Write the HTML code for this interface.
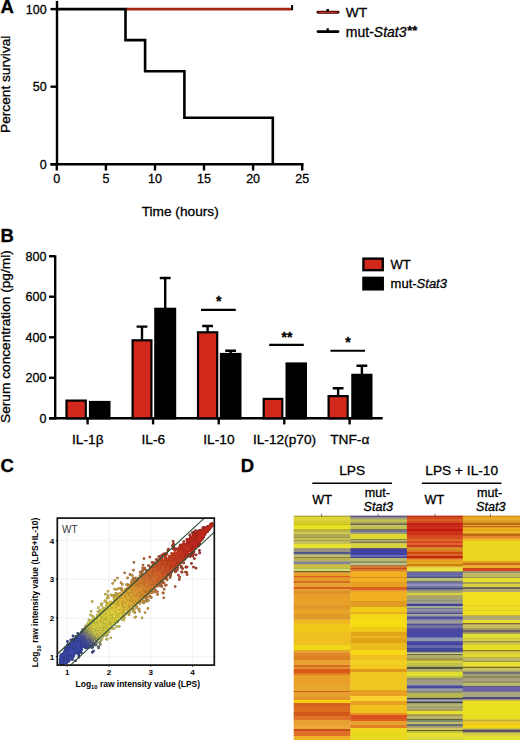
<!DOCTYPE html>
<html><head><meta charset="utf-8"><style>
html,body{margin:0;padding:0;background:#fff;width:520px;height:740px;overflow:hidden}
svg{display:block}
text{font-family:"Liberation Sans", sans-serif;fill:#000;stroke:#000;stroke-width:0.3px}
.pl{font-size:18.5px;font-weight:bold}
.t12{font-size:13.7px}
.n{font-size:12.5px}
.sh{font-size:12.6px}
.t125{font-size:13.7px}
.it{font-style:italic}
.star{font-size:14px;font-weight:bold}
.c8{font-size:8px;font-weight:bold;stroke:none}
.c10{font-size:8.8px;font-weight:bold;stroke:none}
.wt{font-size:10px;fill:#3a3a3a;stroke:none}
.ax{stroke:#000;stroke-width:2.4;fill:none}
</style></head><body>
<svg width="520" height="740" viewBox="0 0 520 740">
<text x="0.5" y="12.7" class="pl">A</text>
<path d="M57 1 V165.5" class="ax"/>
<path d="M50.5 164.3 H303.5" class="ax"/>
<path d="M50.5 164.3 H57" class="ax"/>
<text x="46.6" y="168.7" class="n" text-anchor="end">0</text>
<path d="M50.5 86.7 H57" class="ax"/>
<text x="46.6" y="91.1" class="n" text-anchor="end">50</text>
<path d="M50.5 9.1 H57" class="ax"/>
<text x="46.6" y="13.5" class="n" text-anchor="end">100</text>
<path d="M56.8 164.3 V170.5" class="ax"/>
<text x="56.8" y="183" class="n" text-anchor="middle">0</text>
<path d="M105.9 164.3 V170.5" class="ax"/>
<text x="105.9" y="183" class="n" text-anchor="middle">5</text>
<path d="M155.0 164.3 V170.5" class="ax"/>
<text x="155.0" y="183" class="n" text-anchor="middle">10</text>
<path d="M204.0 164.3 V170.5" class="ax"/>
<text x="204.0" y="183" class="n" text-anchor="middle">15</text>
<path d="M253.1 164.3 V170.5" class="ax"/>
<text x="253.1" y="183" class="n" text-anchor="middle">20</text>
<path d="M302.2 164.3 V170.5" class="ax"/>
<text x="302.2" y="183" class="n" text-anchor="middle">25</text>
<path d="M125.5 9.1 H292.4" stroke="#a82412" stroke-width="2.6" fill="none"/>
<path d="M292.1 5 V10" stroke="#000" stroke-width="2" fill="none"/>
<path d="M56.8 9.1 L125.5 9.1 L125.5 40.1 L145.1 40.1 L145.1 71.2 L184.4 71.2 L184.4 117.7 L272.8 117.7 L272.8 164.3" stroke="#000" stroke-width="2.6" fill="none" stroke-linejoin="miter"/>
<path d="M318 12.3 H338" stroke="#300" stroke-width="2.9" stroke-linecap="round"/>
<path d="M318.5 12.3 H337.5" stroke="#c02818" stroke-width="1.5"/>
<path d="M327.7 9 V12" stroke="#000" stroke-width="2.4"/>
<path d="M318 31.6 H338" stroke="#000" stroke-width="2.9" stroke-linecap="round"/>
<path d="M327.7 28.3 V31" stroke="#000" stroke-width="2.4"/>
<text x="345.8" y="17.3" class="t12">WT</text>
<text x="345.8" y="36.5" class="t12" style="font-size:14px">mut-<tspan font-style="italic">Stat3</tspan><tspan font-weight="bold" dx="0.8" dy="-1.6" style="font-size:13px">**</tspan></text>
<text transform="translate(9.9 84.3) rotate(-90)" class="t12" text-anchor="middle">Percent survival</text>
<text x="180.2" y="216.2" class="t12" text-anchor="middle">Time (hours)</text>
<text x="0.5" y="241.8" class="pl">B</text>
<path d="M55.2 255.3 V419.5" class="ax"/>
<path d="M49 418.3 H382.7" class="ax"/>
<path d="M49 418.3 H55.2" class="ax"/>
<text x="46.4" y="422.7" class="n" text-anchor="end">0</text>
<path d="M49 377.8 H55.2" class="ax"/>
<text x="46.4" y="382.2" class="n" text-anchor="end">200</text>
<path d="M49 337.3 H55.2" class="ax"/>
<text x="46.4" y="341.7" class="n" text-anchor="end">400</text>
<path d="M49 296.7 H55.2" class="ax"/>
<text x="46.4" y="301.1" class="n" text-anchor="end">600</text>
<path d="M49 256.2 H55.2" class="ax"/>
<text x="46.4" y="260.6" class="n" text-anchor="end">800</text>
<path d="M87.6 418.3 V424.4" class="ax"/>
<path d="M153.1 418.3 V424.4" class="ax"/>
<path d="M218.7 418.3 V424.4" class="ax"/>
<path d="M284.3 418.3 V424.4" class="ax"/>
<path d="M349.6 418.3 V424.4" class="ax"/>
<rect x="66.50" y="400.60" width="19.30" height="17.70" fill="#d2281c" stroke="#000" stroke-width="2.2"/>
<rect x="90.00" y="402.00" width="19.40" height="16.30" fill="#000" stroke="#000" stroke-width="2.2"/>
<rect x="132.60" y="340.30" width="18.80" height="78.00" fill="#d2281c" stroke="#000" stroke-width="2.2"/>
<path d="M142.00 340.2 V326.6 M136.60 326.6 H147.40" class="ax"/>
<rect x="155.30" y="308.80" width="19.80" height="109.50" fill="#000" stroke="#000" stroke-width="2.2"/>
<path d="M165.20 308.7 V278.0 M159.80 278.0 H170.60" class="ax"/>
<rect x="198.00" y="332.30" width="19.20" height="86.00" fill="#d2281c" stroke="#000" stroke-width="2.2"/>
<path d="M207.60 332.2 V326.0 M202.20 326.0 H213.00" class="ax"/>
<rect x="220.90" y="354.00" width="19.50" height="64.30" fill="#000" stroke="#000" stroke-width="2.2"/>
<path d="M230.65 353.9 V350.8 M225.25 350.8 H236.05" class="ax"/>
<rect x="263.70" y="398.90" width="18.60" height="19.40" fill="#d2281c" stroke="#000" stroke-width="2.2"/>
<rect x="286.60" y="363.50" width="19.30" height="54.80" fill="#000" stroke="#000" stroke-width="2.2"/>
<rect x="328.60" y="396.10" width="19.05" height="22.20" fill="#d2281c" stroke="#000" stroke-width="2.2"/>
<path d="M338.12 396.0 V388.2 M332.73 388.2 H343.52" class="ax"/>
<rect x="352.35" y="374.85" width="19.05" height="43.45" fill="#000" stroke="#000" stroke-width="2.2"/>
<path d="M361.88 374.8 V365.8 M356.48 365.8 H367.27" class="ax"/>
<path d="M201 309.8 H235.8" stroke="#000" stroke-width="2.2"/>
<text x="218.8" y="306.3" class="star" text-anchor="middle">*</text>
<path d="M269.2 344.8 H303.8" stroke="#000" stroke-width="2.2"/>
<text x="287" y="341.6" class="star" text-anchor="middle">**</text>
<path d="M330.5 350.75 H365" stroke="#000" stroke-width="2.2"/>
<text x="348" y="347.3" class="star" text-anchor="middle">*</text>
<text x="87.8" y="443.6" class="t125" text-anchor="middle">IL-1β</text>
<text x="153.29999999999998" y="443.6" class="t125" text-anchor="middle">IL-6</text>
<text x="218.89999999999998" y="443.6" class="t125" text-anchor="middle">IL-10</text>
<text x="284.5" y="443.6" class="t125" text-anchor="middle">IL-12(p70)</text>
<text x="349.8" y="443.6" class="t125" text-anchor="middle">TNF-α</text>
<rect x="363.4" y="258.6" width="19.4" height="11.6" fill="#d2281c" stroke="#000" stroke-width="2.3"/>
<rect x="363.4" y="277.8" width="19.4" height="11.6" fill="#000" stroke="#000" stroke-width="2.3"/>
<text x="390.6" y="268.9" class="t12" style="font-size:13px">WT</text>
<text x="390.6" y="288.4" class="t12" style="font-size:13px">mut-<tspan font-style="italic">Stat3</tspan></text>
<text transform="translate(10.2 336.6) rotate(-90)" class="t12" text-anchor="middle">Serum concentration (pg/ml)</text>
<text x="0.5" y="472.4" class="pl">C</text>
<path d="M67.2 518.1 V665.1" stroke="#f5f5f5" stroke-width="1.5"/>
<path d="M57.3 656.5 H214.3" stroke="#f5f5f5" stroke-width="1.5"/>
<path d="M109.0 518.1 V665.1" stroke="#f5f5f5" stroke-width="1.5"/>
<path d="M57.3 617.9 H214.3" stroke="#f5f5f5" stroke-width="1.5"/>
<path d="M150.7 518.1 V665.1" stroke="#f5f5f5" stroke-width="1.5"/>
<path d="M57.3 579.2 H214.3" stroke="#f5f5f5" stroke-width="1.5"/>
<path d="M192.5 518.1 V665.1" stroke="#f5f5f5" stroke-width="1.5"/>
<path d="M57.3 540.6 H214.3" stroke="#f5f5f5" stroke-width="1.5"/>
<defs><linearGradient id="cg" gradientUnits="userSpaceOnUse" x1="60.9" y1="662.3" x2="211.3" y2="523.2">
<stop offset="0.000" stop-color="#3947a9"/>
<stop offset="0.142" stop-color="#3a48a8"/>
<stop offset="0.167" stop-color="#545a96"/>
<stop offset="0.192" stop-color="#8c8c6c"/>
<stop offset="0.219" stop-color="#d4cc40"/>
<stop offset="0.347" stop-color="#e6d83a"/>
<stop offset="0.444" stop-color="#e6b432"/>
<stop offset="0.542" stop-color="#e2882e"/>
<stop offset="0.625" stop-color="#dc6828"/>
<stop offset="0.722" stop-color="#d2421e"/>
<stop offset="0.847" stop-color="#c82a1a"/>
<stop offset="1.000" stop-color="#c62718"/>
</linearGradient></defs>
<polygon points="61.4,656.3 62.2,655.1 63.0,653.9 63.9,652.7 64.7,651.5 65.5,650.4 66.4,649.2 67.2,648.3 68.0,647.5 68.9,646.7 69.7,646.0 70.5,645.2 71.4,644.4 72.2,643.7 73.0,642.9 73.9,642.1 74.7,641.3 75.6,640.6 76.4,639.8 77.2,639.0 78.1,638.2 78.9,637.5 79.7,636.7 80.6,635.9 81.4,635.2 82.2,634.4 83.1,633.6 83.9,632.8 84.7,632.1 85.6,631.3 86.4,630.5 87.2,629.7 88.1,626.2 88.9,625.4 89.8,624.6 90.6,623.9 91.4,623.1 92.3,622.3 93.1,621.5 93.9,620.8 94.8,620.0 95.6,619.2 96.4,618.4 97.3,617.7 98.1,616.9 98.9,616.1 99.8,615.4 100.6,614.6 101.5,613.8 102.3,613.0 103.1,612.3 104.0,611.5 104.8,610.7 105.6,610.0 106.5,609.2 107.3,608.4 108.1,607.6 109.0,606.9 109.8,606.1 110.6,605.3 111.5,604.5 112.3,603.8 113.1,603.0 114.0,602.2 114.8,601.5 115.7,600.7 116.5,599.9 117.3,599.1 118.2,598.4 119.0,597.6 119.8,596.8 120.7,596.0 121.5,595.3 122.3,594.5 123.2,593.7 124.0,593.0 124.8,592.2 125.7,591.4 126.5,590.6 127.3,589.9 128.2,589.1 129.0,588.3 129.9,587.5 130.7,586.8 131.5,586.0 132.4,585.2 133.2,584.5 134.0,586.5 134.9,585.7 135.7,584.9 136.5,584.2 137.4,583.4 138.2,582.6 139.0,581.8 139.9,581.1 140.7,580.3 141.6,579.5 142.4,578.8 143.2,578.0 144.1,577.2 144.9,576.4 145.7,575.7 146.6,574.9 147.4,574.1 148.2,573.3 149.1,572.6 149.9,571.8 150.7,571.0 151.6,570.3 152.4,569.5 153.2,568.7 154.1,567.9 154.9,567.2 155.8,566.4 156.6,565.6 157.4,564.9 158.3,564.1 159.1,563.3 159.9,562.5 160.8,561.8 161.6,561.0 162.4,560.2 163.3,559.4 164.1,558.7 164.9,557.9 165.8,557.1 166.6,556.4 167.4,559.7 168.3,559.0 169.1,558.2 170.0,557.4 170.8,556.6 171.6,555.9 172.5,555.1 173.3,554.3 174.1,553.6 175.0,552.8 175.8,552.0 176.6,551.2 177.5,550.5 178.3,549.7 179.1,548.9 180.0,548.1 180.8,547.4 181.6,546.6 182.5,545.8 183.3,545.1 184.2,544.3 185.0,543.5 185.8,542.7 186.7,542.0 187.5,541.2 188.3,540.4 189.2,539.6 190.0,538.9 190.8,538.1 191.7,537.3 192.5,536.6 193.3,536.1 194.2,535.6 195.0,535.0 195.9,534.5 196.7,534.0 197.5,533.5 198.4,533.0 199.2,532.5 200.0,532.0 200.9,531.5 201.7,531.0 202.5,530.5 203.4,530.0 204.2,529.5 205.0,529.0 205.9,528.5 206.7,528.0 207.5,527.5 208.4,527.0 209.2,526.5 210.1,525.8 210.9,525.1 211.7,524.3 211.7,526.0 210.9,526.8 210.1,527.6 209.2,528.4 208.4,529.5 207.5,530.5 206.7,531.6 205.9,532.6 205.0,533.6 204.2,534.7 203.4,535.7 202.5,536.8 201.7,537.8 200.9,538.9 200.0,539.9 199.2,541.0 198.4,542.0 197.5,543.0 196.7,544.1 195.9,545.1 195.0,546.2 194.2,547.2 193.3,548.3 192.5,549.3 191.7,550.1 190.8,550.8 190.0,551.6 189.2,552.4 188.3,553.2 187.5,553.9 186.7,554.7 185.8,555.5 185.0,556.3 184.2,557.0 183.3,557.8 182.5,558.6 181.6,559.3 180.8,560.1 180.0,560.9 179.1,561.7 178.3,562.4 177.5,563.2 176.6,564.0 175.8,564.8 175.0,565.5 174.1,566.3 173.3,567.1 172.5,567.8 171.6,568.6 170.8,569.4 170.0,570.2 169.1,570.9 168.3,571.7 167.4,572.5 166.6,574.3 165.8,575.1 164.9,575.9 164.1,576.6 163.3,577.4 162.4,578.2 161.6,579.0 160.8,579.7 159.9,580.5 159.1,581.3 158.3,582.0 157.4,582.8 156.6,583.6 155.8,584.4 154.9,585.1 154.1,585.9 153.2,586.7 152.4,587.4 151.6,588.2 150.7,589.0 149.9,589.8 149.1,590.5 148.2,591.3 147.4,592.1 146.6,592.9 145.7,593.6 144.9,594.4 144.1,595.2 143.2,595.9 142.4,596.7 141.6,597.5 140.7,598.3 139.9,599.0 139.0,599.8 138.2,600.6 137.4,601.4 136.5,602.1 135.7,602.9 134.9,603.7 134.0,604.4 133.2,604.2 132.4,604.9 131.5,605.7 130.7,606.5 129.9,607.2 129.0,608.0 128.2,608.8 127.3,609.6 126.5,610.3 125.7,611.1 124.8,611.9 124.0,612.7 123.2,613.4 122.3,614.2 121.5,615.0 120.7,615.7 119.8,616.5 119.0,617.3 118.2,618.1 117.3,618.8 116.5,619.6 115.7,620.4 114.8,621.2 114.0,621.9 113.1,622.7 112.3,623.5 111.5,624.2 110.6,625.0 109.8,625.8 109.0,626.6 108.1,627.3 107.3,628.1 106.5,628.9 105.6,629.7 104.8,630.4 104.0,631.2 103.1,632.0 102.3,632.7 101.5,633.5 100.6,634.3 99.8,635.1 98.9,635.8 98.1,636.6 97.3,637.4 96.4,638.2 95.6,638.9 94.8,639.7 93.9,640.5 93.1,641.2 92.3,642.0 91.4,642.8 90.6,643.6 89.8,644.3 88.9,645.1 88.1,645.9 87.2,643.1 86.4,643.8 85.6,644.6 84.7,645.4 83.9,646.2 83.1,646.9 82.2,647.7 81.4,648.5 80.6,649.3 79.7,650.0 78.9,650.8 78.1,651.6 77.2,652.3 76.4,653.1 75.6,653.9 74.7,654.7 73.9,655.4 73.0,656.2 72.2,657.0 71.4,657.8 70.5,658.5 69.7,659.3 68.9,660.1 68.0,660.8 67.2,661.6 66.4,662.3 65.5,662.6 64.7,663.0 63.9,663.4 63.0,663.7 62.2,664.1 61.4,664.5" fill="url(#cg)"/>
<path d="M144.5 588.1h0M137.5 587.3h0M145.8 591.7h0M146.9 594.4h0M142.8 587.6h0M146.6 594.6h0M142.6 589.1h0M143.7 589.5h0M142.9 590.4h0M143.4 592.1h0M141.4 588.1h0M133.0 582.4h0M142.1 587.4h0M135.6 583.7h0M142.9 588.2h0M147.1 595.9h0M136.5 586.2h0M143.2 589.2h0M143.4 592.5h0M147.2 595.5h0M143.2 590.5h0M137.2 586.6h0M132.4 582.3h0M138.4 582.7h0M136.4 586.2h0M137.7 584.5h0" stroke="#b07028" stroke-width="2.8" stroke-linecap="round" fill="none"/>
<path d="M171.5 556.7h0M176.0 556.6h0M177.3 559.7h0M179.8 556.3h0M170.2 557.4h0M180.4 554.3h0M177.4 553.7h0M173.2 557.7h0M174.2 561.5h0M175.3 556.2h0M172.7 558.4h0M177.8 557.1h0M179.9 553.4h0M180.4 561.9h0M175.0 556.7h0M181.6 557.1h0M177.2 559.7h0M178.9 559.2h0M181.2 557.2h0M180.1 558.6h0M177.8 556.9h0M179.3 556.3h0M172.9 559.3h0M180.3 555.3h0M182.6 559.7h0M170.4 557.5h0M170.9 558.4h0M175.5 559.7h0M179.7 562.6h0M172.1 557.3h0M177.4 559.6h0M173.2 560.6h0M175.8 557.0h0M176.6 559.3h0M175.7 563.0h0M178.3 560.0h0M178.9 564.4h0" stroke="#a03018" stroke-width="2.8" stroke-linecap="round" fill="none"/>
<path d="M153.8 567.7h0M156.8 570.3h0M156.5 570.7h0M156.2 571.0h0M156.1 571.9h0M158.4 574.0h0M156.1 571.5h0M164.9 578.8h0" stroke="#a85020" stroke-width="2.8" stroke-linecap="round" fill="none"/>
<path d="M187.7 547.2h0M186.2 547.8h0M183.3 551.1h0M182.2 553.8h0M190.3 550.2h0M186.5 552.6h0M185.8 555.4h0M185.9 555.3h0M187.3 550.4h0M184.0 549.2h0M182.4 550.9h0M184.9 557.2h0M183.3 553.1h0M180.1 550.8h0M185.7 553.6h0M188.8 549.0h0M183.4 546.6h0M185.2 549.3h0M184.1 552.5h0M185.5 550.8h0M187.4 550.4h0M181.5 551.2h0M182.6 548.9h0M185.2 546.7h0M180.2 551.8h0M182.3 544.9h0M187.3 555.1h0M187.8 553.5h0M189.0 548.8h0M185.9 547.6h0M183.6 546.7h0M182.5 552.6h0M188.1 548.7h0M183.6 546.2h0M179.6 551.5h0M183.3 544.1h0M182.4 547.1h0M182.6 550.2h0M182.0 550.1h0M185.9 550.3h0M182.6 551.2h0" stroke="#a02818" stroke-width="2.8" stroke-linecap="round" fill="none"/>
<path d="M96.0 633.6h0M92.2 629.6h0M97.5 633.1h0M93.8 629.7h0M92.8 627.8h0M96.6 631.0h0M91.9 628.4h0M95.1 628.8h0M96.6 632.7h0M98.1 633.4h0M95.8 633.8h0M92.2 630.1h0M95.0 629.8h0M97.5 630.8h0M98.9 635.3h0" stroke="#a8a038" stroke-width="2.8" stroke-linecap="round" fill="none"/>
<path d="M99.7 642.4h0" stroke="#787850" stroke-width="2.8" stroke-linecap="round" fill="none"/>
<path d="M164.8 567.8h0M163.8 568.8h0M162.0 565.3h0M162.6 562.9h0M169.2 570.3h0M168.7 568.9h0M162.3 567.6h0M163.4 561.8h0M161.4 562.6h0M170.0 569.0h0M167.9 572.7h0M164.9 564.1h0M169.0 568.5h0M166.5 564.8h0M162.9 565.3h0M165.5 564.2h0M168.0 572.9h0M171.1 570.4h0M163.2 565.3h0" stroke="#a84020" stroke-width="2.8" stroke-linecap="round" fill="none"/>
<path d="M167.5 564.1h0M176.1 565.4h0M168.5 561.7h0M169.9 561.2h0M171.5 561.4h0M171.9 567.2h0M167.9 561.4h0M170.0 560.1h0M169.4 561.9h0M166.7 562.9h0M173.0 565.0h0M171.3 561.1h0M167.8 562.6h0M171.7 562.4h0M172.9 567.7h0M170.1 566.7h0M171.2 564.1h0M165.7 561.8h0M164.1 561.3h0M166.7 563.0h0" stroke="#a83818" stroke-width="2.8" stroke-linecap="round" fill="none"/>
<path d="M95.2 634.1h0M104.8 601.2h0M94.0 633.5h0M89.4 629.0h0M124.5 617.6h0" stroke="#a09840" stroke-width="2.8" stroke-linecap="round" fill="none"/>
<path d="M83.3 639.2h0" stroke="#384078" stroke-width="2.8" stroke-linecap="round" fill="none"/>
<path d="M208.9 526.6h0M199.1 535.2h0M208.9 527.4h0M195.4 537.0h0M211.5 525.8h0M199.6 536.9h0M197.3 538.5h0M194.3 538.4h0M200.2 536.7h0M199.1 534.6h0M198.7 535.5h0M196.9 536.7h0M195.3 539.4h0M199.5 535.2h0M207.7 528.4h0M209.2 528.0h0M201.7 534.0h0M206.0 529.8h0M202.2 531.1h0M199.2 541.7h0M197.0 536.2h0M198.2 536.7h0M200.0 535.9h0M209.9 527.8h0M210.5 526.5h0M197.7 538.7h0M198.4 539.0h0M197.0 535.1h0M206.6 531.5h0M205.7 529.5h0M200.3 536.7h0M197.4 539.7h0M200.2 535.0h0M205.7 532.0h0M208.8 529.0h0M208.4 528.6h0M211.0 526.7h0M208.8 527.6h0M205.8 529.3h0M202.0 533.8h0M206.7 530.3h0M202.3 534.5h0M202.8 534.6h0M206.0 531.6h0M207.3 529.6h0M198.2 543.2h0M205.9 529.1h0M201.9 534.8h0M199.5 531.9h0M204.8 532.4h0M199.4 535.5h0M198.0 535.0h0M205.1 530.3h0M205.8 528.8h0M199.6 536.2h0M203.8 535.5h0M204.8 532.7h0M204.9 529.6h0M203.8 533.6h0M208.3 529.8h0M204.1 531.1h0M202.3 538.2h0M208.1 528.4h0M198.1 539.0h0M209.4 527.1h0M211.3 526.2h0M196.2 538.1h0M198.8 541.2h0M208.0 527.1h0M199.0 536.2h0" stroke="#982018" stroke-width="2.8" stroke-linecap="round" fill="none"/>
<path d="M77.1 651.2h0M72.2 646.9h0M74.5 646.1h0M73.7 643.5h0M77.6 651.8h0M65.0 656.4h0M73.2 648.2h0M66.8 654.0h0M77.7 644.7h0M74.9 640.5h0M68.0 651.7h0M66.5 656.2h0M70.4 649.4h0M78.2 646.0h0M73.9 643.9h0M78.3 644.7h0M74.8 646.5h0M80.8 651.3h0M80.1 639.6h0M76.4 646.0h0M70.3 651.8h0M67.0 658.3h0M76.9 641.7h0M70.0 653.5h0M65.4 658.2h0M68.8 646.1h0M62.7 656.1h0M70.6 648.6h0M74.8 652.5h0M76.0 644.5h0M79.0 649.2h0M77.3 644.7h0M67.2 655.6h0M72.5 652.5h0M81.1 644.9h0M75.4 644.2h0M81.4 640.9h0M65.7 647.7h0M74.8 651.5h0M82.6 645.8h0M68.7 649.4h0M73.8 651.9h0M67.2 657.0h0M73.0 649.1h0M81.7 641.4h0M77.6 650.2h0M69.2 650.9h0M77.3 646.0h0M70.8 647.8h0M67.3 655.5h0M69.0 648.0h0M78.4 642.8h0M62.2 655.5h0M83.2 646.2h0M72.9 646.5h0M78.1 645.6h0M64.9 656.6h0M79.3 643.1h0M70.9 652.4h0M70.4 649.8h0M74.2 647.6h0M78.1 641.2h0M69.8 657.7h0M80.0 642.5h0M70.3 655.2h0M67.7 648.6h0M72.2 647.4h0M68.5 648.5h0M75.7 648.3h0M64.6 656.4h0M67.8 652.2h0M66.0 655.9h0M72.4 652.1h0M68.2 651.1h0M79.8 640.9h0M76.3 645.2h0M68.0 656.2h0M74.6 643.8h0M71.6 641.6h0M72.5 640.9h0M80.8 643.3h0M67.0 652.1h0M67.8 652.7h0" stroke="#303880" stroke-width="2.8" stroke-linecap="round" fill="none"/>
<path d="M99.2 628.3h0M107.5 630.2h0M94.5 621.1h0M107.1 617.7h0M98.9 623.7h0M105.7 620.2h0M96.2 620.0h0M106.3 618.7h0M107.0 619.0h0M96.9 625.9h0M99.7 613.6h0M99.4 614.8h0M102.9 615.5h0M110.0 621.4h0M103.5 624.3h0M102.5 621.4h0M103.2 617.9h0M111.9 622.0h0M101.2 621.0h0M96.3 626.1h0M106.2 622.2h0M106.5 621.8h0M101.4 627.1h0M101.2 619.5h0M105.1 620.1h0M100.5 629.6h0M99.4 615.9h0M105.0 619.2h0M104.3 627.8h0M106.9 632.0h0M105.5 618.9h0M100.1 625.7h0M102.6 618.0h0M106.6 616.4h0M100.7 613.9h0M97.1 615.2h0M96.8 619.2h0M108.3 626.2h0M109.1 622.2h0M98.6 625.0h0M101.0 619.7h0M106.7 622.9h0M98.9 623.3h0M104.5 616.4h0M106.8 618.1h0M101.4 620.8h0M106.4 632.5h0M107.4 619.1h0M102.6 627.6h0M104.1 623.1h0M104.0 617.7h0M102.1 627.3h0" stroke="#b0a838" stroke-width="2.8" stroke-linecap="round" fill="none"/>
<path d="M174.5 569.3h0M161.5 556.4h0M160.7 556.0h0M174.1 570.3h0" stroke="#883828" stroke-width="2.8" stroke-linecap="round" fill="none"/>
<path d="M195.1 543.0h0M194.5 541.6h0M191.9 546.0h0M195.9 541.3h0M195.8 541.2h0M193.4 543.4h0M192.9 540.7h0M192.6 542.4h0M192.8 544.4h0M192.2 538.4h0M187.8 541.9h0M193.9 548.4h0M195.1 543.9h0M191.7 544.1h0M192.3 549.5h0M189.9 543.5h0M196.1 544.5h0M187.5 544.7h0M191.7 545.1h0M191.8 544.9h0M192.2 539.8h0M189.4 539.2h0" stroke="#a02018" stroke-width="2.8" stroke-linecap="round" fill="none"/>
<path d="M152.6 587.2h0M148.7 580.3h0M153.2 587.4h0M153.4 583.3h0M146.9 581.1h0M147.5 576.0h0M149.3 578.3h0M151.8 584.2h0M144.7 575.0h0M155.1 584.6h0M148.4 580.9h0M151.0 581.7h0M146.0 574.9h0M150.1 580.0h0M154.4 587.7h0M146.7 577.1h0M143.6 577.9h0M153.0 583.1h0M143.4 576.3h0M150.1 584.0h0M152.6 581.1h0M147.1 579.3h0" stroke="#b06028" stroke-width="2.8" stroke-linecap="round" fill="none"/>
<path d="M122.7 599.5h0M123.0 596.6h0M124.1 596.8h0M122.8 597.0h0M132.2 603.9h0M125.1 599.4h0M132.5 603.8h0M133.4 605.7h0M124.3 599.0h0M130.4 602.9h0M120.1 593.3h0M130.4 604.6h0M129.1 601.7h0M119.7 595.7h0M128.3 601.0h0" stroke="#b89030" stroke-width="2.8" stroke-linecap="round" fill="none"/>
<path d="M154.5 581.4h0M153.1 579.6h0M149.8 576.5h0M159.2 584.7h0M153.9 579.4h0M147.2 574.8h0M152.0 579.1h0M153.1 580.1h0" stroke="#b05828" stroke-width="2.8" stroke-linecap="round" fill="none"/>
<path d="M109.2 615.4h0M109.5 609.1h0M109.1 606.2h0M110.8 608.5h0M117.0 611.4h0M121.1 616.8h0M109.1 614.0h0M107.1 614.1h0M111.5 615.6h0M117.4 610.6h0M123.5 616.8h0M113.7 616.9h0M116.7 613.6h0M109.5 607.1h0M114.1 614.3h0M113.9 610.2h0M113.3 609.8h0M114.3 612.2h0M119.0 616.2h0M115.7 610.9h0M114.5 612.9h0M110.9 614.2h0M114.3 621.3h0M108.7 614.3h0M117.0 611.0h0M115.0 612.8h0M114.8 612.8h0M121.9 615.3h0M116.2 619.6h0M111.7 618.0h0M111.0 616.1h0M111.5 608.6h0M110.3 610.0h0" stroke="#b8a830" stroke-width="2.8" stroke-linecap="round" fill="none"/>
<path d="M129.8 594.2h0M125.8 595.5h0M130.6 598.5h0M138.2 602.3h0M133.8 598.4h0M130.9 596.6h0M134.8 602.5h0M129.2 595.6h0M125.8 594.6h0M134.6 598.6h0M131.0 596.4h0M126.5 595.8h0M123.2 592.8h0" stroke="#b88828" stroke-width="2.8" stroke-linecap="round" fill="none"/>
<path d="M170.0 575.9h0M153.0 563.7h0M144.0 558.6h0M170.0 577.5h0" stroke="#904828" stroke-width="2.8" stroke-linecap="round" fill="none"/>
<path d="M82.5 639.8h0M83.1 640.1h0M84.4 641.8h0M83.3 641.2h0M80.2 638.1h0M79.9 636.8h0M83.8 642.0h0" stroke="#384080" stroke-width="2.8" stroke-linecap="round" fill="none"/>
<path d="M135.5 595.2h0M127.4 589.0h0M132.1 592.6h0M131.7 593.0h0M138.0 594.8h0M129.3 587.5h0M134.3 591.1h0M138.4 599.1h0M136.7 594.7h0M132.0 593.9h0M131.2 591.5h0M136.0 594.6h0M129.3 590.1h0M126.6 589.8h0M131.6 593.5h0M139.1 596.7h0M134.2 596.2h0M139.5 597.6h0M137.1 597.4h0M138.8 595.6h0M132.0 594.4h0M133.9 591.6h0M135.5 598.1h0" stroke="#b88028" stroke-width="2.8" stroke-linecap="round" fill="none"/>
<path d="M93.8 636.4h0M85.3 626.7h0" stroke="#888048" stroke-width="2.8" stroke-linecap="round" fill="none"/>
<path d="M152.7 573.6h0M154.6 575.9h0M152.7 577.2h0M157.8 578.7h0" stroke="#b05820" stroke-width="2.8" stroke-linecap="round" fill="none"/>
<path d="M181.4 567.4h0M162.6 555.2h0M177.9 567.7h0" stroke="#883820" stroke-width="2.8" stroke-linecap="round" fill="none"/>
<path d="M142.7 570.6h0M144.3 569.0h0M161.9 586.4h0" stroke="#905830" stroke-width="2.8" stroke-linecap="round" fill="none"/>
<path d="M97.2 629.5h0M92.4 625.2h0M95.3 625.4h0M95.8 625.8h0M96.3 629.3h0M96.2 626.5h0M99.7 630.6h0M98.6 631.3h0" stroke="#a8a838" stroke-width="2.8" stroke-linecap="round" fill="none"/>
<path d="M130.3 607.2h0M115.6 600.7h0M125.6 603.5h0M122.8 602.6h0M121.1 601.8h0M129.2 610.5h0M126.4 608.6h0M126.2 607.3h0M122.4 599.9h0M123.9 601.4h0M121.0 602.8h0M124.2 601.0h0M114.8 599.0h0M128.2 607.8h0M125.2 604.0h0M119.0 601.9h0M126.0 608.5h0M125.9 607.6h0M116.2 597.4h0M120.1 603.6h0M118.3 600.3h0" stroke="#b89830" stroke-width="2.8" stroke-linecap="round" fill="none"/>
<path d="M127.6 577.9h0M146.6 601.3h0M145.9 600.4h0" stroke="#987038" stroke-width="2.8" stroke-linecap="round" fill="none"/>
<path d="M88.9 647.5h0M79.3 638.8h0M83.4 642.6h0M83.3 642.1h0M78.3 637.3h0" stroke="#304080" stroke-width="2.8" stroke-linecap="round" fill="none"/>
<path d="M165.4 571.4h0M164.9 577.1h0M162.8 573.8h0M161.5 571.8h0M164.1 574.3h0M165.6 577.1h0M161.2 573.8h0M161.1 569.4h0M161.6 570.7h0M155.9 568.0h0M164.8 571.2h0M158.5 569.5h0M162.7 569.9h0M166.0 574.7h0" stroke="#a84820" stroke-width="2.8" stroke-linecap="round" fill="none"/>
<path d="M187.9 556.3h0M172.4 545.7h0M193.5 567.1h0" stroke="#803020" stroke-width="2.8" stroke-linecap="round" fill="none"/>
<path d="M147.4 589.0h0M144.2 587.0h0M145.3 585.6h0M149.0 589.7h0M139.2 582.6h0M144.2 585.5h0M143.3 585.6h0M145.3 581.7h0M144.7 585.8h0M138.6 581.0h0M143.7 583.3h0M148.6 585.5h0M146.5 587.8h0M151.0 587.9h0M142.9 581.8h0M144.0 585.1h0M146.0 586.2h0M146.3 583.0h0M149.9 586.2h0M149.2 585.3h0M152.2 588.2h0M144.2 585.6h0M151.4 589.8h0" stroke="#b06828" stroke-width="2.8" stroke-linecap="round" fill="none"/>
<path d="M85.2 639.1h0M79.9 634.5h0M86.2 640.5h0M85.3 638.6h0M84.6 638.1h0" stroke="#404878" stroke-width="2.8" stroke-linecap="round" fill="none"/>
<path d="M156.3 575.8h0M154.9 574.0h0M150.3 568.6h0M157.3 576.5h0M152.7 572.6h0M155.3 573.1h0" stroke="#b05020" stroke-width="2.8" stroke-linecap="round" fill="none"/>
<path d="M131.4 600.9h0M125.8 596.1h0M128.6 599.3h0M132.0 601.9h0" stroke="#b89028" stroke-width="2.8" stroke-linecap="round" fill="none"/>
<path d="M143.1 593.9h0M131.3 582.5h0M134.0 586.6h0M141.8 594.8h0M140.1 594.9h0M136.1 589.4h0M144.0 594.4h0M143.3 595.5h0M132.0 584.1h0M137.4 590.9h0M129.3 585.1h0M145.0 597.3h0M142.9 595.1h0M131.4 587.2h0M140.9 591.3h0" stroke="#b07828" stroke-width="2.8" stroke-linecap="round" fill="none"/>
<path d="M116.6 626.4h0M106.3 605.4h0M91.1 611.3h0M92.2 601.5h0M98.0 611.7h0M122.2 619.6h0M119.3 626.5h0M98.3 607.7h0" stroke="#a09848" stroke-width="2.8" stroke-linecap="round" fill="none"/>
<path d="M61.1 661.5h0M62.3 661.4h0M61.2 657.0h0M60.9 656.4h0M60.7 661.4h0M60.2 662.9h0M60.3 662.4h0M62.7 660.6h0M63.2 663.3h0M64.4 662.0h0M64.0 660.0h0M63.7 658.5h0M60.4 660.5h0M62.0 657.2h0" stroke="#303888" stroke-width="2.8" stroke-linecap="round" fill="none"/>
<path d="M90.4 637.6h0" stroke="#686860" stroke-width="2.8" stroke-linecap="round" fill="none"/>
<path d="M134.9 578.3h0M134.3 580.1h0M130.0 574.5h0M132.2 575.4h0M124.7 572.8h0" stroke="#986838" stroke-width="2.8" stroke-linecap="round" fill="none"/>
<path d="M82.6 629.7h0" stroke="#606058" stroke-width="2.8" stroke-linecap="round" fill="none"/>
<path d="M207.6 531.5h0M194.4 558.6h0M199.5 543.9h0M203.7 536.5h0M204.5 527.4h0M199.4 550.5h0M201.0 540.5h0M194.0 533.1h0" stroke="#802820" stroke-width="2.8" stroke-linecap="round" fill="none"/>
<path d="M118.4 606.5h0M116.7 602.1h0M120.9 607.2h0M117.2 605.2h0M117.2 606.8h0M117.0 606.7h0M115.1 606.7h0M123.1 609.5h0M121.6 613.2h0M121.3 609.4h0M115.5 605.1h0M119.5 606.6h0M114.4 601.9h0M122.1 607.6h0M120.0 606.0h0M112.1 603.2h0M113.5 603.4h0M111.5 603.0h0M116.9 605.3h0M118.6 606.7h0M119.5 610.2h0M123.5 610.7h0" stroke="#b8a030" stroke-width="2.8" stroke-linecap="round" fill="none"/>
<path d="M139.9 576.2h0M154.9 592.2h0" stroke="#986030" stroke-width="2.8" stroke-linecap="round" fill="none"/>
<path d="M91.9 635.1h0M88.2 632.2h0" stroke="#808050" stroke-width="2.8" stroke-linecap="round" fill="none"/>
<path d="M180.7 562.9h0" stroke="#883020" stroke-width="2.8" stroke-linecap="round" fill="none"/>
<path d="M113.7 595.5h0M133.4 609.4h0M132.8 609.6h0M116.3 589.7h0M142.0 617.8h0M117.9 594.4h0" stroke="#a08840" stroke-width="2.8" stroke-linecap="round" fill="none"/>
<path d="M89.2 634.5h0" stroke="#787058" stroke-width="2.8" stroke-linecap="round" fill="none"/>
<path d="M91.9 634.1h0M100.9 640.3h0M92.1 634.1h0" stroke="#888848" stroke-width="2.8" stroke-linecap="round" fill="none"/>
<path d="M78.5 654.3h0M87.2 647.9h0M61.0 654.7h0M76.7 636.7h0M71.4 640.9h0M78.9 655.3h0M67.5 641.5h0" stroke="#303868" stroke-width="2.8" stroke-linecap="round" fill="none"/>
<path d="M107.3 634.6h0M106.9 634.7h0M102.7 636.7h0" stroke="#989848" stroke-width="2.8" stroke-linecap="round" fill="none"/>
<path d="M87.2 636.0h0M84.2 633.3h0M86.8 635.4h0M86.9 635.6h0" stroke="#606060" stroke-width="2.8" stroke-linecap="round" fill="none"/>
<path d="M88.6 632.8h0" stroke="#807850" stroke-width="2.8" stroke-linecap="round" fill="none"/>
<path d="M106.5 609.0h0M114.1 615.8h0" stroke="#b8b030" stroke-width="2.8" stroke-linecap="round" fill="none"/>
<path d="M90.8 636.5h0" stroke="#707058" stroke-width="2.8" stroke-linecap="round" fill="none"/>
<path d="M128.9 613.5h0M114.2 597.5h0" stroke="#a09040" stroke-width="2.8" stroke-linecap="round" fill="none"/>
<path d="M93.5 640.1h0" stroke="#686858" stroke-width="2.8" stroke-linecap="round" fill="none"/>
<path d="M85.9 638.9h0" stroke="#484878" stroke-width="2.8" stroke-linecap="round" fill="none"/>
<path d="M171.4 571.7h0M158.8 556.6h0" stroke="#884028" stroke-width="2.8" stroke-linecap="round" fill="none"/>
<path d="M82.0 632.2h0" stroke="#585868" stroke-width="2.8" stroke-linecap="round" fill="none"/>
<path d="M87.1 632.5h0" stroke="#787858" stroke-width="2.8" stroke-linecap="round" fill="none"/>
<path d="M94.5 633.3h0M91.1 630.1h0" stroke="#a0a038" stroke-width="2.8" stroke-linecap="round" fill="none"/>
<path d="M87.6 638.6h0M89.0 640.0h0M87.5 638.6h0M88.7 639.6h0" stroke="#505070" stroke-width="2.8" stroke-linecap="round" fill="none"/>
<path d="M90.4 639.5h0" stroke="#586068" stroke-width="2.8" stroke-linecap="round" fill="none"/>
<path d="M112.7 583.4h0" stroke="#a08038" stroke-width="2.8" stroke-linecap="round" fill="none"/>
<path d="M138.6 609.3h0" stroke="#a08040" stroke-width="2.8" stroke-linecap="round" fill="none"/>
<path d="M93.9 634.3h0M92.0 632.4h0" stroke="#989040" stroke-width="2.8" stroke-linecap="round" fill="none"/>
<path d="M169.7 559.3h0M170.1 559.7h0M170.5 560.0h0" stroke="#a03818" stroke-width="2.8" stroke-linecap="round" fill="none"/>
<path d="M94.9 634.7h0" stroke="#989840" stroke-width="2.8" stroke-linecap="round" fill="none"/>
<path d="M109.4 618.8h0" stroke="#b0a830" stroke-width="2.8" stroke-linecap="round" fill="none"/>
<path d="M121.0 582.7h0M147.9 608.5h0" stroke="#a07838" stroke-width="2.8" stroke-linecap="round" fill="none"/>
<path d="M144.5 588.1h0M145.8 591.7h0M142.8 587.6h0M142.6 589.1h0M147.4 589.0h0M143.7 589.5h0M144.2 587.0h0M149.0 589.7h0M139.2 582.6h0M144.2 585.5h0M143.3 585.6h0M144.7 585.8h0M138.6 581.0h0M142.1 587.4h0M142.9 588.2h0M146.5 587.8h0M144.0 585.1h0M143.2 589.2h0M138.4 582.7h0M137.7 584.5h0M144.2 585.6h0" stroke="#e08830" stroke-width="1.8" stroke-linecap="round" fill="none"/>
<path d="M171.5 556.7h0M177.3 559.7h0M173.2 557.7h0M175.3 556.2h0M172.7 558.4h0M180.4 561.9h0M175.0 556.7h0M177.2 559.7h0M175.5 559.7h0M179.7 562.6h0M172.1 557.3h0M177.4 559.6h0M175.8 557.0h0M176.6 559.3h0M178.3 560.0h0M178.9 564.4h0" stroke="#c84020" stroke-width="1.8" stroke-linecap="round" fill="none"/>
<path d="M153.8 567.7h0M156.8 570.3h0M164.9 577.1h0M162.8 573.8h0M156.5 570.7h0M165.6 577.1h0M156.2 571.0h0M156.1 571.9h0M161.2 573.8h0M158.4 574.0h0M156.1 571.5h0M155.9 568.0h0M158.5 569.5h0M164.9 578.8h0" stroke="#d86028" stroke-width="1.8" stroke-linecap="round" fill="none"/>
<path d="M187.7 547.2h0M186.2 547.8h0M183.3 551.1h0M190.3 550.2h0M186.5 552.6h0M187.3 550.4h0M184.0 549.2h0M182.4 550.9h0M185.7 553.6h0M188.8 549.0h0M183.4 546.6h0M185.2 549.3h0M184.1 552.5h0M185.5 550.8h0M187.4 550.4h0M182.6 548.9h0M185.2 546.7h0M182.3 544.9h0M187.3 555.1h0M187.8 553.5h0M189.0 548.8h0M185.9 547.6h0M183.6 546.7h0M188.1 548.7h0M183.6 546.2h0M183.3 544.1h0M182.4 547.1h0M182.6 550.2h0M182.0 550.1h0M185.9 550.3h0" stroke="#c83020" stroke-width="1.8" stroke-linecap="round" fill="none"/>
<path d="M96.0 633.6h0M92.2 629.6h0M91.9 628.4h0M96.6 632.7h0M95.8 633.8h0M92.2 630.1h0M98.9 635.3h0" stroke="#d0c848" stroke-width="1.8" stroke-linecap="round" fill="none"/>
<path d="M99.7 642.4h0M89.2 634.5h0M87.1 632.5h0" stroke="#909068" stroke-width="1.8" stroke-linecap="round" fill="none"/>
<path d="M164.8 567.8h0M162.0 565.3h0M169.2 570.3h0M168.7 568.9h0M161.4 562.6h0M162.9 565.3h0M163.2 565.3h0" stroke="#d05028" stroke-width="1.8" stroke-linecap="round" fill="none"/>
<path d="M167.5 564.1h0M168.5 561.7h0M171.9 567.2h0M167.9 561.4h0M166.7 562.9h0M167.8 562.6h0M163.4 561.8h0M172.9 567.7h0M170.1 566.7h0M171.2 564.1h0M165.7 561.8h0M166.5 564.8h0M164.1 561.3h0M166.7 563.0h0" stroke="#d04820" stroke-width="1.8" stroke-linecap="round" fill="none"/>
<path d="M95.2 634.1h0M94.5 633.3h0M91.1 630.1h0" stroke="#c8c048" stroke-width="1.8" stroke-linecap="round" fill="none"/>
<path d="M176.1 565.4h0M169.9 561.2h0M171.5 561.4h0M170.2 557.4h0M174.2 561.5h0M170.0 560.1h0M169.4 561.9h0M173.0 565.0h0M171.3 561.1h0M172.9 559.3h0M170.4 557.5h0M170.9 558.4h0M171.7 562.4h0M169.7 559.3h0M173.2 560.6h0M170.1 559.7h0M170.5 560.0h0M175.7 563.0h0" stroke="#d04020" stroke-width="1.8" stroke-linecap="round" fill="none"/>
<path d="M83.3 639.2h0M79.9 636.8h0" stroke="#485098" stroke-width="1.8" stroke-linecap="round" fill="none"/>
<path d="M208.9 526.6h0M199.1 535.2h0M208.9 527.4h0M195.4 537.0h0M211.5 525.8h0M195.9 541.3h0M199.6 536.9h0M197.3 538.5h0M195.8 541.2h0M194.3 538.4h0M200.2 536.7h0M199.1 534.6h0M198.7 535.5h0M196.9 536.7h0M195.3 539.4h0M199.5 535.2h0M207.7 528.4h0M209.2 528.0h0M201.7 534.0h0M206.0 529.8h0M202.2 531.1h0M199.2 541.7h0M197.0 536.2h0M198.2 536.7h0M200.0 535.9h0M192.2 538.4h0M209.9 527.8h0M210.5 526.5h0M197.7 538.7h0M198.4 539.0h0M197.0 535.1h0M206.6 531.5h0M205.7 529.5h0M200.3 536.7h0M197.4 539.7h0M200.2 535.0h0M205.7 532.0h0M208.8 529.0h0M208.4 528.6h0M211.0 526.7h0M208.8 527.6h0M205.8 529.3h0M202.0 533.8h0M206.7 530.3h0M202.3 534.5h0M202.8 534.6h0M206.0 531.6h0M207.3 529.6h0M198.2 543.2h0M205.9 529.1h0M201.9 534.8h0M199.5 531.9h0M204.8 532.4h0M199.4 535.5h0M198.0 535.0h0M205.1 530.3h0M205.8 528.8h0M199.6 536.2h0M203.8 535.5h0M204.8 532.7h0M204.9 529.6h0M203.8 533.6h0M208.3 529.8h0M204.1 531.1h0M202.3 538.2h0M208.1 528.4h0M198.1 539.0h0M209.4 527.1h0M211.3 526.2h0M196.2 538.1h0M198.8 541.2h0M208.0 527.1h0M199.0 536.2h0" stroke="#c02818" stroke-width="1.8" stroke-linecap="round" fill="none"/>
<path d="M137.5 587.3h0M146.9 594.4h0M146.6 594.6h0M143.1 593.9h0M131.3 582.5h0M142.9 590.4h0M143.4 592.1h0M141.4 588.1h0M133.0 582.4h0M144.0 594.4h0M135.6 583.7h0M147.1 595.9h0M136.5 586.2h0M132.0 584.1h0M143.4 592.5h0M147.2 595.5h0M143.2 590.5h0M137.2 586.6h0M132.4 582.3h0M136.4 586.2h0M140.9 591.3h0" stroke="#e09030" stroke-width="1.8" stroke-linecap="round" fill="none"/>
<path d="M77.1 651.2h0M72.2 646.9h0M74.5 646.1h0M73.7 643.5h0M77.6 651.8h0M65.0 656.4h0M73.2 648.2h0M66.8 654.0h0M77.7 644.7h0M74.9 640.5h0M68.0 651.7h0M66.5 656.2h0M70.4 649.4h0M61.1 661.5h0M78.2 646.0h0M73.9 643.9h0M78.3 644.7h0M74.8 646.5h0M80.8 651.3h0M62.3 661.4h0M61.2 657.0h0M76.4 646.0h0M70.3 651.8h0M67.0 658.3h0M76.9 641.7h0M70.0 653.5h0M65.4 658.2h0M68.8 646.1h0M62.7 656.1h0M70.6 648.6h0M74.8 652.5h0M76.0 644.5h0M79.0 649.2h0M77.3 644.7h0M67.2 655.6h0M72.5 652.5h0M60.9 656.4h0M81.1 644.9h0M75.4 644.2h0M60.7 661.4h0M65.7 647.7h0M74.8 651.5h0M82.6 645.8h0M68.7 649.4h0M73.8 651.9h0M67.2 657.0h0M73.0 649.1h0M77.6 650.2h0M69.2 650.9h0M77.3 646.0h0M70.8 647.8h0M60.2 662.9h0M60.3 662.4h0M67.3 655.5h0M69.0 648.0h0M62.7 660.6h0M63.2 663.3h0M78.4 642.8h0M62.2 655.5h0M83.2 646.2h0M72.9 646.5h0M78.1 645.6h0M64.4 662.0h0M64.9 656.6h0M79.3 643.1h0M70.9 652.4h0M70.4 649.8h0M74.2 647.6h0M78.1 641.2h0M69.8 657.7h0M80.0 642.5h0M70.3 655.2h0M67.7 648.6h0M72.2 647.4h0M68.5 648.5h0M64.0 660.0h0M75.7 648.3h0M64.6 656.4h0M67.8 652.2h0M66.0 655.9h0M72.4 652.1h0M68.2 651.1h0M79.8 640.9h0M76.3 645.2h0M63.7 658.5h0M60.4 660.5h0M68.0 656.2h0M74.6 643.8h0M71.6 641.6h0M62.0 657.2h0M72.5 640.9h0M80.8 643.3h0M67.0 652.1h0M67.8 652.7h0" stroke="#3848a8" stroke-width="1.8" stroke-linecap="round" fill="none"/>
<path d="M99.2 628.3h0M107.5 630.2h0M94.5 621.1h0M98.9 623.7h0M96.2 620.0h0M96.9 625.9h0M95.3 625.4h0M103.5 624.3h0M95.8 625.8h0M101.2 621.0h0M96.3 626.1h0M101.4 627.1h0M100.5 629.6h0M104.3 627.8h0M106.9 632.0h0M100.1 625.7h0M96.8 619.2h0M98.6 625.0h0M96.2 626.5h0M98.9 623.3h0M106.4 632.5h0M102.6 627.6h0M102.1 627.3h0" stroke="#d8d040" stroke-width="1.8" stroke-linecap="round" fill="none"/>
<path d="M174.5 569.3h0M161.5 556.4h0M162.6 555.2h0M177.9 567.7h0M160.7 556.0h0M174.1 570.3h0M158.8 556.6h0" stroke="#a84830" stroke-width="1.8" stroke-linecap="round" fill="none"/>
<path d="M195.1 543.0h0M194.5 541.6h0M191.9 546.0h0M193.4 543.4h0M192.9 540.7h0M192.6 542.4h0M192.8 544.4h0M187.8 541.9h0M193.9 548.4h0M195.1 543.9h0M191.7 544.1h0M189.9 543.5h0M196.1 544.5h0M191.7 545.1h0M191.8 544.9h0M192.2 539.8h0M189.4 539.2h0" stroke="#c02820" stroke-width="1.8" stroke-linecap="round" fill="none"/>
<path d="M152.6 587.2h0M145.3 585.6h0M145.3 581.7h0M143.7 583.3h0M148.6 585.5h0M151.0 587.9h0M142.9 581.8h0M146.0 586.2h0M146.3 583.0h0M149.9 586.2h0M149.2 585.3h0M152.2 588.2h0M151.4 589.8h0" stroke="#e08030" stroke-width="1.8" stroke-linecap="round" fill="none"/>
<path d="M122.7 599.5h0M130.3 607.2h0M123.0 596.6h0M125.6 603.5h0M122.8 597.0h0M125.1 599.4h0M122.4 599.9h0M123.9 601.4h0M124.2 601.0h0M133.4 605.7h0M124.3 599.0h0M130.4 602.9h0M130.4 604.6h0M125.2 604.0h0M119.7 595.7h0M128.3 601.0h0" stroke="#e8b838" stroke-width="1.8" stroke-linecap="round" fill="none"/>
<path d="M154.5 581.4h0M153.1 579.6h0M147.5 576.0h0M149.8 576.5h0M159.2 584.7h0M153.9 579.4h0M147.2 574.8h0M146.0 574.9h0M152.0 579.1h0M152.7 577.2h0M152.6 581.1h0M153.1 580.1h0" stroke="#d87030" stroke-width="1.8" stroke-linecap="round" fill="none"/>
<path d="M109.2 615.4h0M107.1 617.7h0M109.1 614.0h0M107.1 614.1h0M111.9 622.0h0M111.5 615.6h0M113.7 616.9h0M106.6 616.4h0M110.9 614.2h0M114.3 621.3h0M108.7 614.3h0M106.8 618.1h0M116.2 619.6h0M109.4 618.8h0M111.7 618.0h0M111.0 616.1h0" stroke="#e0d840" stroke-width="1.8" stroke-linecap="round" fill="none"/>
<path d="M182.2 553.8h0M176.0 556.6h0M185.8 555.4h0M185.9 555.3h0M179.8 556.3h0M180.4 554.3h0M177.4 553.7h0M177.8 557.1h0M179.9 553.4h0M184.9 557.2h0M181.6 557.1h0M183.3 553.1h0M180.1 550.8h0M178.9 559.2h0M181.2 557.2h0M180.1 558.6h0M177.8 556.9h0M179.3 556.3h0M180.3 555.3h0M181.5 551.2h0M182.6 559.7h0M180.2 551.8h0M182.5 552.6h0M179.6 551.5h0M182.6 551.2h0" stroke="#c83820" stroke-width="1.8" stroke-linecap="round" fill="none"/>
<path d="M129.8 594.2h0M138.2 602.3h0M133.8 598.4h0M130.9 596.6h0M126.6 589.8h0M129.2 595.6h0M134.6 598.6h0M132.0 594.4h0M131.0 596.4h0M135.5 598.1h0" stroke="#e0a838" stroke-width="1.8" stroke-linecap="round" fill="none"/>
<path d="M170.0 575.9h0" stroke="#b05830" stroke-width="1.8" stroke-linecap="round" fill="none"/>
<path d="M82.5 639.8h0M83.1 640.1h0M84.4 641.8h0M80.2 638.1h0" stroke="#4850a0" stroke-width="1.8" stroke-linecap="round" fill="none"/>
<path d="M135.5 595.2h0M127.4 589.0h0M132.1 592.6h0M131.7 593.0h0M129.3 587.5h0M138.4 599.1h0M136.7 594.7h0M132.0 593.9h0M131.2 591.5h0M136.0 594.6h0M129.3 590.1h0M131.6 593.5h0M139.1 596.7h0M134.2 596.2h0M139.5 597.6h0M137.1 597.4h0M133.9 591.6h0" stroke="#e0a038" stroke-width="1.8" stroke-linecap="round" fill="none"/>
<path d="M93.8 636.4h0M85.3 626.7h0" stroke="#a8a060" stroke-width="1.8" stroke-linecap="round" fill="none"/>
<path d="M152.7 573.6h0M156.3 575.8h0M154.9 574.0h0M154.6 575.9h0M150.3 568.6h0M157.3 576.5h0M152.7 572.6h0M155.3 573.1h0M157.8 578.7h0" stroke="#d86828" stroke-width="1.8" stroke-linecap="round" fill="none"/>
<path d="M181.4 567.4h0M180.7 562.9h0" stroke="#a84028" stroke-width="1.8" stroke-linecap="round" fill="none"/>
<path d="M153.0 563.7h0M170.0 577.5h0" stroke="#b05838" stroke-width="1.8" stroke-linecap="round" fill="none"/>
<path d="M109.5 609.1h0M106.5 609.0h0M114.1 614.3h0M114.5 612.9h0M114.1 615.8h0M110.3 610.0h0" stroke="#e8d840" stroke-width="1.8" stroke-linecap="round" fill="none"/>
<path d="M142.7 570.6h0" stroke="#b87040" stroke-width="1.8" stroke-linecap="round" fill="none"/>
<path d="M97.2 629.5h0M92.4 625.2h0M97.5 633.1h0M93.8 629.7h0M92.8 627.8h0M96.6 631.0h0M95.1 628.8h0M96.3 629.3h0M98.1 633.4h0M99.7 630.6h0M95.0 629.8h0M98.6 631.3h0M97.5 630.8h0" stroke="#d8d048" stroke-width="1.8" stroke-linecap="round" fill="none"/>
<path d="M127.6 577.9h0" stroke="#c08848" stroke-width="1.8" stroke-linecap="round" fill="none"/>
<path d="M109.1 606.2h0M110.8 608.5h0M117.0 611.4h0M121.1 616.8h0M117.4 610.6h0M123.5 616.8h0M116.7 613.6h0M109.5 607.1h0M113.9 610.2h0M113.3 609.8h0M114.3 612.2h0M119.0 616.2h0M115.7 610.9h0M121.6 613.2h0M117.0 611.0h0M115.0 612.8h0M114.8 612.8h0M121.9 615.3h0M111.5 608.6h0" stroke="#e8d040" stroke-width="1.8" stroke-linecap="round" fill="none"/>
<path d="M88.9 647.5h0M80.1 639.6h0M79.3 638.8h0M83.4 642.6h0M81.4 640.9h0M81.7 641.4h0" stroke="#4048a0" stroke-width="1.8" stroke-linecap="round" fill="none"/>
<path d="M165.4 571.4h0M163.8 568.8h0M162.3 567.6h0M161.1 569.4h0M167.9 572.7h0M164.8 571.2h0M168.0 572.9h0M162.7 569.9h0" stroke="#d05828" stroke-width="1.8" stroke-linecap="round" fill="none"/>
<path d="M187.9 556.3h0M194.4 558.6h0M172.4 545.7h0M193.5 567.1h0" stroke="#a03828" stroke-width="1.8" stroke-linecap="round" fill="none"/>
<path d="M125.8 595.5h0M131.4 600.9h0M130.6 598.5h0M125.8 596.1h0M124.1 596.8h0M132.2 603.9h0M132.5 603.8h0M134.8 602.5h0M128.6 599.3h0M120.1 593.3h0M129.1 601.7h0M125.8 594.6h0M132.0 601.9h0M126.5 595.8h0M123.2 592.8h0" stroke="#e0b038" stroke-width="1.8" stroke-linecap="round" fill="none"/>
<path d="M85.2 639.1h0M79.9 634.5h0M86.2 640.5h0M85.3 638.6h0M84.6 638.1h0" stroke="#505898" stroke-width="1.8" stroke-linecap="round" fill="none"/>
<path d="M148.7 580.3h0M153.4 583.3h0M149.3 578.3h0M151.8 584.2h0M144.7 575.0h0M155.1 584.6h0M148.4 580.9h0M151.0 581.7h0M150.1 580.0h0M146.7 577.1h0M153.0 583.1h0M143.4 576.3h0M147.1 579.3h0" stroke="#d87830" stroke-width="1.8" stroke-linecap="round" fill="none"/>
<path d="M105.7 620.2h0M106.3 618.7h0M107.0 619.0h0M99.7 613.6h0M99.4 614.8h0M102.9 615.5h0M110.0 621.4h0M102.5 621.4h0M103.2 617.9h0M106.2 622.2h0M106.5 621.8h0M101.2 619.5h0M105.1 620.1h0M99.4 615.9h0M105.0 619.2h0M105.5 618.9h0M102.6 618.0h0M100.7 613.9h0M97.1 615.2h0M108.3 626.2h0M109.1 622.2h0M101.0 619.7h0M106.7 622.9h0M104.5 616.4h0M101.4 620.8h0M107.4 619.1h0M104.1 623.1h0M104.0 617.7h0" stroke="#e0d040" stroke-width="1.8" stroke-linecap="round" fill="none"/>
<path d="M116.6 626.4h0M91.1 611.3h0M92.2 601.5h0M98.0 611.7h0M119.3 626.5h0M98.3 607.7h0" stroke="#c8c058" stroke-width="1.8" stroke-linecap="round" fill="none"/>
<path d="M90.4 637.6h0" stroke="#808078" stroke-width="1.8" stroke-linecap="round" fill="none"/>
<path d="M153.2 587.4h0M146.9 581.1h0M154.4 587.7h0M143.6 577.9h0M150.1 584.0h0" stroke="#e07830" stroke-width="1.8" stroke-linecap="round" fill="none"/>
<path d="M144.0 558.6h0" stroke="#b06038" stroke-width="1.8" stroke-linecap="round" fill="none"/>
<path d="M104.8 601.2h0M106.3 605.4h0M122.2 619.6h0" stroke="#d0c058" stroke-width="1.8" stroke-linecap="round" fill="none"/>
<path d="M134.0 586.6h0M141.8 594.8h0M136.1 589.4h0M143.3 595.5h0M137.4 590.9h0M145.0 597.3h0M142.9 595.1h0" stroke="#e09830" stroke-width="1.8" stroke-linecap="round" fill="none"/>
<path d="M134.9 578.3h0M134.3 580.1h0M130.0 574.5h0M132.2 575.4h0M124.7 572.8h0" stroke="#c08040" stroke-width="1.8" stroke-linecap="round" fill="none"/>
<path d="M82.6 629.7h0" stroke="#788068" stroke-width="1.8" stroke-linecap="round" fill="none"/>
<path d="M207.6 531.5h0M199.5 543.9h0M203.7 536.5h0M204.5 527.4h0M199.4 550.5h0M201.0 540.5h0M194.0 533.1h0" stroke="#a03028" stroke-width="1.8" stroke-linecap="round" fill="none"/>
<path d="M161.5 571.8h0M164.1 574.3h0M161.6 570.7h0M166.0 574.7h0" stroke="#d85828" stroke-width="1.8" stroke-linecap="round" fill="none"/>
<path d="M118.4 606.5h0M120.9 607.2h0M117.2 605.2h0M123.1 609.5h0M121.3 609.4h0M119.5 606.6h0M114.4 601.9h0M122.1 607.6h0M120.0 606.0h0M116.9 605.3h0M118.6 606.7h0M123.5 610.7h0" stroke="#e8c838" stroke-width="1.8" stroke-linecap="round" fill="none"/>
<path d="M94.0 633.5h0" stroke="#c0c050" stroke-width="1.8" stroke-linecap="round" fill="none"/>
<path d="M146.6 601.3h0M145.9 600.4h0" stroke="#c09048" stroke-width="1.8" stroke-linecap="round" fill="none"/>
<path d="M138.0 594.8h0M134.3 591.1h0M140.1 594.9h0M129.3 585.1h0M138.8 595.6h0M131.4 587.2h0" stroke="#e09838" stroke-width="1.8" stroke-linecap="round" fill="none"/>
<path d="M139.9 576.2h0" stroke="#b87840" stroke-width="1.8" stroke-linecap="round" fill="none"/>
<path d="M91.9 635.1h0M88.2 632.2h0" stroke="#a0a060" stroke-width="1.8" stroke-linecap="round" fill="none"/>
<path d="M113.7 595.5h0M128.9 613.5h0M114.2 597.5h0" stroke="#c8b050" stroke-width="1.8" stroke-linecap="round" fill="none"/>
<path d="M133.4 609.4h0M132.8 609.6h0M142.0 617.8h0M117.9 594.4h0" stroke="#c8a850" stroke-width="1.8" stroke-linecap="round" fill="none"/>
<path d="M116.7 602.1h0M115.6 600.7h0M122.8 602.6h0M121.1 601.8h0M129.2 610.5h0M126.4 608.6h0M126.2 607.3h0M121.0 602.8h0M114.8 599.0h0M128.2 607.8h0M119.0 601.9h0M126.0 608.5h0M125.9 607.6h0M116.2 597.4h0M120.1 603.6h0M118.3 600.3h0" stroke="#e8c038" stroke-width="1.8" stroke-linecap="round" fill="none"/>
<path d="M91.9 634.1h0M92.1 634.1h0" stroke="#b0a858" stroke-width="1.8" stroke-linecap="round" fill="none"/>
<path d="M162.6 562.9h0M170.0 569.0h0M164.9 564.1h0M169.0 568.5h0M165.5 564.2h0M171.1 570.4h0" stroke="#d05020" stroke-width="1.8" stroke-linecap="round" fill="none"/>
<path d="M78.5 654.3h0M87.2 647.9h0M61.0 654.7h0M71.4 640.9h0M78.9 655.3h0M67.5 641.5h0" stroke="#384088" stroke-width="1.8" stroke-linecap="round" fill="none"/>
<path d="M100.9 640.3h0" stroke="#b0a860" stroke-width="1.8" stroke-linecap="round" fill="none"/>
<path d="M107.3 634.6h0M106.9 634.7h0M102.7 636.7h0" stroke="#c0b858" stroke-width="1.8" stroke-linecap="round" fill="none"/>
<path d="M87.2 636.0h0M84.2 633.3h0M86.9 635.6h0" stroke="#787880" stroke-width="1.8" stroke-linecap="round" fill="none"/>
<path d="M88.6 632.8h0" stroke="#a09860" stroke-width="1.8" stroke-linecap="round" fill="none"/>
<path d="M90.8 636.5h0" stroke="#909070" stroke-width="1.8" stroke-linecap="round" fill="none"/>
<path d="M89.4 629.0h0" stroke="#c8c050" stroke-width="1.8" stroke-linecap="round" fill="none"/>
<path d="M117.2 606.8h0M117.0 606.7h0M115.1 606.7h0M115.5 605.1h0M112.1 603.2h0M113.5 603.4h0M111.5 603.0h0M119.5 610.2h0" stroke="#e8c840" stroke-width="1.8" stroke-linecap="round" fill="none"/>
<path d="M93.5 640.1h0" stroke="#808870" stroke-width="1.8" stroke-linecap="round" fill="none"/>
<path d="M85.9 638.9h0" stroke="#585890" stroke-width="1.8" stroke-linecap="round" fill="none"/>
<path d="M83.3 641.2h0M83.3 642.1h0M78.3 637.3h0M83.8 642.0h0" stroke="#4050a0" stroke-width="1.8" stroke-linecap="round" fill="none"/>
<path d="M171.4 571.7h0" stroke="#b05030" stroke-width="1.8" stroke-linecap="round" fill="none"/>
<path d="M116.3 589.7h0M138.6 609.3h0" stroke="#c8a848" stroke-width="1.8" stroke-linecap="round" fill="none"/>
<path d="M124.5 617.6h0" stroke="#c8b850" stroke-width="1.8" stroke-linecap="round" fill="none"/>
<path d="M144.3 569.0h0M161.9 586.4h0" stroke="#b86838" stroke-width="1.8" stroke-linecap="round" fill="none"/>
<path d="M82.0 632.2h0" stroke="#707080" stroke-width="1.8" stroke-linecap="round" fill="none"/>
<path d="M192.3 549.5h0M187.5 544.7h0" stroke="#c03020" stroke-width="1.8" stroke-linecap="round" fill="none"/>
<path d="M76.7 636.7h0" stroke="#404888" stroke-width="1.8" stroke-linecap="round" fill="none"/>
<path d="M87.6 638.6h0M88.7 639.6h0" stroke="#686888" stroke-width="1.8" stroke-linecap="round" fill="none"/>
<path d="M90.4 639.5h0" stroke="#707880" stroke-width="1.8" stroke-linecap="round" fill="none"/>
<path d="M154.9 592.2h0" stroke="#c07840" stroke-width="1.8" stroke-linecap="round" fill="none"/>
<path d="M112.7 583.4h0" stroke="#c8a048" stroke-width="1.8" stroke-linecap="round" fill="none"/>
<path d="M93.9 634.3h0" stroke="#b8b850" stroke-width="1.8" stroke-linecap="round" fill="none"/>
<path d="M89.0 640.0h0M87.5 638.6h0" stroke="#606888" stroke-width="1.8" stroke-linecap="round" fill="none"/>
<path d="M86.8 635.4h0" stroke="#787878" stroke-width="1.8" stroke-linecap="round" fill="none"/>
<path d="M94.9 634.7h0M92.0 632.4h0" stroke="#c0b850" stroke-width="1.8" stroke-linecap="round" fill="none"/>
<path d="M121.0 582.7h0M147.9 608.5h0" stroke="#c89848" stroke-width="1.8" stroke-linecap="round" fill="none"/>
<path d="M129.1 598.2h0M134.8 598.3h0M132.2 598.2h0M128.6 592.5h0M128.6 595.5h0M133.6 600.1h0M127.9 595.2h0M136.3 603.3h0M127.4 595.2h0M131.6 597.3h0M133.7 600.2h0M123.5 591.8h0M130.4 596.4h0M136.4 602.2h0M137.3 601.2h0" stroke="#b88828" stroke-width="2.8" stroke-linecap="round" fill="none"/>
<path d="M137.0 591.1h0M137.0 590.6h0M143.7 596.2h0M137.9 592.5h0M132.2 584.4h0M139.4 589.9h0M138.6 593.2h0M133.2 586.3h0M137.3 590.5h0M137.2 591.9h0M143.4 597.7h0M136.6 588.8h0M134.4 585.0h0" stroke="#b07828" stroke-width="2.8" stroke-linecap="round" fill="none"/>
<path d="M210.3 526.6h0M202.4 534.6h0M207.7 528.6h0M203.4 535.2h0M211.2 525.3h0M203.0 535.5h0M212.1 525.4h0M209.5 528.0h0M203.4 531.3h0M205.3 533.2h0M193.7 537.8h0M199.0 539.0h0M197.4 541.4h0M198.4 533.4h0M211.9 524.8h0M212.0 525.4h0M201.5 537.3h0M199.8 532.2h0M210.8 526.0h0M201.4 536.8h0M199.3 532.6h0M203.2 534.5h0M202.7 533.6h0M207.3 530.0h0M197.8 536.6h0M199.0 542.4h0M208.7 527.9h0M193.4 537.8h0M210.8 525.2h0M203.4 535.3h0M208.5 530.0h0M207.5 529.9h0M209.4 527.3h0M196.8 541.4h0M207.6 527.8h0M194.9 537.6h0M212.0 523.6h0M199.8 534.8h0M200.7 534.7h0M199.3 537.5h0M198.0 536.8h0M211.8 526.1h0M205.4 531.3h0M197.2 540.4h0M207.3 531.1h0M204.9 534.6h0M205.5 532.4h0M210.9 527.1h0M210.7 526.0h0M204.1 534.3h0M204.5 531.4h0M202.9 537.4h0M211.1 525.8h0M202.1 537.0h0M198.5 538.4h0M195.3 533.2h0M205.3 530.9h0M201.7 537.6h0M211.8 524.1h0M200.1 538.5h0M211.2 525.6h0M210.6 526.6h0M195.5 540.2h0M204.7 532.6h0M201.0 534.3h0M207.4 530.5h0M196.6 541.3h0M208.9 527.3h0M210.0 528.1h0M198.6 534.2h0M210.8 526.6h0M200.5 536.3h0M204.3 532.4h0M198.3 538.3h0M211.4 525.9h0M196.2 539.5h0M202.1 534.0h0M198.8 536.5h0M208.0 529.1h0M195.7 539.3h0M209.8 527.4h0M211.7 524.4h0M203.4 533.3h0M207.7 529.3h0M209.8 526.6h0M210.0 526.3h0M211.0 526.7h0M198.5 536.2h0M198.5 536.5h0" stroke="#982018" stroke-width="2.8" stroke-linecap="round" fill="none"/>
<path d="M145.2 586.8h0M150.9 588.5h0M146.2 584.8h0M152.6 590.7h0M145.4 583.9h0M145.6 586.5h0M148.5 588.6h0M144.8 581.4h0M142.4 579.1h0M147.4 583.9h0M150.7 588.7h0M141.7 582.5h0M143.9 581.6h0M147.7 584.5h0M144.9 582.0h0M140.5 584.0h0M146.0 584.1h0M148.6 584.5h0M145.0 587.1h0M140.8 583.9h0M144.2 584.3h0M144.7 585.7h0M145.3 586.3h0M140.3 583.7h0" stroke="#b06828" stroke-width="2.8" stroke-linecap="round" fill="none"/>
<path d="M138.5 596.8h0M135.7 593.2h0M131.4 593.3h0M132.5 594.7h0M131.2 590.8h0M133.8 593.7h0M137.7 594.2h0M132.5 594.6h0M137.9 596.9h0M136.8 596.3h0M135.4 597.6h0M136.1 596.0h0M136.6 595.4h0M131.4 588.6h0M136.2 595.2h0M125.6 589.1h0M129.7 588.6h0M132.0 589.3h0M138.4 596.1h0M136.9 595.7h0" stroke="#b88028" stroke-width="2.8" stroke-linecap="round" fill="none"/>
<path d="M75.5 647.4h0M67.2 657.0h0M72.2 649.5h0M70.5 649.8h0M80.8 642.1h0M82.3 642.6h0M64.7 652.5h0M64.6 658.4h0M78.0 637.8h0M65.8 655.4h0M72.6 650.9h0M73.4 645.1h0M67.5 653.5h0M82.5 646.6h0M64.6 653.3h0M78.8 647.8h0M71.6 647.1h0M76.3 650.1h0M64.4 655.0h0M73.6 647.8h0M66.0 652.9h0M77.5 647.0h0M74.9 645.7h0M82.7 643.1h0M70.8 656.5h0M71.5 658.3h0M78.4 652.3h0M63.3 653.7h0M72.0 648.3h0M76.7 639.6h0M62.6 654.4h0M67.6 650.6h0M73.9 646.1h0M71.7 645.4h0M72.0 649.7h0M67.7 646.6h0M80.8 641.9h0M63.6 653.7h0M62.5 654.3h0M64.4 653.5h0M64.6 655.0h0M73.9 655.3h0M68.5 651.9h0M64.0 654.1h0M64.6 655.5h0M77.7 645.0h0M71.6 654.7h0M66.8 655.4h0M63.9 655.9h0M76.5 645.2h0M79.3 643.3h0M66.0 654.8h0M66.3 652.2h0M72.0 650.2h0M73.2 652.0h0M72.9 657.2h0M69.3 652.8h0M64.9 652.6h0M77.7 644.6h0M72.8 647.7h0M81.7 644.7h0M79.4 651.5h0M78.3 646.2h0M67.7 659.1h0M72.3 657.8h0M78.3 642.3h0M75.2 645.9h0M73.9 650.4h0M80.8 646.4h0M67.9 645.2h0M74.1 655.1h0M72.5 652.5h0M76.2 647.2h0M72.9 652.7h0M67.0 656.2h0M73.5 650.1h0M70.5 655.2h0M68.2 661.0h0M70.7 652.6h0M81.0 643.1h0M69.2 652.6h0M76.4 640.4h0M76.8 648.5h0M73.9 647.9h0M69.3 646.4h0M69.8 653.3h0M75.4 643.8h0" stroke="#303880" stroke-width="2.8" stroke-linecap="round" fill="none"/>
<path d="M165.1 559.3h0M174.0 563.3h0M170.8 561.3h0M171.7 561.7h0M164.9 562.3h0M169.1 564.8h0M170.3 560.6h0M171.0 561.6h0M170.0 565.1h0M171.7 561.6h0M167.3 563.5h0M166.6 559.2h0M169.7 566.6h0M170.5 563.6h0M172.7 563.4h0M169.5 565.3h0M171.4 567.0h0M168.8 562.8h0M168.8 564.3h0M172.7 564.7h0M171.6 565.2h0M168.2 565.3h0" stroke="#a83818" stroke-width="2.8" stroke-linecap="round" fill="none"/>
<path d="M101.5 624.8h0M105.3 618.1h0M105.0 627.9h0M98.2 620.5h0M107.1 618.1h0M103.0 626.6h0M107.4 621.4h0M103.4 625.0h0M100.2 617.4h0M103.5 623.0h0M99.8 619.3h0M99.6 624.0h0M95.4 619.6h0M101.1 621.7h0M101.4 617.2h0M91.4 620.3h0M93.3 619.7h0M99.6 619.5h0M99.9 622.9h0M107.5 627.9h0M99.6 624.7h0M95.8 619.1h0M103.8 616.6h0M98.3 616.5h0M105.5 622.0h0M110.5 621.5h0M98.3 624.1h0M106.0 619.0h0M103.8 617.4h0M92.7 621.8h0M107.0 621.0h0M109.3 622.9h0M101.7 612.6h0M110.7 626.8h0M109.7 626.0h0M107.0 629.9h0M104.3 621.4h0M102.6 620.7h0M110.2 625.2h0M105.7 623.2h0M93.7 617.4h0M91.8 621.9h0M97.3 624.8h0M99.9 627.3h0M100.1 626.1h0M104.2 616.5h0M102.8 618.0h0M107.6 625.7h0M107.2 626.1h0M104.5 618.5h0M102.2 624.9h0M94.9 618.9h0M98.6 625.1h0M99.8 626.3h0M105.7 621.1h0" stroke="#b0a838" stroke-width="2.8" stroke-linecap="round" fill="none"/>
<path d="M194.2 540.6h0M193.1 548.1h0M187.7 544.5h0M189.9 541.2h0M195.7 544.1h0M192.8 539.6h0M188.8 542.8h0M189.0 542.2h0M190.4 541.4h0M194.2 540.5h0M189.5 545.6h0M187.3 543.4h0M192.2 549.7h0M191.2 544.7h0M193.2 544.4h0M192.4 543.8h0M194.0 541.7h0M193.4 543.0h0M192.3 539.1h0M192.4 545.7h0M188.4 544.6h0M194.2 539.6h0M190.6 537.7h0M190.8 546.2h0M193.9 543.6h0M190.4 544.1h0M195.9 542.7h0M190.1 544.4h0M190.7 544.6h0" stroke="#a02018" stroke-width="2.8" stroke-linecap="round" fill="none"/>
<path d="M164.5 569.7h0M165.2 569.5h0M168.8 571.3h0M164.2 565.4h0M160.9 560.3h0M165.8 567.6h0M166.0 566.9h0M163.9 566.6h0M164.3 564.6h0M165.7 569.6h0M160.4 559.0h0M165.1 568.4h0M166.3 567.3h0M157.7 562.5h0M161.5 564.7h0" stroke="#a84020" stroke-width="2.8" stroke-linecap="round" fill="none"/>
<path d="M146.7 593.1h0M146.4 592.7h0M134.9 582.6h0M144.8 588.0h0M144.2 590.9h0M142.1 587.6h0M143.7 589.2h0M140.5 588.8h0M138.7 588.4h0M142.1 590.3h0M139.3 586.4h0M146.6 595.4h0M137.2 586.2h0M135.8 581.9h0M140.0 588.8h0M144.6 589.3h0M139.8 589.1h0M139.1 586.8h0M142.7 591.7h0M148.6 591.5h0" stroke="#b07028" stroke-width="2.8" stroke-linecap="round" fill="none"/>
<path d="M86.4 637.5h0M88.4 639.8h0M87.0 638.1h0" stroke="#505070" stroke-width="2.8" stroke-linecap="round" fill="none"/>
<path d="M158.5 564.6h0M167.4 574.5h0M163.6 571.0h0M156.6 566.3h0M155.2 566.4h0M167.2 573.7h0M158.7 564.9h0M160.6 570.8h0M160.4 568.6h0M157.3 567.1h0M158.2 568.5h0M160.1 567.0h0M165.0 575.8h0M164.5 576.8h0M161.8 568.9h0M161.4 573.1h0M166.0 576.7h0M165.9 571.9h0M161.2 570.0h0M164.7 572.7h0M158.5 569.6h0M159.8 565.8h0M165.3 570.9h0M162.7 571.2h0M157.7 567.0h0" stroke="#a84820" stroke-width="2.8" stroke-linecap="round" fill="none"/>
<path d="M88.3 633.7h0" stroke="#787058" stroke-width="2.8" stroke-linecap="round" fill="none"/>
<path d="M114.1 617.3h0M111.1 619.6h0M121.7 615.4h0M115.1 614.3h0M105.9 611.7h0M113.9 609.1h0M114.9 609.5h0M108.0 616.8h0M104.9 612.7h0M111.1 617.0h0M107.4 614.7h0M112.3 616.3h0M117.7 612.5h0M110.2 604.9h0M114.7 608.6h0M105.3 613.9h0M119.0 616.6h0M113.0 619.7h0M111.5 611.0h0M109.4 615.1h0M109.2 607.6h0M104.3 610.7h0M107.1 612.7h0M116.2 613.0h0M108.2 611.3h0M112.0 606.7h0M108.8 603.6h0M108.1 615.3h0M110.7 605.2h0M118.7 612.2h0M104.4 610.0h0M115.6 612.7h0M117.2 613.9h0M117.0 614.9h0M117.8 613.1h0M110.3 617.4h0" stroke="#b8a830" stroke-width="2.8" stroke-linecap="round" fill="none"/>
<path d="M198.5 545.9h0M196.2 554.8h0M202.9 527.7h0M194.0 532.4h0" stroke="#802820" stroke-width="2.8" stroke-linecap="round" fill="none"/>
<path d="M180.6 548.3h0M192.5 551.7h0M182.6 548.2h0M181.6 552.6h0M181.7 546.0h0M186.2 553.3h0M186.3 549.1h0M184.7 547.1h0M186.1 546.5h0M186.2 546.9h0M179.7 546.6h0M187.7 548.9h0M184.5 550.1h0M186.5 550.3h0M182.4 549.5h0M181.1 553.9h0M182.6 555.2h0M181.2 546.8h0M185.7 550.3h0M181.3 550.8h0M189.1 550.4h0M185.8 553.1h0M185.6 551.4h0M184.2 555.3h0M181.7 552.7h0M180.6 549.0h0M183.9 552.1h0M183.7 550.0h0M186.6 555.3h0M190.8 551.8h0M183.3 546.1h0" stroke="#a02818" stroke-width="2.8" stroke-linecap="round" fill="none"/>
<path d="M82.0 641.1h0M80.8 639.7h0M81.0 640.3h0" stroke="#304080" stroke-width="2.8" stroke-linecap="round" fill="none"/>
<path d="M150.7 592.7h0M132.3 581.2h0M150.1 596.2h0M151.3 597.5h0" stroke="#986838" stroke-width="2.8" stroke-linecap="round" fill="none"/>
<path d="M91.0 632.5h0M92.8 634.2h0M92.0 633.2h0" stroke="#909048" stroke-width="2.8" stroke-linecap="round" fill="none"/>
<path d="M151.2 570.4h0M159.1 579.0h0M158.0 576.6h0M156.0 576.3h0M151.9 572.4h0M159.5 577.6h0M161.0 580.4h0M154.5 572.3h0M159.3 576.2h0M153.2 573.5h0M162.2 579.7h0" stroke="#b05020" stroke-width="2.8" stroke-linecap="round" fill="none"/>
<path d="M128.8 604.2h0M122.6 595.5h0M123.9 600.0h0M122.8 597.1h0M124.0 597.1h0M128.9 602.3h0M120.0 595.4h0M130.9 603.0h0M124.8 601.5h0M124.6 601.0h0M123.0 599.1h0" stroke="#b89030" stroke-width="2.8" stroke-linecap="round" fill="none"/>
<path d="M173.0 548.7h0M173.9 547.4h0" stroke="#803020" stroke-width="2.8" stroke-linecap="round" fill="none"/>
<path d="M91.4 627.6h0M96.3 631.7h0M93.4 630.8h0M90.9 626.2h0M94.8 632.5h0M95.1 628.7h0M95.7 629.5h0M88.4 626.0h0M100.3 633.4h0M91.2 628.7h0M93.3 628.1h0M94.6 632.1h0M96.8 634.6h0M96.0 631.8h0" stroke="#a8a038" stroke-width="2.8" stroke-linecap="round" fill="none"/>
<path d="M84.5 641.9h0M81.8 639.4h0M84.8 642.4h0M88.0 644.5h0M80.7 637.6h0M88.7 645.2h0M84.4 642.3h0" stroke="#384080" stroke-width="2.8" stroke-linecap="round" fill="none"/>
<path d="M83.6 637.4h0M84.2 639.2h0M88.6 641.9h0M85.7 640.0h0M83.2 638.5h0M85.8 638.9h0M85.1 639.5h0M82.9 636.9h0M85.2 638.6h0" stroke="#404878" stroke-width="2.8" stroke-linecap="round" fill="none"/>
<path d="M128.3 609.3h0M125.0 605.0h0M128.9 611.4h0M124.8 606.2h0M115.9 599.3h0M124.6 602.9h0M120.4 603.5h0M122.9 602.5h0M118.3 596.4h0M127.8 611.4h0M122.1 606.6h0M128.3 608.3h0" stroke="#b89830" stroke-width="2.8" stroke-linecap="round" fill="none"/>
<path d="M88.8 640.4h0M91.1 642.6h0M83.4 635.5h0" stroke="#485070" stroke-width="2.8" stroke-linecap="round" fill="none"/>
<path d="M86.8 634.7h0M87.6 635.4h0M84.9 632.4h0M92.2 639.6h0" stroke="#686860" stroke-width="2.8" stroke-linecap="round" fill="none"/>
<path d="M177.1 560.2h0M172.4 560.6h0M173.4 560.3h0M180.2 553.5h0M180.7 553.9h0M179.4 552.8h0M176.5 557.7h0M180.5 558.5h0M175.3 557.7h0M175.1 556.4h0M183.0 556.7h0M172.5 554.1h0M172.1 559.5h0M176.2 559.2h0M172.8 555.3h0M172.3 555.4h0M180.9 554.9h0M176.8 554.8h0M181.2 556.1h0M177.2 561.5h0M175.0 554.7h0M179.3 555.1h0M173.5 561.2h0M172.5 557.3h0M177.6 558.5h0M180.6 554.4h0M178.7 553.8h0M174.7 557.5h0M175.3 561.9h0M177.6 555.1h0M178.2 554.1h0M176.7 555.6h0M176.0 557.6h0M178.9 559.1h0M173.3 559.7h0M178.1 562.0h0M174.8 559.1h0M177.0 557.6h0" stroke="#a03018" stroke-width="2.8" stroke-linecap="round" fill="none"/>
<path d="M106.2 607.9h0M108.9 610.1h0M112.4 612.9h0M107.5 609.2h0M107.3 608.6h0M115.3 616.3h0M115.7 617.5h0M106.3 608.4h0" stroke="#b8b030" stroke-width="2.8" stroke-linecap="round" fill="none"/>
<path d="M153.7 579.3h0M148.5 574.7h0M151.0 577.8h0M156.1 582.2h0M155.9 581.7h0M154.9 580.7h0" stroke="#b05828" stroke-width="2.8" stroke-linecap="round" fill="none"/>
<path d="M102.0 603.6h0" stroke="#a8a048" stroke-width="2.8" stroke-linecap="round" fill="none"/>
<path d="M139.8 603.5h0M117.5 578.1h0M143.3 602.3h0M114.8 580.4h0M142.8 602.3h0" stroke="#a07838" stroke-width="2.8" stroke-linecap="round" fill="none"/>
<path d="M153.9 575.4h0M156.6 581.1h0M152.9 577.9h0M158.9 581.9h0M155.0 578.7h0M156.2 577.6h0M153.6 577.5h0M157.6 578.7h0M154.6 578.0h0M150.6 572.8h0M158.8 582.3h0M151.5 572.6h0M153.8 577.7h0M153.6 575.4h0M157.1 577.8h0M153.8 578.7h0" stroke="#b05820" stroke-width="2.8" stroke-linecap="round" fill="none"/>
<path d="M61.7 661.1h0M64.3 660.4h0M61.0 662.6h0M64.7 658.8h0M63.0 657.3h0M60.3 663.3h0M63.8 661.4h0M62.7 659.3h0M64.6 663.1h0M62.8 658.1h0M64.7 659.3h0M64.9 660.4h0M63.8 660.8h0" stroke="#303888" stroke-width="2.8" stroke-linecap="round" fill="none"/>
<path d="M90.7 622.8h0M95.3 627.2h0M97.0 628.2h0M103.9 633.7h0M100.0 631.7h0M100.1 631.5h0M98.8 629.9h0" stroke="#a8a838" stroke-width="2.8" stroke-linecap="round" fill="none"/>
<path d="M179.7 577.2h0M179.2 579.5h0M170.1 573.3h0M156.2 559.6h0M175.5 571.9h0" stroke="#884028" stroke-width="2.8" stroke-linecap="round" fill="none"/>
<path d="M94.1 633.9h0M91.2 631.4h0M97.8 637.3h0" stroke="#989840" stroke-width="2.8" stroke-linecap="round" fill="none"/>
<path d="M117.8 609.6h0M124.7 613.9h0M123.1 607.9h0M117.8 607.0h0M117.3 602.5h0M122.8 610.6h0M120.1 609.9h0M114.1 601.8h0M121.4 608.9h0M116.2 608.5h0M124.4 612.9h0" stroke="#b8a030" stroke-width="2.8" stroke-linecap="round" fill="none"/>
<path d="M91.6 641.8h0" stroke="#505868" stroke-width="2.8" stroke-linecap="round" fill="none"/>
<path d="M121.8 589.9h0M145.1 612.6h0" stroke="#a08038" stroke-width="2.8" stroke-linecap="round" fill="none"/>
<path d="M95.2 637.6h0" stroke="#888848" stroke-width="2.8" stroke-linecap="round" fill="none"/>
<path d="M106.3 635.4h0M107.4 632.8h0M104.9 634.8h0" stroke="#989848" stroke-width="2.8" stroke-linecap="round" fill="none"/>
<path d="M152.4 582.7h0M144.4 574.4h0M152.1 581.8h0M153.9 586.8h0M150.3 584.4h0M148.4 578.0h0M151.8 580.2h0M153.4 584.5h0M153.7 585.0h0M150.0 582.4h0M149.2 581.3h0M157.2 586.0h0M143.2 574.5h0M149.8 580.7h0M152.6 585.4h0M144.4 578.3h0M145.5 577.3h0" stroke="#b06028" stroke-width="2.8" stroke-linecap="round" fill="none"/>
<path d="M90.2 635.8h0M94.2 639.5h0M95.7 640.6h0M89.1 635.5h0M86.9 633.4h0" stroke="#707058" stroke-width="2.8" stroke-linecap="round" fill="none"/>
<path d="M153.0 568.3h0M160.3 573.3h0M158.2 574.1h0M155.6 570.6h0M156.5 571.8h0M157.2 572.2h0" stroke="#a85020" stroke-width="2.8" stroke-linecap="round" fill="none"/>
<path d="M163.8 597.8h0M155.6 590.1h0M133.4 570.2h0" stroke="#986030" stroke-width="2.8" stroke-linecap="round" fill="none"/>
<path d="M93.9 637.7h0" stroke="#807850" stroke-width="2.8" stroke-linecap="round" fill="none"/>
<path d="M105.4 600.7h0M122.4 618.2h0" stroke="#a09840" stroke-width="2.8" stroke-linecap="round" fill="none"/>
<path d="M90.1 637.8h0" stroke="#606860" stroke-width="2.8" stroke-linecap="round" fill="none"/>
<path d="M163.3 593.1h0" stroke="#985830" stroke-width="2.8" stroke-linecap="round" fill="none"/>
<path d="M182.1 572.2h0M187.1 574.6h0" stroke="#883820" stroke-width="2.8" stroke-linecap="round" fill="none"/>
<path d="M176.3 570.8h0M177.3 570.2h0" stroke="#883828" stroke-width="2.8" stroke-linecap="round" fill="none"/>
<path d="M142.2 597.8h0" stroke="#b87828" stroke-width="2.8" stroke-linecap="round" fill="none"/>
<path d="M89.2 638.9h0" stroke="#585868" stroke-width="2.8" stroke-linecap="round" fill="none"/>
<path d="M176.6 564.7h0" stroke="#a03818" stroke-width="2.8" stroke-linecap="round" fill="none"/>
<path d="M150.4 567.3h0M161.6 582.7h0M148.4 565.6h0" stroke="#905030" stroke-width="2.8" stroke-linecap="round" fill="none"/>
<path d="M164.1 589.2h0M133.9 562.3h0" stroke="#905830" stroke-width="2.8" stroke-linecap="round" fill="none"/>
<path d="M114.5 589.1h0M117.3 593.9h0" stroke="#a08840" stroke-width="2.8" stroke-linecap="round" fill="none"/>
<path d="M83.8 629.4h0" stroke="#686850" stroke-width="2.8" stroke-linecap="round" fill="none"/>
<path d="M128.1 598.5h0M135.4 605.5h0M133.3 603.5h0M123.8 595.2h0M130.9 602.2h0" stroke="#b89028" stroke-width="2.8" stroke-linecap="round" fill="none"/>
<path d="M93.7 637.2h0M89.6 633.1h0M88.2 631.8h0" stroke="#808050" stroke-width="2.8" stroke-linecap="round" fill="none"/>
<path d="M135.0 617.4h0M107.1 598.1h0M128.9 612.9h0" stroke="#a09040" stroke-width="2.8" stroke-linecap="round" fill="none"/>
<path d="M92.3 647.4h0" stroke="#384068" stroke-width="2.8" stroke-linecap="round" fill="none"/>
<path d="M81.4 652.8h0M75.4 660.9h0" stroke="#303868" stroke-width="2.8" stroke-linecap="round" fill="none"/>
<path d="M86.9 637.7h0M85.8 636.8h0" stroke="#505870" stroke-width="2.8" stroke-linecap="round" fill="none"/>
<path d="M92.0 632.6h0" stroke="#989040" stroke-width="2.8" stroke-linecap="round" fill="none"/>
<path d="M137.0 606.7h0M139.2 609.1h0" stroke="#a08040" stroke-width="2.8" stroke-linecap="round" fill="none"/>
<path d="M89.9 638.5h0" stroke="#606060" stroke-width="2.8" stroke-linecap="round" fill="none"/>
<path d="M90.6 634.9h0" stroke="#787850" stroke-width="2.8" stroke-linecap="round" fill="none"/>
<path d="M90.6 614.9h0" stroke="#a09848" stroke-width="2.8" stroke-linecap="round" fill="none"/>
<path d="M80.9 634.0h0" stroke="#484878" stroke-width="2.8" stroke-linecap="round" fill="none"/>
<path d="M90.5 646.2h0M84.5 640.6h0" stroke="#384078" stroke-width="2.8" stroke-linecap="round" fill="none"/>
<path d="M88.5 637.9h0" stroke="#586068" stroke-width="2.8" stroke-linecap="round" fill="none"/>
<path d="M129.1 598.2h0M122.6 595.5h0M128.1 598.5h0M135.4 605.5h0M127.4 595.2h0M133.3 603.5h0M130.9 603.0h0M123.8 595.2h0M123.5 591.8h0M130.9 602.2h0" stroke="#e0b038" stroke-width="1.8" stroke-linecap="round" fill="none"/>
<path d="M137.0 591.1h0M137.0 590.6h0M143.7 596.2h0M133.2 586.3h0M137.3 590.5h0M136.6 588.8h0" stroke="#e09830" stroke-width="1.8" stroke-linecap="round" fill="none"/>
<path d="M210.3 526.6h0M202.4 534.6h0M207.7 528.6h0M203.4 535.2h0M211.2 525.3h0M203.0 535.5h0M212.1 525.4h0M209.5 528.0h0M203.4 531.3h0M205.3 533.2h0M193.7 537.8h0M199.0 539.0h0M197.4 541.4h0M198.4 533.4h0M211.9 524.8h0M212.0 525.4h0M201.5 537.3h0M199.8 532.2h0M210.8 526.0h0M201.4 536.8h0M199.3 532.6h0M203.2 534.5h0M202.7 533.6h0M207.3 530.0h0M197.8 536.6h0M199.0 542.4h0M208.7 527.9h0M193.4 537.8h0M210.8 525.2h0M203.4 535.3h0M208.5 530.0h0M207.5 529.9h0M209.4 527.3h0M196.8 541.4h0M207.6 527.8h0M194.9 537.6h0M212.0 523.6h0M199.8 534.8h0M200.7 534.7h0M199.3 537.5h0M198.0 536.8h0M211.8 526.1h0M205.4 531.3h0M197.2 540.4h0M207.3 531.1h0M204.9 534.6h0M205.5 532.4h0M210.9 527.1h0M210.7 526.0h0M204.1 534.3h0M204.5 531.4h0M202.9 537.4h0M211.1 525.8h0M202.1 537.0h0M198.5 538.4h0M195.3 533.2h0M205.3 530.9h0M201.7 537.6h0M211.8 524.1h0M200.1 538.5h0M211.2 525.6h0M210.6 526.6h0M195.5 540.2h0M204.7 532.6h0M201.0 534.3h0M207.4 530.5h0M196.6 541.3h0M208.9 527.3h0M210.0 528.1h0M198.6 534.2h0M194.2 539.6h0M210.8 526.6h0M200.5 536.3h0M204.3 532.4h0M198.3 538.3h0M211.4 525.9h0M196.2 539.5h0M202.1 534.0h0M198.8 536.5h0M208.0 529.1h0M195.7 539.3h0M209.8 527.4h0M211.7 524.4h0M203.4 533.3h0M207.7 529.3h0M209.8 526.6h0M210.0 526.3h0M211.0 526.7h0M198.5 536.2h0M198.5 536.5h0" stroke="#c02818" stroke-width="1.8" stroke-linecap="round" fill="none"/>
<path d="M145.2 586.8h0M146.4 592.7h0M144.8 588.0h0M142.1 587.6h0M143.7 589.2h0M135.8 581.9h0M144.6 589.3h0M148.6 591.5h0M140.5 584.0h0M145.0 587.1h0M140.8 583.9h0M145.3 586.3h0M140.3 583.7h0" stroke="#e08830" stroke-width="1.8" stroke-linecap="round" fill="none"/>
<path d="M138.5 596.8h0M135.7 593.2h0M131.4 593.3h0M132.5 594.7h0M131.2 590.8h0M133.8 593.7h0M132.5 594.6h0M137.9 596.9h0M136.8 596.3h0M136.1 596.0h0M136.6 595.4h0M136.2 595.2h0M129.7 588.6h0M138.4 596.1h0M136.9 595.7h0" stroke="#e0a038" stroke-width="1.8" stroke-linecap="round" fill="none"/>
<path d="M75.5 647.4h0M67.2 657.0h0M72.2 649.5h0M70.5 649.8h0M80.8 642.1h0M82.3 642.6h0M64.7 652.5h0M64.6 658.4h0M65.8 655.4h0M72.6 650.9h0M61.7 661.1h0M73.4 645.1h0M67.5 653.5h0M82.5 646.6h0M64.6 653.3h0M78.8 647.8h0M64.3 660.4h0M71.6 647.1h0M76.3 650.1h0M61.0 662.6h0M64.4 655.0h0M73.6 647.8h0M66.0 652.9h0M77.5 647.0h0M74.9 645.7h0M82.7 643.1h0M70.8 656.5h0M71.5 658.3h0M78.4 652.3h0M64.7 658.8h0M63.3 653.7h0M72.0 648.3h0M76.7 639.6h0M62.6 654.4h0M63.0 657.3h0M67.6 650.6h0M73.9 646.1h0M71.7 645.4h0M72.0 649.7h0M67.7 646.6h0M80.8 641.9h0M63.6 653.7h0M62.5 654.3h0M64.4 653.5h0M64.6 655.0h0M73.9 655.3h0M60.3 663.3h0M68.5 651.9h0M64.0 654.1h0M64.6 655.5h0M77.7 645.0h0M71.6 654.7h0M66.8 655.4h0M63.9 655.9h0M63.8 661.4h0M76.5 645.2h0M79.3 643.3h0M66.0 654.8h0M66.3 652.2h0M72.0 650.2h0M73.2 652.0h0M72.9 657.2h0M69.3 652.8h0M64.9 652.6h0M77.7 644.6h0M72.8 647.7h0M81.7 644.7h0M79.4 651.5h0M62.7 659.3h0M78.3 646.2h0M67.7 659.1h0M72.3 657.8h0M78.3 642.3h0M75.2 645.9h0M73.9 650.4h0M80.8 646.4h0M67.9 645.2h0M74.1 655.1h0M72.5 652.5h0M76.2 647.2h0M72.9 652.7h0M67.0 656.2h0M73.5 650.1h0M70.5 655.2h0M64.6 663.1h0M68.2 661.0h0M70.7 652.6h0M62.8 658.1h0M81.0 643.1h0M64.7 659.3h0M64.9 660.4h0M69.2 652.6h0M76.4 640.4h0M76.8 648.5h0M73.9 647.9h0M63.8 660.8h0M69.3 646.4h0M69.8 653.3h0M75.4 643.8h0" stroke="#3848a8" stroke-width="1.8" stroke-linecap="round" fill="none"/>
<path d="M165.1 559.3h0M164.9 562.3h0M169.1 564.8h0M170.0 565.1h0M167.3 563.5h0M160.4 559.0h0M169.7 566.6h0M170.5 563.6h0M169.5 565.3h0M171.4 567.0h0M168.8 562.8h0M168.8 564.3h0M171.6 565.2h0M168.2 565.3h0" stroke="#d04820" stroke-width="1.8" stroke-linecap="round" fill="none"/>
<path d="M101.5 624.8h0M105.0 627.9h0M98.2 620.5h0M103.0 626.6h0M103.4 625.0h0M103.5 623.0h0M99.6 624.0h0M95.4 619.6h0M101.1 621.7h0M91.4 620.3h0M93.3 619.7h0M99.6 619.5h0M99.9 622.9h0M107.5 627.9h0M99.6 624.7h0M95.8 619.1h0M103.9 633.7h0M98.3 624.1h0M92.7 621.8h0M107.0 629.9h0M93.7 617.4h0M91.8 621.9h0M97.3 624.8h0M99.9 627.3h0M100.1 626.1h0M102.2 624.9h0M94.9 618.9h0M98.6 625.1h0M99.8 626.3h0" stroke="#d8d040" stroke-width="1.8" stroke-linecap="round" fill="none"/>
<path d="M194.2 540.6h0M193.1 548.1h0M189.9 541.2h0M195.7 544.1h0M192.8 539.6h0M188.8 542.8h0M189.0 542.2h0M190.4 541.4h0M194.2 540.5h0M189.5 545.6h0M187.3 543.4h0M191.2 544.7h0M193.2 544.4h0M192.4 543.8h0M194.0 541.7h0M193.4 543.0h0M192.3 539.1h0M192.4 545.7h0M188.4 544.6h0M190.6 537.7h0M190.8 546.2h0M193.9 543.6h0M190.4 544.1h0M195.9 542.7h0M190.1 544.4h0M190.7 544.6h0" stroke="#c02820" stroke-width="1.8" stroke-linecap="round" fill="none"/>
<path d="M164.5 569.7h0M158.5 564.6h0M167.4 574.5h0M163.6 571.0h0M167.2 573.7h0M158.7 564.9h0M160.4 568.6h0M160.1 567.0h0M161.8 568.9h0M165.9 571.9h0M164.7 572.7h0M159.8 565.8h0M165.3 570.9h0M162.7 571.2h0" stroke="#d05828" stroke-width="1.8" stroke-linecap="round" fill="none"/>
<path d="M146.7 593.1h0M134.9 582.6h0M144.2 590.9h0M140.5 588.8h0M138.7 588.4h0M142.1 590.3h0M139.3 586.4h0M146.6 595.4h0M132.2 584.4h0M139.4 589.9h0M137.2 586.2h0M140.0 588.8h0M139.8 589.1h0M139.1 586.8h0M142.7 591.7h0M134.4 585.0h0" stroke="#e09030" stroke-width="1.8" stroke-linecap="round" fill="none"/>
<path d="M86.4 637.5h0M91.6 641.8h0M86.9 637.7h0M85.8 636.8h0M87.0 638.1h0" stroke="#686888" stroke-width="1.8" stroke-linecap="round" fill="none"/>
<path d="M105.3 618.1h0M107.4 621.4h0M100.2 617.4h0M99.8 619.3h0M101.4 617.2h0M103.8 616.6h0M98.3 616.5h0M105.5 622.0h0M106.0 619.0h0M103.8 617.4h0M107.0 621.0h0M109.3 622.9h0M110.7 626.8h0M109.7 626.0h0M104.3 621.4h0M102.6 620.7h0M110.2 625.2h0M105.7 623.2h0M104.2 616.5h0M102.8 618.0h0M107.6 625.7h0M107.2 626.1h0M104.5 618.5h0M105.7 621.1h0" stroke="#e0d040" stroke-width="1.8" stroke-linecap="round" fill="none"/>
<path d="M88.3 633.7h0M90.2 635.8h0M95.7 640.6h0" stroke="#909068" stroke-width="1.8" stroke-linecap="round" fill="none"/>
<path d="M134.8 598.3h0M132.2 598.2h0M128.6 592.5h0M128.6 595.5h0M133.6 600.1h0M127.9 595.2h0M136.3 603.3h0M131.6 597.3h0M135.4 597.6h0M133.7 600.2h0M125.6 589.1h0M130.4 596.4h0M136.4 602.2h0M137.3 601.2h0" stroke="#e0a838" stroke-width="1.8" stroke-linecap="round" fill="none"/>
<path d="M114.1 617.3h0M107.1 618.1h0M111.1 619.6h0M105.9 611.7h0M108.0 616.8h0M104.9 612.7h0M111.1 617.0h0M107.4 614.7h0M112.3 616.3h0M110.5 621.5h0M105.3 613.9h0M113.0 619.7h0M109.4 615.1h0M101.7 612.6h0M104.3 610.7h0M107.1 612.7h0M108.2 611.3h0M108.1 615.3h0M104.4 610.0h0M110.3 617.4h0" stroke="#e0d840" stroke-width="1.8" stroke-linecap="round" fill="none"/>
<path d="M198.5 545.9h0M196.2 554.8h0M202.9 527.7h0M194.0 532.4h0" stroke="#a03028" stroke-width="1.8" stroke-linecap="round" fill="none"/>
<path d="M180.6 548.3h0M192.5 551.7h0M182.6 548.2h0M181.7 546.0h0M186.2 553.3h0M186.3 549.1h0M184.7 547.1h0M186.1 546.5h0M186.2 546.9h0M179.7 546.6h0M187.7 548.9h0M184.5 550.1h0M186.5 550.3h0M182.4 549.5h0M181.2 546.8h0M185.7 550.3h0M189.1 550.4h0M185.8 553.1h0M185.6 551.4h0M180.6 549.0h0M183.9 552.1h0M183.7 550.0h0M190.8 551.8h0M183.3 546.1h0" stroke="#c83020" stroke-width="1.8" stroke-linecap="round" fill="none"/>
<path d="M165.2 569.5h0M168.8 571.3h0M164.2 565.4h0M165.8 567.6h0M166.0 566.9h0M163.9 566.6h0M165.7 569.6h0M165.1 568.4h0M166.3 567.3h0M157.7 562.5h0M161.5 564.7h0" stroke="#d05028" stroke-width="1.8" stroke-linecap="round" fill="none"/>
<path d="M82.0 641.1h0M78.0 637.8h0M81.0 640.3h0" stroke="#4048a0" stroke-width="1.8" stroke-linecap="round" fill="none"/>
<path d="M150.7 592.7h0M150.1 596.2h0" stroke="#c08040" stroke-width="1.8" stroke-linecap="round" fill="none"/>
<path d="M91.0 632.5h0M92.8 634.2h0" stroke="#b0b058" stroke-width="1.8" stroke-linecap="round" fill="none"/>
<path d="M151.2 570.4h0M159.1 579.0h0M153.9 575.4h0M158.0 576.6h0M156.0 576.3h0M151.9 572.4h0M159.5 577.6h0M161.0 580.4h0M156.2 577.6h0M157.6 578.7h0M154.5 572.3h0M159.3 576.2h0M151.5 572.6h0M153.2 573.5h0M162.2 579.7h0M153.6 575.4h0M157.1 577.8h0" stroke="#d86828" stroke-width="1.8" stroke-linecap="round" fill="none"/>
<path d="M128.8 604.2h0M123.9 600.0h0M122.8 597.1h0M124.0 597.1h0M124.6 602.9h0M128.9 602.3h0M118.3 596.4h0M120.0 595.4h0M124.8 601.5h0M124.6 601.0h0M123.0 599.1h0" stroke="#e8b838" stroke-width="1.8" stroke-linecap="round" fill="none"/>
<path d="M150.9 588.5h0M146.2 584.8h0M152.6 590.7h0M145.4 583.9h0M145.6 586.5h0M148.5 588.6h0M144.8 581.4h0M142.4 579.1h0M147.4 583.9h0M150.7 588.7h0M141.7 582.5h0M143.9 581.6h0M147.7 584.5h0M144.9 582.0h0M146.0 584.1h0M148.6 584.5h0M144.2 584.3h0M144.7 585.7h0" stroke="#e08030" stroke-width="1.8" stroke-linecap="round" fill="none"/>
<path d="M173.0 548.7h0M173.9 547.4h0" stroke="#a03828" stroke-width="1.8" stroke-linecap="round" fill="none"/>
<path d="M91.4 627.6h0M90.7 622.8h0M96.3 631.7h0M95.3 627.2h0M90.9 626.2h0M97.0 628.2h0M95.1 628.7h0M95.7 629.5h0M100.3 633.4h0M100.0 631.7h0M100.1 631.5h0M93.3 628.1h0M98.8 629.9h0M96.0 631.8h0" stroke="#d8d048" stroke-width="1.8" stroke-linecap="round" fill="none"/>
<path d="M121.7 615.4h0M113.9 609.1h0M114.9 609.5h0M117.7 612.5h0M110.2 604.9h0M114.7 608.6h0M119.0 616.6h0M109.2 607.6h0M116.2 613.0h0M112.0 606.7h0M108.8 603.6h0M110.7 605.2h0M118.7 612.2h0M115.6 612.7h0M117.2 613.9h0M117.0 614.9h0M117.8 613.1h0M116.2 608.5h0" stroke="#e8d040" stroke-width="1.8" stroke-linecap="round" fill="none"/>
<path d="M84.5 641.9h0M81.8 639.4h0M84.8 642.4h0M88.0 644.5h0M88.7 645.2h0" stroke="#4850a0" stroke-width="1.8" stroke-linecap="round" fill="none"/>
<path d="M83.6 637.4h0M84.2 639.2h0M88.6 641.9h0M85.7 640.0h0M83.2 638.5h0M85.1 639.5h0M82.9 636.9h0M85.2 638.6h0" stroke="#505898" stroke-width="1.8" stroke-linecap="round" fill="none"/>
<path d="M128.3 609.3h0M125.0 605.0h0M128.9 611.4h0M124.8 606.2h0M123.1 607.9h0M115.9 599.3h0M117.3 602.5h0M120.4 603.5h0M122.9 602.5h0M127.8 611.4h0M122.1 606.6h0M128.3 608.3h0" stroke="#e8c038" stroke-width="1.8" stroke-linecap="round" fill="none"/>
<path d="M88.8 640.4h0M91.1 642.6h0M83.4 635.5h0" stroke="#606090" stroke-width="1.8" stroke-linecap="round" fill="none"/>
<path d="M86.8 634.7h0M90.1 637.8h0M87.6 635.4h0M84.9 632.4h0M92.2 639.6h0" stroke="#808078" stroke-width="1.8" stroke-linecap="round" fill="none"/>
<path d="M177.1 560.2h0M176.5 557.7h0M175.3 557.7h0M175.1 556.4h0M172.5 554.1h0M176.2 559.2h0M172.8 555.3h0M172.3 555.4h0M177.2 561.5h0M172.5 557.3h0M177.6 558.5h0M174.7 557.5h0M176.0 557.6h0M178.1 562.0h0M174.8 559.1h0" stroke="#c84020" stroke-width="1.8" stroke-linecap="round" fill="none"/>
<path d="M181.6 552.6h0M180.2 553.5h0M180.7 553.9h0M179.4 552.8h0M180.5 558.5h0M183.0 556.7h0M181.1 553.9h0M182.6 555.2h0M181.3 550.8h0M180.9 554.9h0M176.8 554.8h0M181.2 556.1h0M175.0 554.7h0M179.3 555.1h0M184.2 555.3h0M181.7 552.7h0M180.6 554.4h0M178.7 553.8h0M177.6 555.1h0M178.2 554.1h0M176.7 555.6h0M186.6 555.3h0M178.9 559.1h0M177.0 557.6h0" stroke="#c83820" stroke-width="1.8" stroke-linecap="round" fill="none"/>
<path d="M106.2 607.9h0M115.1 614.3h0M108.9 610.1h0M112.4 612.9h0M107.5 609.2h0M107.3 608.6h0M115.3 616.3h0M115.7 617.5h0M111.5 611.0h0M106.3 608.4h0" stroke="#e8d840" stroke-width="1.8" stroke-linecap="round" fill="none"/>
<path d="M153.7 579.3h0M156.6 581.1h0M152.9 577.9h0M148.5 574.7h0M158.9 581.9h0M155.0 578.7h0M151.8 580.2h0M151.0 577.8h0M153.6 577.5h0M156.1 582.2h0M154.6 578.0h0M158.8 582.3h0M155.9 581.7h0M153.8 577.7h0M154.9 580.7h0M153.8 578.7h0" stroke="#d87030" stroke-width="1.8" stroke-linecap="round" fill="none"/>
<path d="M172.4 560.6h0M173.4 560.3h0M174.0 563.3h0M170.8 561.3h0M171.7 561.7h0M170.3 560.6h0M176.6 564.7h0M171.0 561.6h0M172.1 559.5h0M171.7 561.6h0M166.6 559.2h0M173.5 561.2h0M172.7 563.4h0M175.3 561.9h0M173.3 559.7h0M172.7 564.7h0" stroke="#d04020" stroke-width="1.8" stroke-linecap="round" fill="none"/>
<path d="M102.0 603.6h0M105.4 600.7h0M122.4 618.2h0" stroke="#d0c058" stroke-width="1.8" stroke-linecap="round" fill="none"/>
<path d="M139.8 603.5h0M114.8 580.4h0M142.8 602.3h0" stroke="#c89848" stroke-width="1.8" stroke-linecap="round" fill="none"/>
<path d="M156.6 566.3h0M160.6 570.8h0M157.3 567.1h0M158.2 568.5h0M161.2 570.0h0M157.7 567.0h0" stroke="#d85828" stroke-width="1.8" stroke-linecap="round" fill="none"/>
<path d="M179.7 577.2h0" stroke="#a85030" stroke-width="1.8" stroke-linecap="round" fill="none"/>
<path d="M94.1 633.9h0M91.2 631.4h0M97.8 637.3h0" stroke="#c0b850" stroke-width="1.8" stroke-linecap="round" fill="none"/>
<path d="M117.8 609.6h0M124.7 613.9h0M117.8 607.0h0M120.1 609.9h0M124.4 612.9h0" stroke="#e8c840" stroke-width="1.8" stroke-linecap="round" fill="none"/>
<path d="M155.2 566.4h0M153.0 568.3h0M160.3 573.3h0M165.0 575.8h0M164.5 576.8h0M161.4 573.1h0M166.0 576.7h0M158.2 574.1h0M158.5 569.6h0M155.6 570.6h0M156.5 571.8h0M157.2 572.2h0" stroke="#d86028" stroke-width="1.8" stroke-linecap="round" fill="none"/>
<path d="M187.7 544.5h0M192.2 549.7h0" stroke="#c03020" stroke-width="1.8" stroke-linecap="round" fill="none"/>
<path d="M121.8 589.9h0M145.1 612.6h0M137.0 606.7h0M139.2 609.1h0" stroke="#c8a048" stroke-width="1.8" stroke-linecap="round" fill="none"/>
<path d="M95.2 637.6h0" stroke="#a8a860" stroke-width="1.8" stroke-linecap="round" fill="none"/>
<path d="M106.3 635.4h0M104.9 634.8h0" stroke="#c0b858" stroke-width="1.8" stroke-linecap="round" fill="none"/>
<path d="M93.4 630.8h0M94.8 632.5h0M88.4 626.0h0M91.2 628.7h0M94.6 632.1h0M96.8 634.6h0" stroke="#d0c848" stroke-width="1.8" stroke-linecap="round" fill="none"/>
<path d="M152.4 582.7h0M144.4 574.4h0M152.1 581.8h0M153.9 586.8h0M148.4 578.0h0M153.4 584.5h0M153.7 585.0h0M150.0 582.4h0M149.2 581.3h0M157.2 586.0h0M143.2 574.5h0M149.8 580.7h0M152.6 585.4h0M145.5 577.3h0" stroke="#d87830" stroke-width="1.8" stroke-linecap="round" fill="none"/>
<path d="M117.5 578.1h0M143.3 602.3h0" stroke="#c09848" stroke-width="1.8" stroke-linecap="round" fill="none"/>
<path d="M163.8 597.8h0M155.6 590.1h0M133.4 570.2h0" stroke="#b87840" stroke-width="1.8" stroke-linecap="round" fill="none"/>
<path d="M160.9 560.3h0M164.3 564.6h0" stroke="#d05020" stroke-width="1.8" stroke-linecap="round" fill="none"/>
<path d="M93.9 637.7h0" stroke="#a09868" stroke-width="1.8" stroke-linecap="round" fill="none"/>
<path d="M163.3 593.1h0M133.9 562.3h0" stroke="#b87040" stroke-width="1.8" stroke-linecap="round" fill="none"/>
<path d="M179.2 579.5h0M170.1 573.3h0M156.2 559.6h0" stroke="#b05030" stroke-width="1.8" stroke-linecap="round" fill="none"/>
<path d="M137.7 594.2h0M142.2 597.8h0M137.9 592.5h0M138.6 593.2h0M131.4 588.6h0M137.2 591.9h0M132.0 589.3h0M143.4 597.7h0" stroke="#e09838" stroke-width="1.8" stroke-linecap="round" fill="none"/>
<path d="M182.1 572.2h0M176.3 570.8h0M177.3 570.2h0M175.5 571.9h0" stroke="#a84830" stroke-width="1.8" stroke-linecap="round" fill="none"/>
<path d="M92.0 633.2h0" stroke="#b8b058" stroke-width="1.8" stroke-linecap="round" fill="none"/>
<path d="M94.2 639.5h0" stroke="#909070" stroke-width="1.8" stroke-linecap="round" fill="none"/>
<path d="M107.4 632.8h0M90.6 614.9h0" stroke="#c0c058" stroke-width="1.8" stroke-linecap="round" fill="none"/>
<path d="M150.3 584.4h0M144.4 578.3h0" stroke="#e07830" stroke-width="1.8" stroke-linecap="round" fill="none"/>
<path d="M89.2 638.9h0M88.5 637.9h0" stroke="#707080" stroke-width="1.8" stroke-linecap="round" fill="none"/>
<path d="M80.7 637.6h0M90.5 646.2h0M84.5 640.6h0" stroke="#485098" stroke-width="1.8" stroke-linecap="round" fill="none"/>
<path d="M150.4 567.3h0M148.4 565.6h0" stroke="#b86038" stroke-width="1.8" stroke-linecap="round" fill="none"/>
<path d="M164.1 589.2h0" stroke="#b87038" stroke-width="1.8" stroke-linecap="round" fill="none"/>
<path d="M114.5 589.1h0M117.3 593.9h0" stroke="#c8a850" stroke-width="1.8" stroke-linecap="round" fill="none"/>
<path d="M85.8 638.9h0" stroke="#585890" stroke-width="1.8" stroke-linecap="round" fill="none"/>
<path d="M83.8 629.4h0" stroke="#888868" stroke-width="1.8" stroke-linecap="round" fill="none"/>
<path d="M93.7 637.2h0M89.6 633.1h0M88.2 631.8h0" stroke="#a0a060" stroke-width="1.8" stroke-linecap="round" fill="none"/>
<path d="M135.0 617.4h0M128.9 612.9h0" stroke="#c8b050" stroke-width="1.8" stroke-linecap="round" fill="none"/>
<path d="M150.6 572.8h0" stroke="#d86830" stroke-width="1.8" stroke-linecap="round" fill="none"/>
<path d="M92.3 647.4h0" stroke="#485080" stroke-width="1.8" stroke-linecap="round" fill="none"/>
<path d="M107.1 598.1h0" stroke="#c8b850" stroke-width="1.8" stroke-linecap="round" fill="none"/>
<path d="M81.4 652.8h0M75.4 660.9h0" stroke="#384088" stroke-width="1.8" stroke-linecap="round" fill="none"/>
<path d="M80.8 639.7h0M84.4 642.3h0" stroke="#4050a0" stroke-width="1.8" stroke-linecap="round" fill="none"/>
<path d="M122.8 610.6h0M114.1 601.8h0M121.4 608.9h0" stroke="#e8c838" stroke-width="1.8" stroke-linecap="round" fill="none"/>
<path d="M132.3 581.2h0" stroke="#c08848" stroke-width="1.8" stroke-linecap="round" fill="none"/>
<path d="M92.0 632.6h0" stroke="#b8b850" stroke-width="1.8" stroke-linecap="round" fill="none"/>
<path d="M89.1 635.5h0M86.9 633.4h0" stroke="#888870" stroke-width="1.8" stroke-linecap="round" fill="none"/>
<path d="M88.4 639.8h0" stroke="#606888" stroke-width="1.8" stroke-linecap="round" fill="none"/>
<path d="M187.1 574.6h0" stroke="#a84030" stroke-width="1.8" stroke-linecap="round" fill="none"/>
<path d="M89.9 638.5h0" stroke="#787880" stroke-width="1.8" stroke-linecap="round" fill="none"/>
<path d="M151.3 597.5h0" stroke="#c08840" stroke-width="1.8" stroke-linecap="round" fill="none"/>
<path d="M161.6 582.7h0" stroke="#b86838" stroke-width="1.8" stroke-linecap="round" fill="none"/>
<path d="M90.6 634.9h0" stroke="#989868" stroke-width="1.8" stroke-linecap="round" fill="none"/>
<path d="M80.9 634.0h0" stroke="#586090" stroke-width="1.8" stroke-linecap="round" fill="none"/>
<path d="M117.2 613.4h0M108.7 615.6h0M111.1 613.6h0M108.1 611.6h0M104.8 608.3h0M113.2 615.5h0M111.5 617.9h0M107.8 614.5h0M105.2 609.2h0M107.0 612.0h0M109.3 607.5h0M109.5 612.6h0M114.9 621.8h0M108.8 616.6h0M111.1 615.4h0M114.8 608.6h0M113.7 612.1h0M120.9 615.1h0M119.2 614.2h0M111.1 619.1h0M110.6 617.1h0M117.0 609.6h0M113.7 612.2h0M101.6 610.7h0M117.9 620.5h0M111.3 617.2h0M112.4 616.4h0M113.1 613.2h0M115.4 612.6h0M114.7 612.8h0M110.4 610.4h0M113.1 608.3h0M115.7 615.0h0M116.0 615.5h0M115.5 609.7h0M116.2 611.5h0" stroke="#b8a830" stroke-width="2.8" stroke-linecap="round" fill="none"/>
<path d="M131.0 598.7h0M131.6 597.5h0M132.1 596.3h0M127.5 593.8h0M127.1 595.4h0M123.9 592.7h0M129.9 595.9h0M135.6 601.7h0M130.4 597.0h0M132.3 596.3h0M131.4 599.8h0M135.4 602.9h0M127.3 595.0h0M128.3 594.5h0M134.6 600.1h0M130.3 596.4h0M123.5 593.0h0M128.3 592.2h0M134.9 600.5h0" stroke="#b88828" stroke-width="2.8" stroke-linecap="round" fill="none"/>
<path d="M104.5 623.5h0M97.5 625.5h0M102.7 630.1h0M105.1 615.1h0M100.0 622.7h0M99.0 620.1h0M93.3 619.1h0M106.0 627.7h0M100.9 614.0h0M99.2 621.6h0M100.7 622.8h0M108.3 629.5h0M100.8 613.2h0M98.5 619.7h0M112.1 623.8h0M101.7 630.9h0M99.7 623.4h0M107.3 620.9h0M96.6 622.9h0M108.3 622.3h0M104.3 617.0h0M108.0 625.9h0M106.8 617.3h0M102.6 624.3h0M101.9 621.5h0M103.5 621.9h0M102.7 627.0h0M102.5 626.9h0M108.8 625.5h0M110.1 625.7h0M104.7 620.8h0M100.6 628.3h0M104.5 632.4h0M111.1 627.8h0M100.7 613.4h0M99.8 627.5h0M98.0 622.7h0M107.9 621.9h0M102.4 615.8h0M103.7 615.3h0M105.4 623.6h0M101.8 615.8h0M114.1 624.1h0M106.3 617.0h0M106.2 632.4h0M107.9 622.4h0M104.3 620.3h0M98.8 625.8h0M100.1 624.1h0" stroke="#b0a838" stroke-width="2.8" stroke-linecap="round" fill="none"/>
<path d="M66.0 648.4h0M77.7 642.2h0M69.9 650.4h0M81.7 647.9h0M68.5 652.5h0M80.3 644.7h0M73.0 651.3h0M73.0 646.2h0M67.1 651.8h0M80.7 642.7h0M76.1 643.5h0M75.9 649.9h0M76.1 644.7h0M62.9 656.8h0M66.1 655.5h0M73.4 651.0h0M72.0 650.7h0M78.5 645.9h0M80.0 643.1h0M67.4 653.2h0M69.6 651.9h0M77.3 652.3h0M63.8 654.6h0M66.3 653.2h0M69.5 651.6h0M65.6 654.3h0M70.4 652.1h0M72.0 652.2h0M68.9 644.9h0M70.6 647.5h0M78.2 640.9h0M72.7 646.8h0M76.2 639.1h0M84.0 646.7h0M70.3 652.0h0M65.3 656.0h0M70.3 652.5h0M71.2 656.8h0M76.2 650.7h0M70.1 650.9h0M83.0 643.9h0M67.2 653.5h0M64.9 656.6h0M69.6 653.5h0M67.4 659.0h0M70.6 644.1h0M74.8 649.5h0M73.2 656.5h0M80.4 647.2h0M72.2 649.0h0M79.0 646.2h0M82.6 642.6h0M74.9 640.8h0M71.2 646.9h0M74.1 647.7h0M68.8 655.2h0M71.3 647.8h0M78.1 650.1h0M64.0 654.4h0M70.0 646.6h0M76.1 646.9h0M72.7 651.2h0M65.3 649.5h0M63.0 656.7h0M80.4 644.7h0M71.8 656.2h0M68.8 661.3h0M67.7 652.7h0M82.2 643.1h0M69.6 658.7h0M74.5 652.2h0M79.9 646.4h0M72.9 649.7h0M79.3 639.9h0M63.2 655.4h0M76.9 642.3h0" stroke="#303880" stroke-width="2.8" stroke-linecap="round" fill="none"/>
<path d="M156.1 568.0h0M161.9 569.2h0M159.6 569.7h0M164.6 574.9h0M161.4 572.8h0M158.6 570.1h0M158.9 567.1h0M159.5 566.3h0M160.8 568.7h0M161.5 572.6h0M159.6 567.8h0M163.8 569.5h0M165.0 571.3h0M166.1 572.3h0M164.2 570.3h0" stroke="#a84820" stroke-width="2.8" stroke-linecap="round" fill="none"/>
<path d="M158.2 575.5h0M151.9 570.9h0M154.4 574.8h0M151.3 568.6h0M154.0 573.2h0M162.2 580.9h0M155.9 574.5h0M155.4 574.8h0M149.3 570.1h0" stroke="#b05020" stroke-width="2.8" stroke-linecap="round" fill="none"/>
<path d="M210.6 526.2h0M198.5 537.3h0M198.4 536.5h0M200.8 532.6h0M193.0 536.0h0M208.6 527.0h0M201.2 532.3h0M204.0 534.3h0M195.4 535.0h0M195.0 538.5h0M208.7 529.2h0M208.0 527.6h0M203.9 531.3h0M206.5 528.2h0M211.3 525.8h0M206.0 532.0h0M209.9 527.0h0M211.8 523.9h0M197.0 539.9h0M200.1 538.9h0M193.8 537.8h0M202.0 533.4h0M196.6 538.4h0M208.3 529.3h0M203.2 535.7h0M206.9 530.0h0M202.5 534.8h0M207.2 528.3h0M197.4 540.9h0M210.6 525.7h0M195.2 537.8h0M207.3 529.8h0M204.3 533.1h0M200.4 533.5h0M209.7 526.6h0M195.6 537.5h0M202.5 536.1h0M203.4 534.6h0M196.5 539.9h0M205.0 533.2h0M205.9 528.5h0M203.6 532.4h0M209.9 527.8h0M197.5 538.1h0M204.6 533.9h0M202.2 532.6h0M199.2 537.9h0M209.4 527.5h0M210.4 526.9h0M197.9 537.7h0M200.1 536.0h0M198.4 541.0h0M203.5 533.3h0M203.7 530.8h0M207.8 530.2h0M203.7 535.3h0M209.8 526.3h0M204.9 530.8h0M208.1 528.5h0M197.3 539.6h0M197.0 534.2h0M192.9 537.7h0M209.4 526.4h0M201.2 536.5h0M198.4 535.5h0M201.2 533.9h0M197.1 541.3h0M205.9 528.8h0M211.4 525.7h0M203.0 532.8h0M202.2 534.5h0M192.8 536.0h0M202.8 534.5h0M207.8 530.2h0M205.6 529.8h0M206.5 530.1h0M208.8 526.6h0M194.4 534.6h0M211.3 526.0h0M204.0 530.8h0M209.1 526.6h0M208.6 527.7h0M201.8 533.3h0M212.0 524.4h0M206.7 529.5h0M205.8 530.6h0M203.5 532.4h0" stroke="#982018" stroke-width="2.8" stroke-linecap="round" fill="none"/>
<path d="M138.7 597.7h0M137.1 597.5h0M136.9 594.5h0M130.1 593.2h0M132.1 594.6h0M132.4 594.5h0M139.3 598.3h0M127.8 588.3h0M135.4 593.5h0M135.4 593.0h0M140.5 600.3h0M133.3 592.4h0M126.6 589.9h0M138.9 599.4h0M132.4 590.7h0M135.2 596.7h0M142.2 598.6h0M137.3 595.9h0M134.7 593.0h0M132.9 590.3h0M131.3 588.2h0M133.9 593.1h0" stroke="#b88028" stroke-width="2.8" stroke-linecap="round" fill="none"/>
<path d="M87.9 640.1h0M89.2 640.8h0" stroke="#485070" stroke-width="2.8" stroke-linecap="round" fill="none"/>
<path d="M152.5 566.4h0M151.7 567.0h0M161.5 576.6h0M158.8 572.2h0M156.8 570.1h0M154.8 571.5h0M157.4 572.8h0M163.2 576.0h0M157.9 572.3h0M154.9 569.9h0" stroke="#a85020" stroke-width="2.8" stroke-linecap="round" fill="none"/>
<path d="M120.3 609.5h0M118.5 607.1h0M119.2 611.6h0M112.7 604.5h0M118.9 605.8h0M119.8 608.8h0M115.8 602.3h0M117.4 609.8h0M116.5 606.3h0M121.6 612.5h0M119.3 610.7h0M125.5 613.7h0M119.9 611.3h0M119.4 606.1h0M122.9 610.1h0M117.2 604.8h0M116.1 604.4h0M113.6 604.8h0M117.5 604.6h0M120.8 606.3h0M120.9 613.2h0M119.9 608.6h0M114.1 602.7h0" stroke="#b8a030" stroke-width="2.8" stroke-linecap="round" fill="none"/>
<path d="M195.1 545.3h0M189.1 546.6h0M193.7 543.0h0M189.1 543.6h0M194.5 546.1h0M194.9 540.3h0M193.7 539.4h0M194.3 542.8h0M191.3 546.0h0M194.0 540.8h0M196.3 546.1h0M194.3 540.9h0M191.3 542.8h0M192.8 543.5h0M190.1 543.9h0M189.8 545.2h0M192.7 542.1h0M187.3 543.9h0M194.9 543.0h0M194.1 544.7h0M190.5 547.4h0" stroke="#a02018" stroke-width="2.8" stroke-linecap="round" fill="none"/>
<path d="M95.3 630.7h0M90.0 624.1h0M94.8 630.8h0M95.9 630.7h0M96.1 629.8h0M99.0 632.9h0M93.0 628.0h0M97.3 631.9h0M94.8 632.7h0M96.3 631.7h0" stroke="#a8a038" stroke-width="2.8" stroke-linecap="round" fill="none"/>
<path d="M163.5 568.2h0M170.8 568.6h0M161.9 565.5h0M167.4 571.0h0M158.6 563.0h0M161.6 562.4h0M159.1 560.1h0M163.4 564.8h0M164.0 563.4h0M165.6 569.5h0M165.2 569.9h0M161.1 561.5h0M167.1 567.0h0M168.5 570.0h0M161.1 566.4h0M160.4 561.5h0M162.1 567.1h0M165.7 564.7h0M161.4 560.1h0M162.0 561.8h0M158.2 561.4h0M164.5 568.9h0" stroke="#a84020" stroke-width="2.8" stroke-linecap="round" fill="none"/>
<path d="M180.8 545.3h0M185.9 550.3h0M183.1 544.2h0M182.9 551.7h0M191.5 551.7h0M188.8 554.4h0M186.1 547.5h0M181.8 550.9h0M185.0 547.6h0M180.3 547.6h0M186.2 553.7h0M186.1 557.5h0M187.1 548.5h0M179.4 551.1h0M182.3 552.2h0M184.0 547.3h0M186.1 550.4h0M180.3 551.7h0M181.1 552.3h0M188.2 547.7h0M193.0 551.1h0M186.4 547.8h0M187.3 549.3h0M182.9 550.1h0M190.9 550.0h0M183.1 555.9h0M187.3 549.0h0M186.6 548.8h0M182.6 553.5h0M186.3 550.8h0M180.0 550.8h0M185.3 548.2h0M178.8 549.8h0M183.4 554.7h0M187.5 546.0h0M179.3 547.9h0M184.3 551.1h0M184.7 546.7h0M184.9 546.5h0M185.5 551.7h0" stroke="#a02818" stroke-width="2.8" stroke-linecap="round" fill="none"/>
<path d="M96.5 628.0h0M98.0 627.9h0M101.6 632.1h0M95.4 626.1h0M96.1 628.0h0M90.3 621.5h0M101.9 631.5h0M95.0 625.6h0M94.8 626.1h0M100.0 632.3h0" stroke="#a8a838" stroke-width="2.8" stroke-linecap="round" fill="none"/>
<path d="M170.6 566.4h0M166.7 564.0h0M168.5 565.2h0M173.5 565.7h0M168.8 563.6h0M162.1 558.6h0M169.7 560.8h0M165.9 562.1h0M168.2 560.2h0M165.6 556.7h0M175.6 565.4h0M165.2 559.5h0M173.4 564.7h0M172.9 565.8h0M169.3 563.3h0M169.0 565.9h0M168.9 563.3h0M169.4 560.5h0M168.1 565.1h0M169.2 563.4h0M169.0 564.8h0M165.3 560.6h0M169.0 560.1h0M170.2 566.2h0M170.2 566.8h0M170.5 566.9h0M172.6 566.3h0M171.2 562.2h0M172.6 564.3h0M163.8 561.6h0" stroke="#a83818" stroke-width="2.8" stroke-linecap="round" fill="none"/>
<path d="M87.2 637.2h0M86.8 637.2h0" stroke="#585868" stroke-width="2.8" stroke-linecap="round" fill="none"/>
<path d="M86.7 628.4h0M98.4 639.1h0" stroke="#909048" stroke-width="2.8" stroke-linecap="round" fill="none"/>
<path d="M87.9 641.9h0M82.8 636.9h0M81.9 637.2h0M90.4 643.1h0M81.8 637.1h0M90.4 643.4h0M85.7 639.1h0M87.5 641.7h0" stroke="#404878" stroke-width="2.8" stroke-linecap="round" fill="none"/>
<path d="M146.5 586.8h0M150.1 587.7h0M142.4 582.0h0M143.3 579.9h0M147.5 588.0h0M140.9 583.2h0M149.0 586.3h0M140.7 581.2h0M152.8 588.0h0M149.9 590.7h0M153.3 588.8h0M148.1 589.0h0M146.3 587.7h0M145.1 585.1h0M143.6 584.1h0M146.3 585.6h0M141.3 582.3h0M144.0 586.2h0M145.9 588.0h0" stroke="#b06828" stroke-width="2.8" stroke-linecap="round" fill="none"/>
<path d="M180.6 554.9h0M175.6 560.9h0M180.0 555.5h0M174.7 550.7h0M178.9 562.5h0M169.4 556.1h0M171.6 553.4h0M176.0 558.4h0M178.4 553.1h0M175.6 559.9h0M176.5 554.6h0M177.2 557.6h0M180.1 560.5h0M181.5 557.7h0M174.4 553.8h0M182.2 557.0h0M177.4 560.7h0M174.3 557.1h0M180.3 558.2h0M178.5 560.1h0M173.4 558.0h0M172.0 560.3h0M166.9 553.6h0M176.1 556.0h0M175.0 556.1h0M180.0 559.6h0M172.2 557.9h0M172.5 557.9h0M179.2 556.8h0M182.1 555.5h0M177.5 561.6h0M179.0 557.3h0M174.6 556.4h0" stroke="#a03018" stroke-width="2.8" stroke-linecap="round" fill="none"/>
<path d="M62.1 660.0h0M61.5 657.7h0M66.7 662.7h0M62.9 660.4h0M61.7 662.7h0M62.3 659.7h0M62.4 659.2h0M62.6 662.5h0M65.4 660.1h0M61.2 656.5h0M63.2 657.5h0M63.6 663.6h0M60.4 662.2h0M60.3 661.3h0" stroke="#303888" stroke-width="2.8" stroke-linecap="round" fill="none"/>
<path d="M139.6 591.8h0M140.7 594.9h0M131.4 584.7h0M140.3 594.7h0M136.0 590.5h0M138.6 592.9h0M141.4 591.5h0M139.9 594.3h0M142.6 593.6h0M144.0 594.4h0M133.5 584.0h0M135.7 589.2h0M138.5 590.0h0M144.2 595.6h0M141.2 595.6h0M140.4 593.4h0M138.3 588.4h0M140.0 590.5h0M142.3 592.2h0" stroke="#b07828" stroke-width="2.8" stroke-linecap="round" fill="none"/>
<path d="M86.4 638.9h0M83.8 636.5h0" stroke="#484870" stroke-width="2.8" stroke-linecap="round" fill="none"/>
<path d="M94.3 638.6h0" stroke="#787850" stroke-width="2.8" stroke-linecap="round" fill="none"/>
<path d="M126.8 608.9h0M124.1 605.6h0M118.3 602.1h0M115.3 597.8h0M116.0 598.6h0M123.0 601.2h0M118.6 600.5h0M125.2 608.6h0M128.1 612.2h0M129.3 606.2h0M120.4 602.7h0M118.9 599.7h0M127.1 608.4h0M118.9 599.8h0M119.4 602.9h0M127.6 604.2h0M121.3 599.2h0M123.4 605.1h0M121.0 603.8h0M122.5 602.2h0" stroke="#b89830" stroke-width="2.8" stroke-linecap="round" fill="none"/>
<path d="M113.1 614.5h0M111.9 613.7h0M107.2 609.8h0M118.1 618.7h0M114.2 615.2h0M113.3 614.6h0" stroke="#b8b030" stroke-width="2.8" stroke-linecap="round" fill="none"/>
<path d="M92.5 616.2h0M122.5 619.0h0M109.1 631.7h0M123.8 620.0h0M93.3 616.8h0" stroke="#a09848" stroke-width="2.8" stroke-linecap="round" fill="none"/>
<path d="M203.9 537.0h0M202.3 539.0h0M197.7 531.2h0M191.2 553.8h0M199.8 530.4h0M209.4 529.3h0M210.7 524.1h0M198.6 531.0h0" stroke="#802820" stroke-width="2.8" stroke-linecap="round" fill="none"/>
<path d="M146.5 581.4h0M146.3 575.9h0M145.6 578.5h0M142.1 577.6h0M156.7 585.6h0M151.3 580.5h0M151.0 579.7h0M148.9 582.9h0M152.0 581.2h0M151.5 580.2h0M153.5 585.6h0M151.1 579.5h0M145.7 579.7h0M152.5 586.0h0M155.7 583.5h0M149.3 579.3h0" stroke="#b06028" stroke-width="2.8" stroke-linecap="round" fill="none"/>
<path d="M148.1 592.9h0M138.4 585.2h0M145.1 590.6h0M141.1 586.9h0M143.3 591.0h0M141.5 591.1h0M141.7 588.2h0M147.7 593.7h0M143.8 592.9h0M140.3 585.6h0M136.0 585.4h0M139.8 588.4h0M141.9 586.3h0M141.3 585.3h0" stroke="#b07028" stroke-width="2.8" stroke-linecap="round" fill="none"/>
<path d="M127.1 601.2h0M124.7 597.7h0M123.9 600.1h0M124.7 598.1h0M125.8 600.5h0M128.1 603.4h0M132.7 604.1h0M128.1 601.8h0M129.1 601.8h0M124.7 600.1h0M130.0 603.1h0M127.9 600.3h0" stroke="#b89030" stroke-width="2.8" stroke-linecap="round" fill="none"/>
<path d="M108.0 595.5h0M108.0 591.3h0M129.3 611.9h0" stroke="#a09040" stroke-width="2.8" stroke-linecap="round" fill="none"/>
<path d="M147.3 597.4h0M146.8 598.1h0" stroke="#987038" stroke-width="2.8" stroke-linecap="round" fill="none"/>
<path d="M171.2 568.7h0" stroke="#a83820" stroke-width="2.8" stroke-linecap="round" fill="none"/>
<path d="M87.3 635.1h0M88.2 635.3h0M88.9 636.6h0M89.9 637.5h0" stroke="#686860" stroke-width="2.8" stroke-linecap="round" fill="none"/>
<path d="M87.8 626.5h0M101.9 639.4h0" stroke="#989048" stroke-width="2.8" stroke-linecap="round" fill="none"/>
<path d="M79.4 638.3h0M83.7 642.5h0M82.3 641.5h0M82.4 641.5h0" stroke="#304080" stroke-width="2.8" stroke-linecap="round" fill="none"/>
<path d="M104.6 635.2h0M110.8 637.8h0" stroke="#989848" stroke-width="2.8" stroke-linecap="round" fill="none"/>
<path d="M154.0 575.3h0M153.7 578.8h0M148.8 573.4h0M148.2 570.9h0M154.8 576.5h0M157.5 580.2h0" stroke="#b05820" stroke-width="2.8" stroke-linecap="round" fill="none"/>
<path d="M83.7 632.8h0M92.6 640.7h0" stroke="#606060" stroke-width="2.8" stroke-linecap="round" fill="none"/>
<path d="M85.4 642.5h0M80.6 637.5h0M78.4 636.2h0M82.8 640.6h0M82.6 640.1h0M85.1 643.4h0" stroke="#384080" stroke-width="2.8" stroke-linecap="round" fill="none"/>
<path d="M157.2 559.5h0M171.6 572.0h0" stroke="#884028" stroke-width="2.8" stroke-linecap="round" fill="none"/>
<path d="M84.4 630.1h0" stroke="#787858" stroke-width="2.8" stroke-linecap="round" fill="none"/>
<path d="M142.3 597.6h0M136.5 592.8h0M137.5 593.2h0M137.9 594.0h0M137.4 593.6h0" stroke="#b87828" stroke-width="2.8" stroke-linecap="round" fill="none"/>
<path d="M85.0 631.6h0M86.9 633.5h0M89.0 635.5h0" stroke="#707058" stroke-width="2.8" stroke-linecap="round" fill="none"/>
<path d="M112.2 621.3h0M112.0 620.8h0M114.1 623.0h0" stroke="#b0a830" stroke-width="2.8" stroke-linecap="round" fill="none"/>
<path d="M97.6 638.7h0" stroke="#908848" stroke-width="2.8" stroke-linecap="round" fill="none"/>
<path d="M88.6 644.0h0M87.4 642.8h0M90.3 645.4h0M84.5 640.1h0M83.9 639.4h0" stroke="#404078" stroke-width="2.8" stroke-linecap="round" fill="none"/>
<path d="M160.0 585.9h0M146.1 570.5h0" stroke="#905830" stroke-width="2.8" stroke-linecap="round" fill="none"/>
<path d="M149.8 557.1h0M175.2 586.6h0M170.6 575.8h0" stroke="#904828" stroke-width="2.8" stroke-linecap="round" fill="none"/>
<path d="M96.6 639.4h0M87.0 631.0h0M93.2 636.4h0" stroke="#808050" stroke-width="2.8" stroke-linecap="round" fill="none"/>
<path d="M101.3 604.4h0" stroke="#a0a048" stroke-width="2.8" stroke-linecap="round" fill="none"/>
<path d="M91.5 642.6h0" stroke="#505070" stroke-width="2.8" stroke-linecap="round" fill="none"/>
<path d="M176.4 548.9h0M190.3 556.6h0M191.5 563.4h0" stroke="#803020" stroke-width="2.8" stroke-linecap="round" fill="none"/>
<path d="M92.3 652.3h0M75.8 636.3h0" stroke="#303868" stroke-width="2.8" stroke-linecap="round" fill="none"/>
<path d="M121.6 588.7h0" stroke="#a08038" stroke-width="2.8" stroke-linecap="round" fill="none"/>
<path d="M132.0 580.6h0M135.7 579.9h0M134.9 578.4h0" stroke="#986838" stroke-width="2.8" stroke-linecap="round" fill="none"/>
<path d="M146.1 573.4h0M151.1 578.0h0M149.4 577.3h0M152.8 579.2h0M154.8 581.5h0M148.4 576.3h0M158.5 583.7h0M152.3 578.1h0" stroke="#b05828" stroke-width="2.8" stroke-linecap="round" fill="none"/>
<path d="M157.5 591.8h0" stroke="#986030" stroke-width="2.8" stroke-linecap="round" fill="none"/>
<path d="M131.6 602.0h0M127.2 597.6h0" stroke="#b89028" stroke-width="2.8" stroke-linecap="round" fill="none"/>
<path d="M94.5 644.5h0M81.6 631.8h0M95.9 645.0h0" stroke="#505060" stroke-width="2.8" stroke-linecap="round" fill="none"/>
<path d="M163.9 553.8h0M186.6 572.4h0" stroke="#883820" stroke-width="2.8" stroke-linecap="round" fill="none"/>
<path d="M167.8 550.8h0M183.7 563.0h0M185.9 567.2h0" stroke="#883020" stroke-width="2.8" stroke-linecap="round" fill="none"/>
<path d="M95.6 635.4h0" stroke="#989840" stroke-width="2.8" stroke-linecap="round" fill="none"/>
<path d="M98.5 646.6h0" stroke="#585858" stroke-width="2.8" stroke-linecap="round" fill="none"/>
<path d="M139.6 611.6h0M134.9 612.6h0" stroke="#a08840" stroke-width="2.8" stroke-linecap="round" fill="none"/>
<path d="M142.3 574.0h0" stroke="#985830" stroke-width="2.8" stroke-linecap="round" fill="none"/>
<path d="M94.7 636.5h0" stroke="#888848" stroke-width="2.8" stroke-linecap="round" fill="none"/>
<path d="M176.0 564.2h0M174.6 563.5h0M166.0 555.4h0M173.5 562.7h0" stroke="#a03818" stroke-width="2.8" stroke-linecap="round" fill="none"/>
<path d="M107.2 603.6h0M123.5 617.7h0" stroke="#a09840" stroke-width="2.8" stroke-linecap="round" fill="none"/>
<path d="M93.4 634.1h0" stroke="#989040" stroke-width="2.8" stroke-linecap="round" fill="none"/>
<path d="M92.3 647.1h0" stroke="#384068" stroke-width="2.8" stroke-linecap="round" fill="none"/>
<path d="M136.7 607.3h0" stroke="#a08040" stroke-width="2.8" stroke-linecap="round" fill="none"/>
<path d="M117.2 613.4h0M119.2 611.6h0M109.3 607.5h0M117.4 609.8h0M114.8 608.6h0M120.9 615.1h0M119.2 614.2h0M117.0 609.6h0M115.4 612.6h0M114.7 612.8h0M113.1 608.3h0M115.5 609.7h0M120.9 613.2h0M116.2 611.5h0" stroke="#e8d040" stroke-width="1.8" stroke-linecap="round" fill="none"/>
<path d="M131.0 598.7h0M127.1 595.4h0M123.9 592.7h0M131.6 602.0h0M127.2 597.6h0M131.4 599.8h0M132.7 604.1h0M135.4 602.9h0M123.5 593.0h0M127.9 600.3h0" stroke="#e0b038" stroke-width="1.8" stroke-linecap="round" fill="none"/>
<path d="M104.5 623.5h0M100.9 614.0h0M100.8 613.2h0M112.1 623.8h0M107.3 620.9h0M108.3 622.3h0M104.3 617.0h0M108.0 625.9h0M103.5 621.9h0M108.8 625.5h0M110.1 625.7h0M104.7 620.8h0M111.1 627.8h0M100.7 613.4h0M107.9 621.9h0M102.4 615.8h0M105.4 623.6h0M101.8 615.8h0M107.9 622.4h0M104.3 620.3h0" stroke="#e0d040" stroke-width="1.8" stroke-linecap="round" fill="none"/>
<path d="M66.0 648.4h0M77.7 642.2h0M69.9 650.4h0M62.1 660.0h0M81.7 647.9h0M68.5 652.5h0M61.5 657.7h0M80.3 644.7h0M73.0 651.3h0M73.0 646.2h0M66.7 662.7h0M67.1 651.8h0M80.7 642.7h0M76.1 643.5h0M75.9 649.9h0M76.1 644.7h0M62.9 656.8h0M66.1 655.5h0M73.4 651.0h0M72.0 650.7h0M62.9 660.4h0M61.7 662.7h0M78.5 645.9h0M80.0 643.1h0M67.4 653.2h0M62.3 659.7h0M62.4 659.2h0M69.6 651.9h0M77.3 652.3h0M63.8 654.6h0M66.3 653.2h0M69.5 651.6h0M65.6 654.3h0M70.4 652.1h0M72.0 652.2h0M62.6 662.5h0M68.9 644.9h0M70.6 647.5h0M78.2 640.9h0M72.7 646.8h0M76.2 639.1h0M84.0 646.7h0M70.3 652.0h0M65.3 656.0h0M70.3 652.5h0M71.2 656.8h0M76.2 650.7h0M70.1 650.9h0M83.0 643.9h0M67.2 653.5h0M64.9 656.6h0M65.4 660.1h0M69.6 653.5h0M67.4 659.0h0M70.6 644.1h0M74.8 649.5h0M73.2 656.5h0M80.4 647.2h0M72.2 649.0h0M79.0 646.2h0M74.9 640.8h0M71.2 646.9h0M74.1 647.7h0M68.8 655.2h0M71.3 647.8h0M78.1 650.1h0M64.0 654.4h0M61.2 656.5h0M63.2 657.5h0M70.0 646.6h0M76.1 646.9h0M63.6 663.6h0M60.4 662.2h0M72.7 651.2h0M65.3 649.5h0M63.0 656.7h0M80.4 644.7h0M71.8 656.2h0M68.8 661.3h0M60.3 661.3h0M67.7 652.7h0M82.2 643.1h0M69.6 658.7h0M74.5 652.2h0M79.9 646.4h0M72.9 649.7h0M79.3 639.9h0M63.2 655.4h0M76.9 642.3h0" stroke="#3848a8" stroke-width="1.8" stroke-linecap="round" fill="none"/>
<path d="M156.1 568.0h0M152.5 566.4h0M151.7 567.0h0M161.5 576.6h0M158.8 572.2h0M164.6 574.9h0M156.8 570.1h0M161.4 572.8h0M158.6 570.1h0M154.8 571.5h0M157.4 572.8h0M163.2 576.0h0M157.9 572.3h0M161.5 572.6h0M154.9 569.9h0" stroke="#d86028" stroke-width="1.8" stroke-linecap="round" fill="none"/>
<path d="M158.2 575.5h0M154.0 575.3h0M151.9 570.9h0M154.4 574.8h0M154.8 576.5h0M151.3 568.6h0M154.0 573.2h0M162.2 580.9h0M155.9 574.5h0M155.4 574.8h0M149.3 570.1h0" stroke="#d86828" stroke-width="1.8" stroke-linecap="round" fill="none"/>
<path d="M210.6 526.2h0M198.5 537.3h0M198.4 536.5h0M200.8 532.6h0M193.0 536.0h0M208.6 527.0h0M201.2 532.3h0M204.0 534.3h0M195.4 535.0h0M195.0 538.5h0M208.7 529.2h0M208.0 527.6h0M203.9 531.3h0M206.5 528.2h0M211.3 525.8h0M206.0 532.0h0M209.9 527.0h0M211.8 523.9h0M197.0 539.9h0M194.9 540.3h0M200.1 538.9h0M193.8 537.8h0M193.7 539.4h0M202.0 533.4h0M196.6 538.4h0M208.3 529.3h0M203.2 535.7h0M206.9 530.0h0M202.5 534.8h0M207.2 528.3h0M197.4 540.9h0M210.6 525.7h0M195.2 537.8h0M207.3 529.8h0M204.3 533.1h0M200.4 533.5h0M209.7 526.6h0M195.6 537.5h0M202.5 536.1h0M203.4 534.6h0M196.5 539.9h0M205.0 533.2h0M205.9 528.5h0M203.6 532.4h0M209.9 527.8h0M197.5 538.1h0M204.6 533.9h0M202.2 532.6h0M199.2 537.9h0M209.4 527.5h0M210.4 526.9h0M197.9 537.7h0M200.1 536.0h0M198.4 541.0h0M203.5 533.3h0M203.7 530.8h0M207.8 530.2h0M203.7 535.3h0M209.8 526.3h0M204.9 530.8h0M208.1 528.5h0M197.3 539.6h0M197.0 534.2h0M192.9 537.7h0M209.4 526.4h0M201.2 536.5h0M198.4 535.5h0M201.2 533.9h0M197.1 541.3h0M205.9 528.8h0M211.4 525.7h0M203.0 532.8h0M202.2 534.5h0M192.8 536.0h0M202.8 534.5h0M207.8 530.2h0M205.6 529.8h0M206.5 530.1h0M208.8 526.6h0M194.4 534.6h0M211.3 526.0h0M204.0 530.8h0M209.1 526.6h0M208.6 527.7h0M201.8 533.3h0M212.0 524.4h0M206.7 529.5h0M205.8 530.6h0M203.5 532.4h0" stroke="#c02818" stroke-width="1.8" stroke-linecap="round" fill="none"/>
<path d="M138.7 597.7h0M137.1 597.5h0M136.9 594.5h0M132.4 594.5h0M139.3 598.3h0M127.8 588.3h0M135.4 593.5h0M135.4 593.0h0M140.5 600.3h0M133.3 592.4h0M138.9 599.4h0M132.4 590.7h0M135.2 596.7h0M137.3 595.9h0M134.7 593.0h0M133.9 593.1h0" stroke="#e0a038" stroke-width="1.8" stroke-linecap="round" fill="none"/>
<path d="M87.9 640.1h0M86.4 638.9h0M83.8 636.5h0" stroke="#586090" stroke-width="1.8" stroke-linecap="round" fill="none"/>
<path d="M97.5 625.5h0M102.7 630.1h0M100.0 622.7h0M99.0 620.1h0M93.3 619.1h0M106.0 627.7h0M99.2 621.6h0M100.7 622.8h0M108.3 629.5h0M98.5 619.7h0M98.0 627.9h0M101.7 630.9h0M99.7 623.4h0M96.6 622.9h0M102.6 624.3h0M101.9 621.5h0M102.7 627.0h0M102.5 626.9h0M101.9 631.5h0M100.6 628.3h0M95.0 625.6h0M104.5 632.4h0M99.8 627.5h0M98.0 622.7h0M106.2 632.4h0M98.8 625.8h0M100.1 624.1h0" stroke="#d8d040" stroke-width="1.8" stroke-linecap="round" fill="none"/>
<path d="M120.3 609.5h0M112.7 604.5h0M119.8 608.8h0M116.5 606.3h0M121.6 612.5h0M119.3 610.7h0M125.5 613.7h0M119.9 611.3h0M113.6 604.8h0M119.9 608.6h0" stroke="#e8c840" stroke-width="1.8" stroke-linecap="round" fill="none"/>
<path d="M195.1 545.3h0M193.7 543.0h0M189.1 543.6h0M194.5 546.1h0M194.3 542.8h0M191.3 546.0h0M194.0 540.8h0M196.3 546.1h0M194.3 540.9h0M191.3 542.8h0M192.8 543.5h0M190.1 543.9h0M189.8 545.2h0M192.7 542.1h0M194.9 543.0h0M194.1 544.7h0" stroke="#c02820" stroke-width="1.8" stroke-linecap="round" fill="none"/>
<path d="M95.3 630.7h0M96.5 628.0h0M90.0 624.1h0M94.8 630.8h0M95.9 630.7h0M101.6 632.1h0M95.4 626.1h0M96.1 628.0h0M90.3 621.5h0M96.1 629.8h0M99.0 632.9h0M93.0 628.0h0M97.3 631.9h0M94.8 626.1h0M100.0 632.3h0M96.3 631.7h0" stroke="#d8d048" stroke-width="1.8" stroke-linecap="round" fill="none"/>
<path d="M163.5 568.2h0M161.9 569.2h0M158.9 567.1h0M165.2 569.9h0M159.5 566.3h0M160.8 568.7h0M161.1 566.4h0M162.1 567.1h0M159.6 567.8h0M163.8 569.5h0M165.0 571.3h0M166.1 572.3h0M164.2 570.3h0" stroke="#d05828" stroke-width="1.8" stroke-linecap="round" fill="none"/>
<path d="M180.8 545.3h0M185.9 550.3h0M183.1 544.2h0M191.5 551.7h0M188.8 554.4h0M186.1 547.5h0M185.0 547.6h0M180.3 547.6h0M186.2 553.7h0M187.1 548.5h0M184.0 547.3h0M186.1 550.4h0M188.2 547.7h0M193.0 551.1h0M186.4 547.8h0M187.3 549.3h0M182.9 550.1h0M190.9 550.0h0M187.3 549.0h0M186.6 548.8h0M186.3 550.8h0M185.3 548.2h0M187.5 546.0h0M179.3 547.9h0M184.3 551.1h0M184.7 546.7h0M184.9 546.5h0M185.5 551.7h0" stroke="#c83020" stroke-width="1.8" stroke-linecap="round" fill="none"/>
<path d="M170.8 568.6h0M170.6 566.4h0M166.7 564.0h0M171.2 568.7h0M168.5 565.2h0M168.8 563.6h0M162.1 558.6h0M165.9 562.1h0M165.2 559.5h0M172.9 565.8h0M169.3 563.3h0M169.0 565.9h0M168.9 563.3h0M168.1 565.1h0M169.2 563.4h0M169.0 564.8h0M165.3 560.6h0M170.2 566.2h0M170.2 566.8h0M170.5 566.9h0M172.6 566.3h0M161.4 560.1h0M163.8 561.6h0" stroke="#d04820" stroke-width="1.8" stroke-linecap="round" fill="none"/>
<path d="M87.2 637.2h0" stroke="#707080" stroke-width="1.8" stroke-linecap="round" fill="none"/>
<path d="M86.7 628.4h0M98.4 639.1h0" stroke="#b8b058" stroke-width="1.8" stroke-linecap="round" fill="none"/>
<path d="M87.9 641.9h0M82.8 636.9h0M81.9 637.2h0M90.3 645.4h0M81.8 637.1h0M90.4 643.4h0M83.9 639.4h0M85.7 639.1h0M87.5 641.7h0" stroke="#505898" stroke-width="1.8" stroke-linecap="round" fill="none"/>
<path d="M146.5 586.8h0M150.1 587.7h0M142.4 582.0h0M143.3 579.9h0M147.5 588.0h0M142.1 577.6h0M149.0 586.3h0M140.7 581.2h0M152.8 588.0h0M153.3 588.8h0M145.1 585.1h0M143.6 584.1h0M146.3 585.6h0M141.3 582.3h0" stroke="#e08030" stroke-width="1.8" stroke-linecap="round" fill="none"/>
<path d="M180.6 554.9h0M180.0 555.5h0M174.7 550.7h0M182.9 551.7h0M181.8 550.9h0M178.4 553.1h0M176.5 554.6h0M177.2 557.6h0M180.1 560.5h0M186.1 557.5h0M181.5 557.7h0M174.4 553.8h0M179.4 551.1h0M182.3 552.2h0M182.2 557.0h0M180.3 551.7h0M181.1 552.3h0M180.3 558.2h0M176.1 556.0h0M180.0 559.6h0M183.1 555.9h0M179.2 556.8h0M182.6 553.5h0M180.0 550.8h0M178.8 549.8h0M183.4 554.7h0M182.1 555.5h0M179.0 557.3h0" stroke="#c83820" stroke-width="1.8" stroke-linecap="round" fill="none"/>
<path d="M189.1 546.6h0M187.3 543.9h0M190.5 547.4h0" stroke="#c03020" stroke-width="1.8" stroke-linecap="round" fill="none"/>
<path d="M139.6 591.8h0M140.7 594.9h0M131.4 584.7h0M136.0 590.5h0M138.6 592.9h0M135.7 589.2h0M140.4 593.4h0" stroke="#e09830" stroke-width="1.8" stroke-linecap="round" fill="none"/>
<path d="M94.3 638.6h0" stroke="#989868" stroke-width="1.8" stroke-linecap="round" fill="none"/>
<path d="M118.5 607.1h0M118.9 605.8h0M115.8 602.3h0M119.4 606.1h0M122.9 610.1h0M117.2 604.8h0M116.1 604.4h0M117.5 604.6h0M120.8 606.3h0M114.1 602.7h0" stroke="#e8c838" stroke-width="1.8" stroke-linecap="round" fill="none"/>
<path d="M126.8 608.9h0M124.1 605.6h0M118.3 602.1h0M115.3 597.8h0M116.0 598.6h0M118.6 600.5h0M125.2 608.6h0M128.1 612.2h0M120.4 602.7h0M118.9 599.7h0M127.1 608.4h0M118.9 599.8h0M119.4 602.9h0M123.4 605.1h0M121.0 603.8h0M122.5 602.2h0" stroke="#e8c038" stroke-width="1.8" stroke-linecap="round" fill="none"/>
<path d="M108.7 615.6h0M105.1 615.1h0M108.1 611.6h0M104.8 608.3h0M111.5 617.9h0M107.8 614.5h0M105.2 609.2h0M107.0 612.0h0M112.2 621.3h0M109.5 612.6h0M114.9 621.8h0M108.8 616.6h0M111.1 615.4h0M106.8 617.3h0M111.1 619.1h0M110.6 617.1h0M101.6 610.7h0M117.9 620.5h0M111.3 617.2h0M112.4 616.4h0M103.7 615.3h0M112.0 620.8h0M114.1 624.1h0M114.1 623.0h0M106.3 617.0h0" stroke="#e0d840" stroke-width="1.8" stroke-linecap="round" fill="none"/>
<path d="M113.1 614.5h0M111.1 613.6h0M113.2 615.5h0M111.9 613.7h0M107.2 609.8h0M118.1 618.7h0M114.2 615.2h0M113.7 612.1h0M113.3 614.6h0M113.7 612.2h0M113.1 613.2h0M110.4 610.4h0M115.7 615.0h0M116.0 615.5h0" stroke="#e8d840" stroke-width="1.8" stroke-linecap="round" fill="none"/>
<path d="M92.5 616.2h0M109.1 631.7h0M93.3 616.8h0" stroke="#c8c058" stroke-width="1.8" stroke-linecap="round" fill="none"/>
<path d="M175.6 560.9h0M178.9 562.5h0M171.6 553.4h0M176.0 558.4h0M175.6 559.9h0M177.4 560.7h0M174.3 557.1h0M178.5 560.1h0M173.4 558.0h0M175.0 556.1h0M172.2 557.9h0M172.5 557.9h0M177.5 561.6h0M174.6 556.4h0" stroke="#c84020" stroke-width="1.8" stroke-linecap="round" fill="none"/>
<path d="M203.9 537.0h0M202.3 539.0h0M197.7 531.2h0M199.8 530.4h0M209.4 529.3h0M210.7 524.1h0M198.6 531.0h0" stroke="#a03028" stroke-width="1.8" stroke-linecap="round" fill="none"/>
<path d="M146.5 581.4h0M148.9 582.9h0M145.7 579.7h0M152.5 586.0h0" stroke="#e07830" stroke-width="1.8" stroke-linecap="round" fill="none"/>
<path d="M148.1 592.9h0M140.9 583.2h0M138.4 585.2h0M145.1 590.6h0M141.1 586.9h0M149.9 590.7h0M148.1 589.0h0M146.3 587.7h0M141.7 588.2h0M147.7 593.7h0M140.3 585.6h0M141.9 586.3h0M141.3 585.3h0M144.0 586.2h0M145.9 588.0h0" stroke="#e08830" stroke-width="1.8" stroke-linecap="round" fill="none"/>
<path d="M86.8 637.2h0" stroke="#687088" stroke-width="1.8" stroke-linecap="round" fill="none"/>
<path d="M127.1 601.2h0M124.7 597.7h0M123.9 600.1h0M123.0 601.2h0M124.7 598.1h0M129.3 606.2h0M125.8 600.5h0M128.1 603.4h0M127.6 604.2h0M128.1 601.8h0M121.3 599.2h0M129.1 601.8h0M124.7 600.1h0M130.0 603.1h0" stroke="#e8b838" stroke-width="1.8" stroke-linecap="round" fill="none"/>
<path d="M131.6 597.5h0M130.1 593.2h0M132.1 596.3h0M132.1 594.6h0M127.5 593.8h0M129.9 595.9h0M135.6 601.7h0M130.4 597.0h0M126.6 589.9h0M132.3 596.3h0M127.3 595.0h0M128.3 594.5h0M134.6 600.1h0M130.3 596.4h0M128.3 592.2h0M134.9 600.5h0" stroke="#e0a838" stroke-width="1.8" stroke-linecap="round" fill="none"/>
<path d="M146.3 575.9h0M145.6 578.5h0M156.7 585.6h0M151.3 580.5h0M152.0 581.2h0M153.5 585.6h0M149.3 579.3h0" stroke="#d87830" stroke-width="1.8" stroke-linecap="round" fill="none"/>
<path d="M108.0 595.5h0" stroke="#c8b850" stroke-width="1.8" stroke-linecap="round" fill="none"/>
<path d="M108.0 591.3h0M129.3 611.9h0" stroke="#c8b050" stroke-width="1.8" stroke-linecap="round" fill="none"/>
<path d="M140.3 594.7h0M142.3 597.6h0M136.5 592.8h0M137.5 593.2h0M137.9 594.0h0M139.9 594.3h0M142.2 598.6h0M137.4 593.6h0M141.2 595.6h0M132.9 590.3h0M131.3 588.2h0" stroke="#e09838" stroke-width="1.8" stroke-linecap="round" fill="none"/>
<path d="M147.3 597.4h0M146.8 598.1h0" stroke="#c08848" stroke-width="1.8" stroke-linecap="round" fill="none"/>
<path d="M87.3 635.1h0M88.9 636.6h0M89.9 637.5h0" stroke="#808078" stroke-width="1.8" stroke-linecap="round" fill="none"/>
<path d="M87.8 626.5h0" stroke="#b8b858" stroke-width="1.8" stroke-linecap="round" fill="none"/>
<path d="M79.4 638.3h0M85.1 643.4h0" stroke="#4050a0" stroke-width="1.8" stroke-linecap="round" fill="none"/>
<path d="M161.9 565.5h0M167.4 571.0h0M158.6 563.0h0M161.6 562.4h0M159.1 560.1h0M163.4 564.8h0M165.6 569.5h0M168.5 570.0h0M160.4 561.5h0M158.2 561.4h0M164.5 568.9h0" stroke="#d05028" stroke-width="1.8" stroke-linecap="round" fill="none"/>
<path d="M104.6 635.2h0M101.9 639.4h0M110.8 637.8h0" stroke="#c0b858" stroke-width="1.8" stroke-linecap="round" fill="none"/>
<path d="M83.7 632.8h0" stroke="#787880" stroke-width="1.8" stroke-linecap="round" fill="none"/>
<path d="M173.5 565.7h0M169.4 556.1h0M169.7 560.8h0M168.2 560.2h0M165.6 556.7h0M175.6 565.4h0M173.4 564.7h0M169.4 560.5h0M172.0 560.3h0M166.9 553.6h0M169.0 560.1h0M176.0 564.2h0M174.6 563.5h0M166.0 555.4h0M173.5 562.7h0M171.2 562.2h0M172.6 564.3h0" stroke="#d04020" stroke-width="1.8" stroke-linecap="round" fill="none"/>
<path d="M85.4 642.5h0M78.4 636.2h0M82.8 640.6h0M82.6 640.1h0" stroke="#4850a0" stroke-width="1.8" stroke-linecap="round" fill="none"/>
<path d="M157.2 559.5h0M171.6 572.0h0" stroke="#b05030" stroke-width="1.8" stroke-linecap="round" fill="none"/>
<path d="M84.4 630.1h0" stroke="#909068" stroke-width="1.8" stroke-linecap="round" fill="none"/>
<path d="M85.0 631.6h0M86.9 633.5h0M89.0 635.5h0" stroke="#888870" stroke-width="1.8" stroke-linecap="round" fill="none"/>
<path d="M97.6 638.7h0" stroke="#b0b058" stroke-width="1.8" stroke-linecap="round" fill="none"/>
<path d="M159.6 569.7h0" stroke="#d85828" stroke-width="1.8" stroke-linecap="round" fill="none"/>
<path d="M88.6 644.0h0M80.6 637.5h0" stroke="#485098" stroke-width="1.8" stroke-linecap="round" fill="none"/>
<path d="M160.0 585.9h0M142.3 574.0h0" stroke="#b87040" stroke-width="1.8" stroke-linecap="round" fill="none"/>
<path d="M149.8 557.1h0M170.6 575.8h0" stroke="#b05830" stroke-width="1.8" stroke-linecap="round" fill="none"/>
<path d="M191.2 553.8h0M176.4 548.9h0M190.3 556.6h0M191.5 563.4h0" stroke="#a03828" stroke-width="1.8" stroke-linecap="round" fill="none"/>
<path d="M122.5 619.0h0M101.3 604.4h0M123.8 620.0h0M107.2 603.6h0M123.5 617.7h0" stroke="#d0c058" stroke-width="1.8" stroke-linecap="round" fill="none"/>
<path d="M96.6 639.4h0M87.0 631.0h0M93.2 636.4h0" stroke="#a0a060" stroke-width="1.8" stroke-linecap="round" fill="none"/>
<path d="M87.4 642.8h0M84.5 640.1h0" stroke="#485898" stroke-width="1.8" stroke-linecap="round" fill="none"/>
<path d="M83.7 642.5h0M82.3 641.5h0M82.4 641.5h0" stroke="#4048a0" stroke-width="1.8" stroke-linecap="round" fill="none"/>
<path d="M141.4 591.5h0M143.3 591.0h0M142.6 593.6h0M144.0 594.4h0M141.5 591.1h0M133.5 584.0h0M143.8 592.9h0M136.0 585.4h0M139.8 588.4h0M138.5 590.0h0M144.2 595.6h0M138.3 588.4h0M140.0 590.5h0M142.3 592.2h0" stroke="#e09030" stroke-width="1.8" stroke-linecap="round" fill="none"/>
<path d="M153.7 578.8h0M151.0 579.7h0M146.1 573.4h0M151.1 578.0h0M149.4 577.3h0M148.8 573.4h0M152.8 579.2h0M151.5 580.2h0M151.1 579.5h0M154.8 581.5h0M148.4 576.3h0M157.5 580.2h0M158.5 583.7h0M155.7 583.5h0M152.3 578.1h0" stroke="#d87030" stroke-width="1.8" stroke-linecap="round" fill="none"/>
<path d="M91.5 642.6h0" stroke="#606888" stroke-width="1.8" stroke-linecap="round" fill="none"/>
<path d="M92.3 652.3h0" stroke="#384088" stroke-width="1.8" stroke-linecap="round" fill="none"/>
<path d="M121.6 588.7h0M136.7 607.3h0" stroke="#c8a048" stroke-width="1.8" stroke-linecap="round" fill="none"/>
<path d="M132.0 580.6h0" stroke="#c08840" stroke-width="1.8" stroke-linecap="round" fill="none"/>
<path d="M157.5 591.8h0" stroke="#b87840" stroke-width="1.8" stroke-linecap="round" fill="none"/>
<path d="M94.5 644.5h0" stroke="#606078" stroke-width="1.8" stroke-linecap="round" fill="none"/>
<path d="M164.0 563.4h0M161.1 561.5h0M167.1 567.0h0M165.7 564.7h0M162.0 561.8h0" stroke="#d05020" stroke-width="1.8" stroke-linecap="round" fill="none"/>
<path d="M89.2 640.8h0" stroke="#606090" stroke-width="1.8" stroke-linecap="round" fill="none"/>
<path d="M163.9 553.8h0" stroke="#a84830" stroke-width="1.8" stroke-linecap="round" fill="none"/>
<path d="M148.2 570.9h0" stroke="#d86830" stroke-width="1.8" stroke-linecap="round" fill="none"/>
<path d="M167.8 550.8h0M186.6 572.4h0M183.7 563.0h0M185.9 567.2h0" stroke="#a84028" stroke-width="1.8" stroke-linecap="round" fill="none"/>
<path d="M90.4 643.1h0" stroke="#585890" stroke-width="1.8" stroke-linecap="round" fill="none"/>
<path d="M95.6 635.4h0" stroke="#c0b850" stroke-width="1.8" stroke-linecap="round" fill="none"/>
<path d="M98.5 646.6h0" stroke="#707070" stroke-width="1.8" stroke-linecap="round" fill="none"/>
<path d="M139.6 611.6h0" stroke="#c8a848" stroke-width="1.8" stroke-linecap="round" fill="none"/>
<path d="M75.8 636.3h0" stroke="#384888" stroke-width="1.8" stroke-linecap="round" fill="none"/>
<path d="M134.9 612.6h0" stroke="#c8a850" stroke-width="1.8" stroke-linecap="round" fill="none"/>
<path d="M92.6 640.7h0" stroke="#787878" stroke-width="1.8" stroke-linecap="round" fill="none"/>
<path d="M94.7 636.5h0" stroke="#b0a858" stroke-width="1.8" stroke-linecap="round" fill="none"/>
<path d="M135.7 579.9h0M134.9 578.4h0" stroke="#c08040" stroke-width="1.8" stroke-linecap="round" fill="none"/>
<path d="M175.2 586.6h0" stroke="#b06038" stroke-width="1.8" stroke-linecap="round" fill="none"/>
<path d="M88.2 635.3h0" stroke="#808070" stroke-width="1.8" stroke-linecap="round" fill="none"/>
<path d="M82.6 642.6h0" stroke="#3848a0" stroke-width="1.8" stroke-linecap="round" fill="none"/>
<path d="M93.4 634.1h0" stroke="#b8b850" stroke-width="1.8" stroke-linecap="round" fill="none"/>
<path d="M146.1 570.5h0" stroke="#b86838" stroke-width="1.8" stroke-linecap="round" fill="none"/>
<path d="M81.6 631.8h0M95.9 645.0h0" stroke="#686878" stroke-width="1.8" stroke-linecap="round" fill="none"/>
<path d="M92.3 647.1h0" stroke="#485080" stroke-width="1.8" stroke-linecap="round" fill="none"/>
<path d="M94.8 632.7h0" stroke="#d0c848" stroke-width="1.8" stroke-linecap="round" fill="none"/>
<path d="M143.2 576.9h0M152.2 583.2h0M145.1 578.1h0M152.9 583.2h0M151.5 581.6h0M146.3 581.8h0M141.6 576.9h0M148.7 583.0h0M147.3 575.8h0M145.1 580.0h0M149.6 581.8h0M146.3 575.0h0M147.4 583.0h0M145.9 576.2h0M148.3 582.0h0M147.7 581.9h0M147.2 580.5h0M157.2 586.2h0M147.5 580.4h0M155.1 582.9h0M151.0 581.2h0M146.7 580.2h0M145.1 574.5h0M150.0 580.1h0M149.9 584.0h0" stroke="#b06028" stroke-width="2.8" stroke-linecap="round" fill="none"/>
<path d="M68.0 652.7h0M79.9 649.5h0M82.0 646.3h0M73.0 652.9h0M75.8 644.1h0M83.5 646.2h0M69.7 650.7h0M73.9 650.7h0M64.4 657.2h0M71.1 647.8h0M76.0 648.5h0M77.0 650.6h0M76.3 639.5h0M66.4 653.2h0M69.0 648.9h0M71.7 646.1h0M68.0 656.9h0M72.3 646.6h0M82.2 643.0h0M77.2 653.3h0M68.6 656.4h0M64.2 655.8h0M69.8 652.0h0M74.5 646.8h0M69.0 658.7h0M69.5 658.6h0M83.0 646.6h0M78.1 639.4h0M80.0 642.4h0M66.1 652.6h0M73.1 652.6h0M80.6 648.0h0M69.3 660.3h0M68.4 656.2h0M73.2 648.9h0M77.0 644.9h0M77.9 640.8h0M85.7 645.6h0M67.3 648.6h0M77.4 653.4h0M64.5 657.2h0M77.7 648.7h0M71.3 647.1h0M77.2 644.4h0M68.1 654.2h0M66.6 655.2h0M81.9 649.4h0M78.9 640.5h0M65.0 651.9h0M72.9 645.6h0M73.7 653.3h0M80.5 642.8h0M69.1 657.8h0M65.0 657.3h0M73.2 646.7h0M64.4 656.6h0M72.3 656.6h0M73.8 642.3h0M71.8 653.7h0M66.7 656.7h0M67.2 657.8h0M65.9 650.7h0M77.9 645.2h0M64.3 656.0h0M79.0 642.2h0M70.7 645.8h0M77.9 643.1h0M75.6 639.8h0M73.0 650.9h0M75.6 642.8h0M71.0 649.7h0M78.3 645.8h0M71.4 651.6h0M75.2 646.8h0M74.3 645.1h0M71.1 646.6h0M71.1 647.9h0M74.5 652.1h0M68.4 656.2h0" stroke="#303880" stroke-width="2.8" stroke-linecap="round" fill="none"/>
<path d="M187.4 548.5h0M191.0 551.2h0M185.6 550.8h0M183.2 554.0h0M188.7 549.3h0M185.4 545.1h0M185.8 550.0h0M184.3 549.1h0M184.5 550.5h0M186.3 552.4h0M189.7 547.7h0M182.7 551.4h0M177.2 549.1h0M182.8 555.2h0M187.2 547.4h0M187.2 548.0h0M184.2 549.7h0M187.7 548.7h0M189.9 550.0h0M185.9 547.3h0M186.9 548.3h0M188.8 546.6h0M188.0 546.7h0M181.8 548.7h0M180.6 550.0h0M178.0 549.9h0M186.9 547.1h0M183.7 554.5h0M184.2 549.8h0M181.2 550.9h0" stroke="#a02818" stroke-width="2.8" stroke-linecap="round" fill="none"/>
<path d="M124.7 593.7h0M134.9 597.8h0M132.9 597.3h0M128.1 591.5h0M130.7 596.8h0M129.7 598.5h0M134.4 598.4h0M129.5 593.4h0M127.1 594.4h0M130.6 598.8h0M131.4 597.2h0M130.6 596.9h0M132.7 598.8h0M128.8 596.3h0M131.1 597.6h0M132.0 597.9h0M128.0 597.1h0M129.9 596.2h0M124.2 593.9h0M130.4 597.4h0M136.2 601.6h0M134.7 600.4h0M131.2 594.8h0M128.8 596.8h0M134.1 600.1h0M123.0 591.6h0M133.3 596.5h0M126.6 595.5h0" stroke="#b88828" stroke-width="2.8" stroke-linecap="round" fill="none"/>
<path d="M61.8 661.2h0M60.3 659.2h0M63.1 659.2h0M61.1 657.3h0M62.4 663.6h0M61.5 660.8h0M63.7 662.6h0M64.4 661.9h0M61.4 657.5h0M65.1 659.1h0M66.5 662.3h0M65.7 661.3h0M62.2 657.6h0M62.4 662.4h0M62.4 662.4h0M61.0 658.2h0M62.3 660.0h0M63.1 662.2h0" stroke="#303888" stroke-width="2.8" stroke-linecap="round" fill="none"/>
<path d="M160.2 576.0h0M160.6 575.1h0M158.7 571.9h0M158.6 574.2h0" stroke="#a85020" stroke-width="2.8" stroke-linecap="round" fill="none"/>
<path d="M131.4 585.0h0M144.0 594.0h0M139.7 593.0h0M139.9 593.9h0M138.4 593.3h0M135.2 589.6h0M145.1 597.5h0M135.7 587.2h0M141.9 592.9h0M140.2 594.2h0M133.6 588.8h0M140.7 592.8h0M142.9 595.5h0" stroke="#b07828" stroke-width="2.8" stroke-linecap="round" fill="none"/>
<path d="M116.0 617.3h0M118.0 618.3h0M109.7 611.2h0" stroke="#b8b030" stroke-width="2.8" stroke-linecap="round" fill="none"/>
<path d="M205.4 532.0h0M201.9 536.2h0M212.1 525.3h0M198.5 532.3h0M200.8 532.2h0M210.9 524.5h0M200.1 531.5h0M207.3 529.3h0M202.3 533.1h0M203.4 532.6h0M205.9 528.3h0M197.2 542.1h0M211.0 525.3h0M212.1 524.2h0M203.4 532.5h0M205.8 532.8h0M210.3 525.8h0M197.5 539.9h0M203.1 533.4h0M198.3 532.8h0M204.5 528.8h0M211.4 524.3h0M201.2 536.8h0M200.5 536.8h0M209.1 528.7h0M202.8 532.2h0M203.9 532.1h0M195.1 538.9h0M208.7 528.6h0M209.7 527.2h0M206.0 530.9h0M196.8 536.2h0M204.8 532.6h0M198.6 535.7h0M193.9 536.7h0M207.4 529.7h0M205.9 530.4h0M199.7 531.8h0M211.8 524.2h0M204.6 530.9h0M203.0 531.8h0M197.9 531.5h0M210.7 524.4h0M205.4 531.9h0M208.3 528.7h0M197.3 542.0h0M208.6 526.5h0M197.0 538.2h0M207.8 527.2h0M196.5 537.0h0M205.2 528.7h0M206.1 532.0h0M203.7 533.9h0M196.6 532.9h0M196.0 540.5h0M200.6 530.6h0M206.6 529.8h0M203.5 534.0h0M208.5 528.9h0M211.6 526.0h0M204.9 529.9h0M200.5 532.9h0M204.6 532.2h0M207.9 528.2h0M207.5 527.1h0M207.4 529.4h0M207.7 527.8h0M203.7 530.1h0M193.7 536.9h0M205.5 531.1h0M206.7 529.8h0M209.3 528.1h0" stroke="#982018" stroke-width="2.8" stroke-linecap="round" fill="none"/>
<path d="M96.5 629.0h0M98.3 629.0h0M94.2 624.6h0M95.4 627.1h0M102.7 635.1h0M95.4 625.9h0M96.8 629.2h0M100.0 632.4h0M92.9 623.3h0M91.5 624.2h0M102.1 631.6h0M101.1 632.7h0M93.8 625.8h0" stroke="#a8a838" stroke-width="2.8" stroke-linecap="round" fill="none"/>
<path d="M162.9 592.9h0" stroke="#985830" stroke-width="2.8" stroke-linecap="round" fill="none"/>
<path d="M113.6 618.3h0M113.7 611.7h0M108.1 614.6h0M110.2 613.4h0M115.0 614.6h0M114.9 611.5h0M110.7 604.4h0M117.8 621.9h0M105.5 609.5h0M109.8 605.0h0M115.2 611.7h0M114.2 610.9h0M117.8 610.7h0M105.8 609.9h0M116.3 610.6h0M115.4 614.1h0M113.7 620.3h0M108.8 613.7h0M110.3 615.0h0M116.2 613.5h0M109.4 606.1h0M115.2 613.0h0M118.7 615.1h0M108.9 617.9h0M117.7 612.9h0M113.4 613.5h0M121.8 616.6h0M113.3 615.8h0M107.8 614.5h0M112.2 610.0h0M115.5 615.2h0M107.9 613.8h0M110.1 612.6h0M109.9 615.4h0M113.0 610.1h0M114.3 618.2h0M116.7 614.1h0M115.5 614.8h0" stroke="#b8a830" stroke-width="2.8" stroke-linecap="round" fill="none"/>
<path d="M151.6 578.6h0M155.6 583.0h0M153.4 581.0h0M152.0 578.8h0M155.1 582.1h0M153.3 579.8h0M155.2 581.3h0M148.1 575.1h0M148.4 575.5h0M149.9 577.7h0" stroke="#b05828" stroke-width="2.8" stroke-linecap="round" fill="none"/>
<path d="M134.6 612.2h0M115.8 593.3h0" stroke="#a08840" stroke-width="2.8" stroke-linecap="round" fill="none"/>
<path d="M82.9 630.8h0" stroke="#606058" stroke-width="2.8" stroke-linecap="round" fill="none"/>
<path d="M175.0 556.4h0M172.9 558.7h0M178.4 560.4h0M173.5 556.3h0M180.6 560.8h0M174.4 561.7h0M177.0 561.8h0M174.5 558.1h0M177.5 557.0h0M174.2 558.8h0M180.6 555.1h0M178.0 553.6h0M176.0 560.0h0M179.4 555.2h0M184.0 558.7h0M170.1 557.8h0M173.3 558.1h0M179.8 553.4h0M181.9 555.1h0M179.1 560.6h0M174.8 555.2h0M176.7 559.9h0M177.5 557.6h0M178.9 555.0h0M172.5 558.7h0M180.9 561.4h0M173.3 560.7h0M171.8 560.1h0M177.2 558.0h0M181.7 556.4h0M177.8 564.3h0M179.1 559.2h0M179.4 560.4h0M176.9 558.4h0M174.7 559.3h0" stroke="#a03018" stroke-width="2.8" stroke-linecap="round" fill="none"/>
<path d="M140.7 575.7h0" stroke="#986030" stroke-width="2.8" stroke-linecap="round" fill="none"/>
<path d="M168.1 570.8h0M165.7 565.0h0M163.1 563.5h0M160.4 562.7h0M167.7 566.1h0M166.1 565.1h0M170.2 570.8h0M165.7 564.1h0M166.9 567.1h0M160.4 563.2h0M166.8 569.7h0M170.7 569.7h0M160.2 562.8h0M160.8 563.1h0M167.8 570.4h0" stroke="#a84020" stroke-width="2.8" stroke-linecap="round" fill="none"/>
<path d="M127.6 601.0h0M119.4 594.0h0M130.3 606.1h0M123.0 599.8h0M131.8 607.2h0M131.5 604.0h0M128.0 603.5h0M123.5 599.8h0M129.4 603.4h0M123.1 597.0h0M123.0 599.0h0M129.3 602.2h0M127.3 599.6h0M129.6 604.1h0M120.2 595.0h0" stroke="#b89030" stroke-width="2.8" stroke-linecap="round" fill="none"/>
<path d="M171.0 561.9h0M170.0 561.8h0M166.4 561.9h0M173.0 563.5h0M173.3 565.0h0M173.7 566.8h0M168.7 565.0h0M171.8 562.6h0M169.9 562.9h0M171.4 568.4h0M175.2 567.7h0M174.6 568.2h0M165.8 556.8h0M169.7 565.2h0M172.7 568.0h0M171.4 562.5h0M171.8 562.7h0M168.9 562.2h0M165.3 561.9h0M166.9 559.2h0M164.6 562.2h0M169.1 566.0h0M169.5 566.5h0M173.2 565.4h0M172.8 566.2h0M165.9 559.7h0M165.7 556.4h0" stroke="#a83818" stroke-width="2.8" stroke-linecap="round" fill="none"/>
<path d="M141.2 582.5h0M147.3 584.1h0M149.2 586.9h0M140.9 582.7h0M142.1 582.3h0M140.1 581.4h0M143.8 585.1h0M145.7 585.9h0M151.6 589.9h0M138.7 579.5h0M148.1 584.4h0M145.8 582.3h0M147.3 586.0h0" stroke="#b06828" stroke-width="2.8" stroke-linecap="round" fill="none"/>
<path d="M192.8 556.2h0M193.1 553.0h0M193.5 554.5h0M195.3 548.5h0M193.9 551.8h0M192.4 532.6h0M201.5 529.8h0M192.6 554.9h0M207.4 526.7h0M190.7 554.5h0" stroke="#802820" stroke-width="2.8" stroke-linecap="round" fill="none"/>
<path d="M85.6 640.8h0" stroke="#404078" stroke-width="2.8" stroke-linecap="round" fill="none"/>
<path d="M166.3 585.1h0M164.1 583.0h0M162.1 582.7h0M149.1 565.9h0M165.5 585.3h0M163.0 581.8h0" stroke="#905030" stroke-width="2.8" stroke-linecap="round" fill="none"/>
<path d="M108.3 618.8h0M99.0 625.9h0M97.7 621.0h0M99.0 622.5h0M95.4 624.8h0M99.4 615.9h0M101.5 622.3h0M94.2 620.3h0M104.0 617.2h0M101.7 622.8h0M101.0 622.8h0M104.7 628.1h0M97.5 616.0h0M98.2 617.9h0M100.2 617.4h0M102.4 625.6h0M98.5 617.8h0M105.7 616.5h0M103.7 624.6h0M104.7 629.0h0M111.7 623.0h0M107.4 631.7h0M102.4 629.3h0M105.4 621.7h0M99.3 619.1h0M98.0 618.4h0M102.0 618.8h0M97.3 624.0h0M103.7 620.4h0M104.1 617.8h0M99.1 622.4h0M103.1 618.1h0M102.1 624.4h0M98.8 627.8h0M99.5 620.4h0M103.5 625.5h0M99.1 627.6h0M107.7 618.4h0M105.2 622.7h0M100.2 619.3h0M95.7 622.7h0M102.4 613.8h0M106.1 624.1h0M95.6 619.6h0M102.3 621.2h0M101.9 624.5h0M102.8 618.9h0M107.3 619.8h0M109.2 620.0h0M102.6 618.9h0M108.4 623.3h0M97.6 615.7h0M114.2 623.6h0" stroke="#b0a838" stroke-width="2.8" stroke-linecap="round" fill="none"/>
<path d="M121.0 609.6h0M116.0 606.5h0M124.0 609.1h0M119.7 605.9h0M110.4 601.8h0M118.6 606.6h0M121.4 611.4h0M113.8 602.9h0M119.7 607.3h0M121.4 606.5h0M114.4 606.9h0M116.7 605.5h0M122.6 608.9h0M116.4 607.8h0M121.3 609.5h0M116.6 606.5h0M113.9 599.7h0M124.2 614.7h0" stroke="#b8a030" stroke-width="2.8" stroke-linecap="round" fill="none"/>
<path d="M191.6 539.0h0M192.5 541.4h0M187.1 544.4h0M194.0 540.4h0M192.9 541.0h0M190.6 544.4h0M191.3 544.7h0M191.6 546.9h0M193.8 543.9h0M190.2 546.1h0M192.0 543.7h0M190.1 537.7h0M188.6 544.1h0M188.5 540.4h0M188.9 543.9h0M190.7 546.3h0M192.8 544.5h0M194.6 544.2h0M186.9 544.0h0M189.2 541.9h0M186.9 539.5h0M192.1 542.7h0M193.9 545.7h0M194.2 544.7h0M195.4 543.2h0M197.6 544.4h0M192.9 550.2h0M192.2 542.2h0M196.5 541.8h0M194.4 540.6h0M189.7 538.7h0M189.5 542.8h0" stroke="#a02018" stroke-width="2.8" stroke-linecap="round" fill="none"/>
<path d="M93.5 633.7h0M98.7 638.5h0" stroke="#989040" stroke-width="2.8" stroke-linecap="round" fill="none"/>
<path d="M103.3 607.9h0M112.0 628.5h0M101.3 605.4h0M100.0 610.9h0" stroke="#a09848" stroke-width="2.8" stroke-linecap="round" fill="none"/>
<path d="M94.1 643.4h0M89.8 639.3h0M87.0 637.0h0" stroke="#585868" stroke-width="2.8" stroke-linecap="round" fill="none"/>
<path d="M92.5 640.2h0" stroke="#606860" stroke-width="2.8" stroke-linecap="round" fill="none"/>
<path d="M186.1 566.9h0M168.4 549.2h0" stroke="#883020" stroke-width="2.8" stroke-linecap="round" fill="none"/>
<path d="M134.9 595.6h0M140.0 598.1h0M134.4 597.0h0M133.7 593.9h0M137.7 596.3h0M131.9 588.8h0M130.1 589.7h0M131.3 590.8h0M137.5 597.7h0M137.7 596.5h0M133.9 590.7h0M139.0 601.4h0M131.4 588.5h0M131.9 593.0h0M133.7 592.4h0M134.8 591.5h0M133.4 594.8h0M132.2 592.5h0M133.2 590.8h0M133.0 594.8h0" stroke="#b88028" stroke-width="2.8" stroke-linecap="round" fill="none"/>
<path d="M92.2 628.5h0M95.8 634.1h0M96.5 634.1h0M94.5 631.7h0M100.3 635.4h0M92.4 630.6h0M88.6 624.8h0M91.8 625.6h0M93.1 628.6h0M91.0 629.0h0M89.0 626.5h0" stroke="#a8a038" stroke-width="2.8" stroke-linecap="round" fill="none"/>
<path d="M173.1 541.4h0M196.0 568.2h0M175.4 548.8h0M173.6 544.0h0" stroke="#803020" stroke-width="2.8" stroke-linecap="round" fill="none"/>
<path d="M162.5 554.9h0M181.5 571.9h0M181.2 566.2h0M163.4 554.3h0M182.6 568.7h0" stroke="#883820" stroke-width="2.8" stroke-linecap="round" fill="none"/>
<path d="M161.3 573.9h0M166.3 574.3h0M157.1 565.0h0M158.8 570.7h0M163.3 573.7h0M162.2 574.7h0M161.8 572.7h0M157.7 566.0h0M163.1 575.3h0M162.7 573.4h0M165.6 575.2h0M165.4 577.0h0M161.2 569.7h0M159.1 569.4h0M165.9 576.8h0M161.3 573.7h0M164.6 573.0h0" stroke="#a84820" stroke-width="2.8" stroke-linecap="round" fill="none"/>
<path d="M86.0 631.6h0" stroke="#787058" stroke-width="2.8" stroke-linecap="round" fill="none"/>
<path d="M88.9 619.8h0M107.0 639.2h0M104.9 634.7h0" stroke="#989848" stroke-width="2.8" stroke-linecap="round" fill="none"/>
<path d="M111.6 595.2h0M105.5 594.2h0M129.1 614.8h0" stroke="#a09040" stroke-width="2.8" stroke-linecap="round" fill="none"/>
<path d="M93.5 651.1h0M85.5 647.9h0M72.3 659.7h0M73.7 639.3h0" stroke="#303868" stroke-width="2.8" stroke-linecap="round" fill="none"/>
<path d="M145.1 593.9h0M144.6 588.5h0M142.4 591.0h0M142.7 589.9h0M140.2 586.7h0M145.7 593.4h0M139.1 584.9h0M136.6 585.6h0M140.7 590.0h0M148.2 592.5h0M142.7 589.0h0M143.5 588.0h0M140.6 584.7h0M143.5 587.1h0M143.5 592.2h0M141.1 587.7h0M148.6 593.7h0M139.7 586.0h0M140.7 585.0h0M142.2 588.9h0M142.7 587.5h0" stroke="#b07028" stroke-width="2.8" stroke-linecap="round" fill="none"/>
<path d="M85.0 637.5h0" stroke="#484870" stroke-width="2.8" stroke-linecap="round" fill="none"/>
<path d="M88.9 630.4h0" stroke="#909048" stroke-width="2.8" stroke-linecap="round" fill="none"/>
<path d="M154.8 571.9h0M154.5 574.2h0M158.1 577.2h0M154.3 574.5h0M153.8 573.8h0M153.6 571.6h0M155.1 574.5h0M161.6 578.9h0M151.2 569.7h0M160.4 578.1h0M156.1 574.3h0M151.4 571.5h0" stroke="#b05020" stroke-width="2.8" stroke-linecap="round" fill="none"/>
<path d="M126.4 606.0h0M129.1 611.5h0M123.6 605.7h0M123.7 602.7h0M125.2 606.7h0M117.3 597.1h0M125.4 605.7h0M131.1 608.9h0M124.6 604.2h0M120.5 602.4h0M123.0 600.3h0M119.0 602.2h0M126.2 603.3h0M127.1 607.8h0M126.3 603.5h0M126.1 606.5h0" stroke="#b89830" stroke-width="2.8" stroke-linecap="round" fill="none"/>
<path d="M90.1 636.2h0M90.8 637.2h0" stroke="#707058" stroke-width="2.8" stroke-linecap="round" fill="none"/>
<path d="M87.3 631.4h0M89.8 633.1h0" stroke="#808050" stroke-width="2.8" stroke-linecap="round" fill="none"/>
<path d="M84.0 637.1h0M92.4 644.8h0M86.4 639.2h0M86.5 639.1h0M82.5 635.5h0M91.5 643.7h0" stroke="#484878" stroke-width="2.8" stroke-linecap="round" fill="none"/>
<path d="M173.5 562.4h0M168.8 558.4h0" stroke="#a03818" stroke-width="2.8" stroke-linecap="round" fill="none"/>
<path d="M89.7 645.9h0M81.5 639.2h0M83.8 640.2h0M83.5 642.1h0M87.4 645.6h0M79.6 636.9h0M81.9 639.0h0" stroke="#384080" stroke-width="2.8" stroke-linecap="round" fill="none"/>
<path d="M87.8 632.3h0M90.8 635.5h0M90.2 634.5h0" stroke="#787850" stroke-width="2.8" stroke-linecap="round" fill="none"/>
<path d="M133.1 578.4h0M150.4 597.2h0M135.5 577.9h0" stroke="#986838" stroke-width="2.8" stroke-linecap="round" fill="none"/>
<path d="M155.1 575.6h0M155.1 575.6h0M153.5 577.2h0M156.3 579.5h0M149.7 572.8h0M155.2 575.8h0M156.5 578.0h0M148.4 571.9h0" stroke="#b05820" stroke-width="2.8" stroke-linecap="round" fill="none"/>
<path d="M84.4 628.8h0" stroke="#707050" stroke-width="2.8" stroke-linecap="round" fill="none"/>
<path d="M93.0 635.3h0M90.0 632.2h0" stroke="#888848" stroke-width="2.8" stroke-linecap="round" fill="none"/>
<path d="M87.4 639.2h0M84.0 636.0h0" stroke="#485070" stroke-width="2.8" stroke-linecap="round" fill="none"/>
<path d="M110.5 619.5h0M100.7 610.6h0M104.3 614.0h0" stroke="#b0a830" stroke-width="2.8" stroke-linecap="round" fill="none"/>
<path d="M131.1 602.4h0M127.1 598.4h0M127.1 597.6h0M124.0 595.9h0" stroke="#b89028" stroke-width="2.8" stroke-linecap="round" fill="none"/>
<path d="M148.3 600.4h0M127.8 584.6h0M146.8 599.2h0M145.8 601.2h0" stroke="#987038" stroke-width="2.8" stroke-linecap="round" fill="none"/>
<path d="M87.2 636.3h0" stroke="#606068" stroke-width="2.8" stroke-linecap="round" fill="none"/>
<path d="M143.1 569.8h0M144.0 568.5h0" stroke="#905830" stroke-width="2.8" stroke-linecap="round" fill="none"/>
<path d="M88.2 636.7h0" stroke="#606060" stroke-width="2.8" stroke-linecap="round" fill="none"/>
<path d="M133.8 590.4h0M134.5 590.9h0M133.8 590.1h0" stroke="#b87828" stroke-width="2.8" stroke-linecap="round" fill="none"/>
<path d="M154.0 562.7h0M168.0 574.6h0" stroke="#904828" stroke-width="2.8" stroke-linecap="round" fill="none"/>
<path d="M92.1 643.0h0M85.2 636.6h0" stroke="#505070" stroke-width="2.8" stroke-linecap="round" fill="none"/>
<path d="M93.2 633.0h0" stroke="#989840" stroke-width="2.8" stroke-linecap="round" fill="none"/>
<path d="M90.8 635.8h0" stroke="#787858" stroke-width="2.8" stroke-linecap="round" fill="none"/>
<path d="M89.0 643.8h0" stroke="#404878" stroke-width="2.8" stroke-linecap="round" fill="none"/>
<path d="M121.0 588.1h0M121.9 590.6h0" stroke="#a08038" stroke-width="2.8" stroke-linecap="round" fill="none"/>
<path d="M84.8 632.4h0" stroke="#686860" stroke-width="2.8" stroke-linecap="round" fill="none"/>
<path d="M107.1 604.3h0M95.1 634.2h0M91.3 630.8h0" stroke="#a09840" stroke-width="2.8" stroke-linecap="round" fill="none"/>
<path d="M143.4 601.1h0M143.7 601.2h0M122.3 584.4h0" stroke="#a07838" stroke-width="2.8" stroke-linecap="round" fill="none"/>
<path d="M80.3 639.2h0" stroke="#304080" stroke-width="2.8" stroke-linecap="round" fill="none"/>
<path d="M91.8 647.4h0" stroke="#384068" stroke-width="2.8" stroke-linecap="round" fill="none"/>
<path d="M93.2 645.6h0" stroke="#404068" stroke-width="2.8" stroke-linecap="round" fill="none"/>
<path d="M143.2 576.9h0M148.7 583.0h0M145.1 580.0h0M148.3 582.0h0M147.7 581.9h0M146.7 580.2h0M149.9 584.0h0" stroke="#e07830" stroke-width="1.8" stroke-linecap="round" fill="none"/>
<path d="M68.0 652.7h0M61.8 661.2h0M79.9 649.5h0M82.0 646.3h0M73.0 652.9h0M60.3 659.2h0M75.8 644.1h0M83.5 646.2h0M69.7 650.7h0M73.9 650.7h0M64.4 657.2h0M71.1 647.8h0M76.0 648.5h0M77.0 650.6h0M63.1 659.2h0M76.3 639.5h0M66.4 653.2h0M69.0 648.9h0M71.7 646.1h0M68.0 656.9h0M72.3 646.6h0M82.2 643.0h0M77.2 653.3h0M68.6 656.4h0M64.2 655.8h0M69.8 652.0h0M61.1 657.3h0M74.5 646.8h0M69.0 658.7h0M69.5 658.6h0M83.0 646.6h0M78.1 639.4h0M80.0 642.4h0M66.1 652.6h0M73.1 652.6h0M80.6 648.0h0M69.3 660.3h0M68.4 656.2h0M73.2 648.9h0M77.0 644.9h0M77.9 640.8h0M62.4 663.6h0M61.5 660.8h0M63.7 662.6h0M67.3 648.6h0M64.4 661.9h0M77.4 653.4h0M64.5 657.2h0M77.7 648.7h0M71.3 647.1h0M77.2 644.4h0M61.4 657.5h0M68.1 654.2h0M66.6 655.2h0M65.1 659.1h0M81.9 649.4h0M78.9 640.5h0M65.0 651.9h0M72.9 645.6h0M73.7 653.3h0M80.5 642.8h0M69.1 657.8h0M65.0 657.3h0M73.2 646.7h0M64.4 656.6h0M72.3 656.6h0M73.8 642.3h0M66.5 662.3h0M71.8 653.7h0M65.7 661.3h0M62.2 657.6h0M66.7 656.7h0M67.2 657.8h0M65.9 650.7h0M77.9 645.2h0M62.4 662.4h0M64.3 656.0h0M62.4 662.4h0M79.0 642.2h0M61.0 658.2h0M62.3 660.0h0M70.7 645.8h0M77.9 643.1h0M75.6 639.8h0M73.0 650.9h0M75.6 642.8h0M71.0 649.7h0M78.3 645.8h0M71.4 651.6h0M75.2 646.8h0M74.3 645.1h0M71.1 646.6h0M71.1 647.9h0M74.5 652.1h0M68.4 656.2h0M63.1 662.2h0" stroke="#3848a8" stroke-width="1.8" stroke-linecap="round" fill="none"/>
<path d="M187.4 548.5h0M191.0 551.2h0M185.6 550.8h0M188.7 549.3h0M185.4 545.1h0M185.8 550.0h0M184.3 549.1h0M184.5 550.5h0M186.3 552.4h0M189.7 547.7h0M187.2 547.4h0M187.2 548.0h0M184.2 549.7h0M187.7 548.7h0M189.9 550.0h0M185.9 547.3h0M186.9 548.3h0M188.8 546.6h0M188.0 546.7h0M181.8 548.7h0M186.9 547.1h0M184.2 549.8h0" stroke="#c83020" stroke-width="1.8" stroke-linecap="round" fill="none"/>
<path d="M124.7 593.7h0M129.7 598.5h0M131.1 602.4h0M127.1 598.4h0M130.6 598.8h0M127.1 597.6h0M128.0 597.1h0M124.2 593.9h0M127.3 599.6h0M128.8 596.8h0M124.0 595.9h0M123.0 591.6h0M126.6 595.5h0" stroke="#e0b038" stroke-width="1.8" stroke-linecap="round" fill="none"/>
<path d="M160.2 576.0h0M160.6 575.1h0M161.3 573.9h0M158.8 570.7h0M163.3 573.7h0M162.2 574.7h0M158.7 571.9h0M161.8 572.7h0M163.1 575.3h0M162.7 573.4h0M158.6 574.2h0M165.4 577.0h0M165.9 576.8h0M161.3 573.7h0" stroke="#d86028" stroke-width="1.8" stroke-linecap="round" fill="none"/>
<path d="M131.4 585.0h0M139.7 593.0h0M139.9 593.9h0M135.2 589.6h0M145.1 597.5h0M140.2 594.2h0M140.7 592.8h0M142.9 595.5h0" stroke="#e09830" stroke-width="1.8" stroke-linecap="round" fill="none"/>
<path d="M116.0 617.3h0M115.0 614.6h0M115.4 614.1h0M118.0 618.3h0M113.4 613.5h0M113.3 615.8h0M115.5 615.2h0M110.1 612.6h0M109.7 611.2h0M115.5 614.8h0" stroke="#e8d840" stroke-width="1.8" stroke-linecap="round" fill="none"/>
<path d="M205.4 532.0h0M201.9 536.2h0M212.1 525.3h0M198.5 532.3h0M200.8 532.2h0M210.9 524.5h0M200.1 531.5h0M207.3 529.3h0M202.3 533.1h0M203.4 532.6h0M205.9 528.3h0M197.2 542.1h0M211.0 525.3h0M212.1 524.2h0M203.4 532.5h0M205.8 532.8h0M210.3 525.8h0M197.5 539.9h0M203.1 533.4h0M198.3 532.8h0M204.5 528.8h0M211.4 524.3h0M201.2 536.8h0M200.5 536.8h0M209.1 528.7h0M202.8 532.2h0M203.9 532.1h0M195.1 538.9h0M208.7 528.6h0M209.7 527.2h0M206.0 530.9h0M196.8 536.2h0M204.8 532.6h0M198.6 535.7h0M193.9 536.7h0M207.4 529.7h0M205.9 530.4h0M199.7 531.8h0M211.8 524.2h0M204.6 530.9h0M203.0 531.8h0M197.9 531.5h0M210.7 524.4h0M205.4 531.9h0M208.3 528.7h0M197.3 542.0h0M208.6 526.5h0M197.0 538.2h0M207.8 527.2h0M196.5 537.0h0M205.2 528.7h0M206.1 532.0h0M203.7 533.9h0M196.6 532.9h0M196.0 540.5h0M200.6 530.6h0M206.6 529.8h0M196.5 541.8h0M203.5 534.0h0M208.5 528.9h0M211.6 526.0h0M204.9 529.9h0M200.5 532.9h0M204.6 532.2h0M207.9 528.2h0M207.5 527.1h0M207.4 529.4h0M207.7 527.8h0M203.7 530.1h0M193.7 536.9h0M205.5 531.1h0M206.7 529.8h0M209.3 528.1h0" stroke="#c02818" stroke-width="1.8" stroke-linecap="round" fill="none"/>
<path d="M96.5 629.0h0M98.3 629.0h0M95.4 627.1h0M102.7 635.1h0M96.8 629.2h0M100.0 632.4h0M100.3 635.4h0M91.5 624.2h0M88.6 624.8h0M91.8 625.6h0M101.1 632.7h0M93.1 628.6h0M93.8 625.8h0" stroke="#d8d048" stroke-width="1.8" stroke-linecap="round" fill="none"/>
<path d="M162.9 592.9h0" stroke="#b87040" stroke-width="1.8" stroke-linecap="round" fill="none"/>
<path d="M113.6 618.3h0M108.3 618.8h0M108.1 614.6h0M110.2 613.4h0M117.8 621.9h0M105.5 609.5h0M105.7 616.5h0M110.5 619.5h0M105.8 609.9h0M113.7 620.3h0M108.8 613.7h0M110.3 615.0h0M100.7 610.6h0M108.9 617.9h0M107.8 614.5h0M107.7 618.4h0M107.9 613.8h0M104.3 614.0h0M102.4 613.8h0M109.9 615.4h0M114.3 618.2h0M109.2 620.0h0M114.2 623.6h0" stroke="#e0d840" stroke-width="1.8" stroke-linecap="round" fill="none"/>
<path d="M151.6 578.6h0M155.6 583.0h0M153.4 581.0h0M152.0 578.8h0M147.3 575.8h0M155.1 582.1h0M146.3 575.0h0M153.5 577.2h0M153.3 579.8h0M155.2 581.3h0M148.1 575.1h0M156.3 579.5h0M149.7 572.8h0M155.1 582.9h0M148.4 575.5h0M149.9 577.7h0M148.4 571.9h0" stroke="#d87030" stroke-width="1.8" stroke-linecap="round" fill="none"/>
<path d="M134.6 612.2h0M115.8 593.3h0" stroke="#c8a850" stroke-width="1.8" stroke-linecap="round" fill="none"/>
<path d="M134.9 597.8h0M132.9 597.3h0M128.1 591.5h0M130.7 596.8h0M134.4 597.0h0M134.4 598.4h0M129.5 593.4h0M127.1 594.4h0M131.4 597.2h0M130.6 596.9h0M132.7 598.8h0M128.8 596.3h0M131.1 597.6h0M132.0 597.9h0M139.0 601.4h0M129.9 596.2h0M130.4 597.4h0M136.2 601.6h0M134.7 600.4h0M131.2 594.8h0M134.1 600.1h0M133.3 596.5h0" stroke="#e0a838" stroke-width="1.8" stroke-linecap="round" fill="none"/>
<path d="M82.9 630.8h0" stroke="#787870" stroke-width="1.8" stroke-linecap="round" fill="none"/>
<path d="M175.0 556.4h0M172.9 558.7h0M178.4 560.4h0M173.5 556.3h0M177.0 561.8h0M174.5 558.1h0M174.2 558.8h0M176.0 560.0h0M173.3 558.1h0M179.1 560.6h0M176.7 559.9h0M180.9 561.4h0M177.2 558.0h0M179.4 560.4h0M176.9 558.4h0M174.7 559.3h0" stroke="#c84020" stroke-width="1.8" stroke-linecap="round" fill="none"/>
<path d="M140.7 575.7h0" stroke="#b87840" stroke-width="1.8" stroke-linecap="round" fill="none"/>
<path d="M168.1 570.8h0M163.1 563.5h0M160.4 562.7h0M170.2 570.8h0M166.9 567.1h0M160.4 563.2h0M166.8 569.7h0M160.2 562.8h0M160.8 563.1h0M167.8 570.4h0" stroke="#d05028" stroke-width="1.8" stroke-linecap="round" fill="none"/>
<path d="M127.6 601.0h0M119.4 594.0h0M130.3 606.1h0M123.0 599.8h0M123.7 602.7h0M131.1 608.9h0M123.0 600.3h0M126.2 603.3h0M131.8 607.2h0M131.5 604.0h0M128.0 603.5h0M123.5 599.8h0M129.4 603.4h0M123.1 597.0h0M126.3 603.5h0M123.0 599.0h0M129.3 602.2h0M129.6 604.1h0M120.2 595.0h0" stroke="#e8b838" stroke-width="1.8" stroke-linecap="round" fill="none"/>
<path d="M171.0 561.9h0M170.0 561.8h0M173.5 562.4h0M174.4 561.7h0M173.0 563.5h0M173.3 565.0h0M171.8 562.6h0M165.8 556.8h0M170.1 557.8h0M171.4 562.5h0M171.8 562.7h0M166.9 559.2h0M168.8 558.4h0M172.5 558.7h0M173.3 560.7h0M171.8 560.1h0M173.2 565.4h0M177.8 564.3h0M165.7 556.4h0" stroke="#d04020" stroke-width="1.8" stroke-linecap="round" fill="none"/>
<path d="M141.2 582.5h0M144.6 588.5h0M140.9 582.7h0M140.2 586.7h0M139.1 584.9h0M143.8 585.1h0M148.2 592.5h0M142.7 589.0h0M143.5 588.0h0M140.6 584.7h0M143.5 587.1h0M141.1 587.7h0M148.6 593.7h0M139.7 586.0h0M140.7 585.0h0M142.7 587.5h0" stroke="#e08830" stroke-width="1.8" stroke-linecap="round" fill="none"/>
<path d="M192.8 556.2h0M173.1 541.4h0M193.5 554.5h0M196.0 568.2h0M175.4 548.8h0M192.6 554.9h0M173.6 544.0h0M190.7 554.5h0" stroke="#a03828" stroke-width="1.8" stroke-linecap="round" fill="none"/>
<path d="M85.6 640.8h0M89.0 643.8h0" stroke="#505898" stroke-width="1.8" stroke-linecap="round" fill="none"/>
<path d="M166.3 585.1h0M164.1 583.0h0M162.1 582.7h0M144.0 568.5h0M165.5 585.3h0M163.0 581.8h0" stroke="#b86838" stroke-width="1.8" stroke-linecap="round" fill="none"/>
<path d="M121.0 609.6h0M116.0 606.5h0M110.4 601.8h0M121.4 611.4h0M113.8 602.9h0M116.7 605.5h0M116.4 607.8h0M116.6 606.5h0M124.2 614.7h0" stroke="#e8c840" stroke-width="1.8" stroke-linecap="round" fill="none"/>
<path d="M191.6 539.0h0M192.5 541.4h0M194.0 540.4h0M192.9 541.0h0M190.6 544.4h0M191.3 544.7h0M191.6 546.9h0M193.8 543.9h0M190.2 546.1h0M192.0 543.7h0M190.1 537.7h0M188.6 544.1h0M188.5 540.4h0M188.9 543.9h0M190.7 546.3h0M192.8 544.5h0M194.6 544.2h0M189.2 541.9h0M186.9 539.5h0M192.1 542.7h0M193.9 545.7h0M194.2 544.7h0M195.4 543.2h0M197.6 544.4h0M192.2 542.2h0M194.4 540.6h0M189.7 538.7h0M189.5 542.8h0" stroke="#c02820" stroke-width="1.8" stroke-linecap="round" fill="none"/>
<path d="M93.5 633.7h0M98.7 638.5h0M93.2 633.0h0" stroke="#c0b850" stroke-width="1.8" stroke-linecap="round" fill="none"/>
<path d="M103.3 607.9h0M112.0 628.5h0M100.0 610.9h0" stroke="#c8c058" stroke-width="1.8" stroke-linecap="round" fill="none"/>
<path d="M99.0 625.9h0M97.7 621.0h0M99.0 622.5h0M95.4 624.8h0M101.5 622.3h0M94.2 620.3h0M94.2 624.6h0M101.7 622.8h0M101.0 622.8h0M104.7 628.1h0M95.4 625.9h0M102.4 625.6h0M103.7 624.6h0M104.7 629.0h0M107.4 631.7h0M102.4 629.3h0M92.9 623.3h0M99.3 619.1h0M98.0 618.4h0M97.3 624.0h0M99.1 622.4h0M102.1 631.6h0M102.1 624.4h0M98.8 627.8h0M99.5 620.4h0M103.5 625.5h0M99.1 627.6h0M95.7 622.7h0M95.6 619.6h0M101.9 624.5h0" stroke="#d8d040" stroke-width="1.8" stroke-linecap="round" fill="none"/>
<path d="M94.1 643.4h0M89.8 639.3h0M87.0 637.0h0" stroke="#707080" stroke-width="1.8" stroke-linecap="round" fill="none"/>
<path d="M92.5 640.2h0" stroke="#788078" stroke-width="1.8" stroke-linecap="round" fill="none"/>
<path d="M152.2 583.2h0M145.1 578.1h0M152.9 583.2h0M151.5 581.6h0M149.6 581.8h0M145.9 576.2h0M147.2 580.5h0M157.2 586.2h0M147.5 580.4h0M151.0 581.2h0M145.1 574.5h0M150.0 580.1h0" stroke="#d87830" stroke-width="1.8" stroke-linecap="round" fill="none"/>
<path d="M186.1 566.9h0M181.2 566.2h0M182.6 568.7h0M168.4 549.2h0" stroke="#a84028" stroke-width="1.8" stroke-linecap="round" fill="none"/>
<path d="M113.7 611.7h0M114.9 611.5h0M110.7 604.4h0M109.8 605.0h0M115.2 611.7h0M114.2 610.9h0M114.4 606.9h0M117.8 610.7h0M116.3 610.6h0M116.2 613.5h0M109.4 606.1h0M115.2 613.0h0M118.7 615.1h0M117.7 612.9h0M121.8 616.6h0M112.2 610.0h0M113.0 610.1h0M116.7 614.1h0" stroke="#e8d040" stroke-width="1.8" stroke-linecap="round" fill="none"/>
<path d="M99.4 615.9h0M104.0 617.2h0M97.5 616.0h0M98.2 617.9h0M100.2 617.4h0M98.5 617.8h0M111.7 623.0h0M105.4 621.7h0M102.0 618.8h0M103.7 620.4h0M104.1 617.8h0M103.1 618.1h0M105.2 622.7h0M100.2 619.3h0M106.1 624.1h0M102.3 621.2h0M102.8 618.9h0M107.3 619.8h0M102.6 618.9h0M108.4 623.3h0M97.6 615.7h0" stroke="#e0d040" stroke-width="1.8" stroke-linecap="round" fill="none"/>
<path d="M134.9 595.6h0M140.0 598.1h0M133.7 593.9h0M137.7 596.3h0M130.1 589.7h0M131.3 590.8h0M137.5 597.7h0M137.7 596.5h0M131.9 593.0h0M133.7 592.4h0M133.4 594.8h0M132.2 592.5h0M133.2 590.8h0M133.0 594.8h0" stroke="#e0a038" stroke-width="1.8" stroke-linecap="round" fill="none"/>
<path d="M92.2 628.5h0" stroke="#d0d048" stroke-width="1.8" stroke-linecap="round" fill="none"/>
<path d="M162.5 554.9h0M181.5 571.9h0M163.4 554.3h0" stroke="#a84830" stroke-width="1.8" stroke-linecap="round" fill="none"/>
<path d="M165.7 565.0h0M166.1 565.1h0M170.7 569.7h0" stroke="#d05020" stroke-width="1.8" stroke-linecap="round" fill="none"/>
<path d="M86.0 631.6h0M84.4 628.8h0M90.8 635.8h0" stroke="#909068" stroke-width="1.8" stroke-linecap="round" fill="none"/>
<path d="M88.9 619.8h0M107.0 639.2h0M104.9 634.7h0" stroke="#c0b858" stroke-width="1.8" stroke-linecap="round" fill="none"/>
<path d="M111.6 595.2h0" stroke="#c8b050" stroke-width="1.8" stroke-linecap="round" fill="none"/>
<path d="M93.5 651.1h0" stroke="#404880" stroke-width="1.8" stroke-linecap="round" fill="none"/>
<path d="M145.1 593.9h0M142.4 591.0h0M142.7 589.9h0M144.0 594.0h0M145.7 593.4h0M136.6 585.6h0M140.7 590.0h0M135.7 587.2h0M141.9 592.9h0M143.5 592.2h0M142.2 588.9h0" stroke="#e09030" stroke-width="1.8" stroke-linecap="round" fill="none"/>
<path d="M85.0 637.5h0M92.4 644.8h0M86.4 639.2h0M86.5 639.1h0M82.5 635.5h0M91.5 643.7h0" stroke="#586090" stroke-width="1.8" stroke-linecap="round" fill="none"/>
<path d="M88.9 630.4h0" stroke="#b8b058" stroke-width="1.8" stroke-linecap="round" fill="none"/>
<path d="M154.8 571.9h0M155.1 575.6h0M154.5 574.2h0M155.1 575.6h0M158.1 577.2h0M154.3 574.5h0M153.8 573.8h0M153.6 571.6h0M155.1 574.5h0M161.6 578.9h0M151.2 569.7h0M160.4 578.1h0M156.1 574.3h0M155.2 575.8h0M151.4 571.5h0M156.5 578.0h0" stroke="#d86828" stroke-width="1.8" stroke-linecap="round" fill="none"/>
<path d="M126.4 606.0h0M129.1 611.5h0M124.0 609.1h0M123.6 605.7h0M125.2 606.7h0M117.3 597.1h0M125.4 605.7h0M121.4 606.5h0M124.6 604.2h0M120.5 602.4h0M119.0 602.2h0M127.1 607.8h0M113.9 599.7h0M126.1 606.5h0" stroke="#e8c038" stroke-width="1.8" stroke-linecap="round" fill="none"/>
<path d="M166.3 574.3h0M157.1 565.0h0M157.7 566.0h0M161.2 569.7h0" stroke="#d05828" stroke-width="1.8" stroke-linecap="round" fill="none"/>
<path d="M90.1 636.2h0M90.8 637.2h0" stroke="#888870" stroke-width="1.8" stroke-linecap="round" fill="none"/>
<path d="M193.1 553.0h0M195.3 548.5h0M193.9 551.8h0M192.4 532.6h0M201.5 529.8h0M207.4 526.7h0" stroke="#a03028" stroke-width="1.8" stroke-linecap="round" fill="none"/>
<path d="M87.3 631.4h0M89.8 633.1h0" stroke="#a0a060" stroke-width="1.8" stroke-linecap="round" fill="none"/>
<path d="M166.4 561.9h0M173.7 566.8h0M168.7 565.0h0M169.9 562.9h0M171.4 568.4h0M175.2 567.7h0M174.6 568.2h0M167.7 566.1h0M169.7 565.2h0M165.7 564.1h0M172.7 568.0h0M168.9 562.2h0M165.3 561.9h0M164.6 562.2h0M169.1 566.0h0M169.5 566.5h0M172.8 566.2h0M165.9 559.7h0" stroke="#d04820" stroke-width="1.8" stroke-linecap="round" fill="none"/>
<path d="M84.0 637.1h0" stroke="#585890" stroke-width="1.8" stroke-linecap="round" fill="none"/>
<path d="M147.3 584.1h0M149.2 586.9h0M146.3 581.8h0M141.6 576.9h0M142.1 582.3h0M140.1 581.4h0M145.7 585.9h0M147.4 583.0h0M151.6 589.9h0M138.7 579.5h0M148.1 584.4h0M145.8 582.3h0M147.3 586.0h0" stroke="#e08030" stroke-width="1.8" stroke-linecap="round" fill="none"/>
<path d="M180.6 560.8h0M183.2 554.0h0M177.5 557.0h0M180.6 555.1h0M178.0 553.6h0M179.4 555.2h0M184.0 558.7h0M182.7 551.4h0M179.8 553.4h0M177.2 549.1h0M181.9 555.1h0M182.8 555.2h0M174.8 555.2h0M177.5 557.6h0M178.9 555.0h0M181.7 556.4h0M179.1 559.2h0M180.6 550.0h0M178.0 549.9h0M183.7 554.5h0M181.2 550.9h0" stroke="#c83820" stroke-width="1.8" stroke-linecap="round" fill="none"/>
<path d="M119.7 605.9h0M118.6 606.6h0M119.7 607.3h0M122.6 608.9h0M121.3 609.5h0" stroke="#e8c838" stroke-width="1.8" stroke-linecap="round" fill="none"/>
<path d="M89.7 645.9h0M83.8 640.2h0" stroke="#485098" stroke-width="1.8" stroke-linecap="round" fill="none"/>
<path d="M87.8 632.3h0M90.8 635.5h0M90.2 634.5h0" stroke="#989868" stroke-width="1.8" stroke-linecap="round" fill="none"/>
<path d="M133.1 578.4h0M135.5 577.9h0" stroke="#c08040" stroke-width="1.8" stroke-linecap="round" fill="none"/>
<path d="M187.1 544.4h0M186.9 544.0h0M192.9 550.2h0" stroke="#c03020" stroke-width="1.8" stroke-linecap="round" fill="none"/>
<path d="M95.8 634.1h0M96.5 634.1h0M94.5 631.7h0M92.4 630.6h0M91.0 629.0h0M89.0 626.5h0" stroke="#d0c848" stroke-width="1.8" stroke-linecap="round" fill="none"/>
<path d="M85.5 647.9h0M72.3 659.7h0M73.7 639.3h0" stroke="#384088" stroke-width="1.8" stroke-linecap="round" fill="none"/>
<path d="M93.0 635.3h0" stroke="#a8a860" stroke-width="1.8" stroke-linecap="round" fill="none"/>
<path d="M87.4 639.2h0M84.0 636.0h0" stroke="#606090" stroke-width="1.8" stroke-linecap="round" fill="none"/>
<path d="M148.3 600.4h0M146.8 599.2h0" stroke="#c08848" stroke-width="1.8" stroke-linecap="round" fill="none"/>
<path d="M131.9 588.8h0M133.8 590.4h0M138.4 593.3h0M133.9 590.7h0M131.4 588.5h0M134.8 591.5h0M134.5 590.9h0M133.6 588.8h0M133.8 590.1h0" stroke="#e09838" stroke-width="1.8" stroke-linecap="round" fill="none"/>
<path d="M87.2 636.3h0" stroke="#787880" stroke-width="1.8" stroke-linecap="round" fill="none"/>
<path d="M143.1 569.8h0" stroke="#b87038" stroke-width="1.8" stroke-linecap="round" fill="none"/>
<path d="M88.2 636.7h0" stroke="#787878" stroke-width="1.8" stroke-linecap="round" fill="none"/>
<path d="M149.1 565.9h0" stroke="#b86038" stroke-width="1.8" stroke-linecap="round" fill="none"/>
<path d="M154.0 562.7h0" stroke="#b05838" stroke-width="1.8" stroke-linecap="round" fill="none"/>
<path d="M150.4 597.2h0" stroke="#c08840" stroke-width="1.8" stroke-linecap="round" fill="none"/>
<path d="M92.1 643.0h0M85.2 636.6h0" stroke="#606888" stroke-width="1.8" stroke-linecap="round" fill="none"/>
<path d="M168.0 574.6h0" stroke="#b05830" stroke-width="1.8" stroke-linecap="round" fill="none"/>
<path d="M105.5 594.2h0M129.1 614.8h0" stroke="#c8b850" stroke-width="1.8" stroke-linecap="round" fill="none"/>
<path d="M85.7 645.6h0" stroke="#3848a0" stroke-width="1.8" stroke-linecap="round" fill="none"/>
<path d="M101.3 605.4h0M107.1 604.3h0" stroke="#d0c058" stroke-width="1.8" stroke-linecap="round" fill="none"/>
<path d="M121.0 588.1h0M121.9 590.6h0" stroke="#c8a048" stroke-width="1.8" stroke-linecap="round" fill="none"/>
<path d="M127.8 584.6h0M143.4 601.1h0M143.7 601.2h0M145.8 601.2h0" stroke="#c09048" stroke-width="1.8" stroke-linecap="round" fill="none"/>
<path d="M81.5 639.2h0M79.6 636.9h0M81.9 639.0h0" stroke="#4850a0" stroke-width="1.8" stroke-linecap="round" fill="none"/>
<path d="M84.8 632.4h0" stroke="#808078" stroke-width="1.8" stroke-linecap="round" fill="none"/>
<path d="M95.1 634.2h0M91.3 630.8h0" stroke="#c8c050" stroke-width="1.8" stroke-linecap="round" fill="none"/>
<path d="M83.5 642.1h0M87.4 645.6h0M80.3 639.2h0" stroke="#4050a0" stroke-width="1.8" stroke-linecap="round" fill="none"/>
<path d="M165.6 575.2h0M159.1 569.4h0M164.6 573.0h0" stroke="#d85828" stroke-width="1.8" stroke-linecap="round" fill="none"/>
<path d="M90.0 632.2h0" stroke="#b0a858" stroke-width="1.8" stroke-linecap="round" fill="none"/>
<path d="M122.3 584.4h0" stroke="#c89848" stroke-width="1.8" stroke-linecap="round" fill="none"/>
<path d="M91.8 647.4h0" stroke="#485080" stroke-width="1.8" stroke-linecap="round" fill="none"/>
<path d="M93.2 645.6h0" stroke="#505880" stroke-width="1.8" stroke-linecap="round" fill="none"/>
<path d="M97.2 626.3h0M111.5 621.3h0M95.9 620.7h0M101.6 624.1h0M99.3 617.7h0M100.9 626.5h0M98.9 620.5h0M99.3 618.5h0M104.8 625.8h0M105.2 633.4h0M104.0 616.0h0M107.3 621.5h0M101.7 628.8h0M107.2 619.3h0M100.0 619.2h0M107.8 621.8h0M104.7 621.9h0M104.5 616.8h0M96.3 624.6h0M105.1 630.2h0M99.4 625.9h0M98.7 625.2h0M105.8 622.4h0M107.7 620.1h0M97.8 620.0h0M101.5 629.7h0M99.2 622.9h0M101.3 626.4h0M100.4 618.5h0M98.4 621.4h0M107.1 617.3h0M112.4 623.7h0M100.1 624.1h0M101.4 612.4h0M105.2 621.2h0M102.9 619.5h0M98.3 627.9h0M97.7 627.2h0M98.9 616.9h0M110.7 627.9h0" stroke="#b0a838" stroke-width="2.8" stroke-linecap="round" fill="none"/>
<path d="M72.1 657.6h0M77.2 642.8h0M68.0 652.6h0M76.1 643.0h0M68.4 649.8h0M79.0 647.6h0M71.5 652.0h0M69.5 657.7h0M67.3 659.2h0M69.4 656.7h0M70.9 652.4h0M69.6 648.8h0M74.5 641.8h0M71.7 657.9h0M77.8 648.3h0M66.1 656.2h0M66.8 656.4h0M77.0 644.7h0M72.4 649.9h0M76.2 651.9h0M70.7 653.4h0M73.3 652.5h0M78.9 653.2h0M74.5 646.0h0M77.2 648.8h0M78.0 644.9h0M71.5 652.6h0M70.6 652.6h0M82.4 643.3h0M76.6 641.3h0M73.8 647.4h0M77.9 650.6h0M72.9 643.0h0M77.2 646.4h0M70.5 658.5h0M80.5 644.1h0M69.0 652.3h0M74.5 644.8h0M71.8 651.4h0M69.8 650.9h0M71.7 657.3h0M72.1 652.3h0M61.7 654.7h0M72.5 654.1h0M79.6 641.8h0M79.0 643.8h0M68.4 652.6h0M63.6 654.9h0M65.9 649.6h0M78.9 639.6h0M64.1 655.4h0M72.1 650.7h0M62.3 656.1h0M70.0 646.0h0M76.3 650.6h0M74.0 652.5h0M71.2 651.0h0M79.3 643.3h0M65.4 658.4h0M79.5 649.0h0M71.6 642.7h0M66.1 653.9h0M71.4 650.8h0M77.8 648.0h0M73.3 655.2h0M79.6 646.3h0M65.5 653.1h0M71.8 649.1h0M76.2 645.9h0M73.7 645.5h0M69.7 654.0h0M62.1 655.1h0M72.6 645.6h0M72.5 656.8h0M74.9 643.8h0M77.4 639.1h0M65.7 658.2h0M66.2 654.3h0M84.0 646.4h0M71.7 644.7h0M65.9 656.4h0M64.7 650.9h0M75.4 651.1h0M73.7 650.6h0M66.1 652.6h0M70.9 648.1h0M78.0 646.6h0M77.1 646.1h0M71.1 646.0h0M67.5 659.9h0M73.5 651.0h0" stroke="#303880" stroke-width="2.8" stroke-linecap="round" fill="none"/>
<path d="M121.3 605.8h0M119.8 602.9h0M118.1 596.1h0M120.1 603.9h0M124.6 604.9h0M126.5 607.9h0M120.9 600.0h0M126.6 608.7h0M125.8 608.6h0M125.1 603.7h0M126.8 607.6h0M127.3 604.3h0M120.4 601.4h0M126.7 606.0h0" stroke="#b89830" stroke-width="2.8" stroke-linecap="round" fill="none"/>
<path d="M183.8 543.7h0M181.1 552.6h0M186.2 557.3h0M181.9 549.0h0M187.0 548.6h0M185.8 547.1h0M182.0 551.7h0M189.4 549.0h0M186.3 546.6h0M187.1 549.6h0M188.2 550.7h0M187.7 552.9h0M184.6 552.8h0M186.4 550.2h0M188.5 549.1h0M182.6 545.7h0M182.8 553.1h0M179.9 552.4h0M184.3 546.9h0M177.4 549.7h0M185.1 557.6h0M188.5 550.4h0M184.6 545.9h0M186.4 546.4h0M182.2 549.1h0M188.0 548.6h0M186.9 556.1h0M187.7 549.5h0M184.3 548.1h0M184.6 548.3h0M184.4 552.3h0M188.6 547.1h0" stroke="#a02818" stroke-width="2.8" stroke-linecap="round" fill="none"/>
<path d="M128.0 588.6h0M142.0 600.4h0M128.1 591.0h0M128.5 586.9h0M135.4 593.5h0M131.7 594.5h0M137.3 597.9h0M130.3 591.0h0M133.5 596.0h0M136.1 597.2h0M139.8 601.3h0M138.5 597.5h0M134.5 591.6h0M134.1 592.9h0M136.0 597.7h0M137.2 597.7h0M137.8 595.4h0M135.8 596.9h0M134.6 593.6h0M129.4 591.4h0" stroke="#b88028" stroke-width="2.8" stroke-linecap="round" fill="none"/>
<path d="M192.7 536.7h0M208.7 526.9h0M203.1 532.3h0M195.0 535.0h0M209.1 528.0h0M199.5 538.7h0M211.2 525.1h0M207.4 528.7h0M205.9 529.4h0M194.2 538.8h0M210.8 525.6h0M202.3 535.9h0M208.2 527.6h0M208.6 529.4h0M203.3 532.9h0M200.2 534.6h0M198.5 540.1h0M199.7 536.7h0M200.2 536.1h0M209.7 527.3h0M206.7 527.7h0M199.4 539.8h0M205.1 532.2h0M200.6 538.3h0M198.6 541.4h0M203.1 531.5h0M205.1 531.1h0M198.1 536.7h0M205.6 530.0h0M204.8 531.3h0M210.4 525.6h0M209.4 527.7h0M210.7 526.2h0M209.8 526.8h0M204.7 529.3h0M199.2 533.6h0M209.4 527.3h0M205.9 531.4h0M208.7 527.7h0M197.0 540.4h0M200.3 534.3h0M201.7 538.6h0M200.4 540.0h0M202.6 535.9h0M200.1 534.6h0M199.1 536.0h0M211.4 526.2h0M203.8 535.3h0M209.6 527.4h0M205.1 531.4h0M204.2 534.1h0M202.9 533.6h0M206.8 530.1h0M211.3 525.0h0M197.8 542.1h0M198.0 539.0h0M201.9 532.2h0M199.5 536.0h0M210.5 525.8h0M196.7 538.8h0M210.8 527.3h0M203.6 535.2h0M198.7 532.8h0M211.7 524.5h0M207.8 529.1h0M193.0 537.9h0M210.2 525.9h0M207.1 528.6h0M211.7 525.7h0M199.0 535.2h0M209.3 527.6h0M201.1 537.2h0M208.6 527.1h0M210.5 526.2h0M197.4 539.0h0M206.8 529.9h0M202.6 530.9h0M200.7 534.5h0M198.1 537.3h0M207.0 528.9h0M207.3 528.0h0M207.7 529.7h0M203.2 536.1h0M210.7 525.0h0M195.2 536.7h0M209.2 526.9h0M202.7 530.3h0M209.2 528.1h0M200.4 533.5h0M201.5 535.3h0M194.0 533.8h0M210.9 526.0h0" stroke="#982018" stroke-width="2.8" stroke-linecap="round" fill="none"/>
<path d="M142.2 581.7h0M149.8 592.0h0M147.7 584.6h0M145.5 582.3h0M150.3 592.5h0M147.4 590.2h0M148.3 589.3h0M150.4 587.4h0M146.5 584.8h0M139.3 579.9h0M146.3 584.4h0M150.0 586.9h0M143.8 585.6h0M141.8 584.6h0M140.8 580.0h0M146.5 588.4h0M142.2 582.0h0" stroke="#b06828" stroke-width="2.8" stroke-linecap="round" fill="none"/>
<path d="M181.7 558.7h0M176.1 554.5h0M177.2 556.4h0M177.6 554.7h0M177.5 560.3h0M178.7 553.5h0M183.2 558.3h0M173.4 556.7h0M175.8 563.8h0M183.1 557.1h0M175.3 558.8h0M177.6 553.2h0M175.4 558.7h0M181.1 561.4h0M177.9 558.0h0M178.4 559.9h0M178.6 552.6h0M179.5 559.8h0M171.6 556.6h0M179.2 557.2h0M174.6 553.5h0M169.9 558.4h0M175.8 558.6h0M174.4 555.5h0M174.8 562.0h0M175.8 560.9h0M179.1 552.4h0M175.9 563.7h0M183.4 560.1h0M179.8 558.0h0M181.5 555.0h0M176.8 556.2h0M181.4 556.0h0M172.5 557.4h0M179.6 562.2h0M172.4 558.0h0M180.0 553.6h0M180.8 555.3h0M178.5 560.0h0" stroke="#a03018" stroke-width="2.8" stroke-linecap="round" fill="none"/>
<path d="M195.5 543.9h0M192.0 542.5h0M191.1 544.2h0M188.5 542.2h0M194.6 545.2h0M196.5 544.6h0M194.2 541.5h0M194.0 540.8h0M187.2 544.6h0M189.1 545.9h0M186.9 540.8h0M193.5 545.0h0M194.8 542.9h0M193.8 543.0h0M190.4 543.9h0M191.3 545.5h0M193.4 542.5h0M195.0 540.7h0M196.6 542.7h0M192.1 540.2h0M194.9 547.9h0M188.9 545.0h0M191.7 540.7h0" stroke="#a02018" stroke-width="2.8" stroke-linecap="round" fill="none"/>
<path d="M82.7 634.5h0M91.6 642.8h0M91.5 642.8h0" stroke="#505070" stroke-width="2.8" stroke-linecap="round" fill="none"/>
<path d="M156.9 571.2h0M160.1 574.0h0M160.0 575.1h0M152.8 569.1h0M155.0 569.0h0M154.8 569.1h0M161.2 575.9h0M156.8 570.9h0M155.0 570.9h0M158.4 572.5h0M158.7 573.9h0M158.8 572.5h0M157.0 572.2h0M160.2 574.6h0" stroke="#a85020" stroke-width="2.8" stroke-linecap="round" fill="none"/>
<path d="M79.4 637.0h0M82.5 640.2h0M78.9 636.6h0" stroke="#384080" stroke-width="2.8" stroke-linecap="round" fill="none"/>
<path d="M111.0 612.1h0M114.7 615.7h0M116.7 617.1h0M114.8 615.5h0" stroke="#b8b030" stroke-width="2.8" stroke-linecap="round" fill="none"/>
<path d="M113.1 612.5h0M113.3 609.3h0M107.7 611.0h0M111.0 613.9h0M112.5 606.0h0M116.0 619.4h0M107.7 613.0h0M117.4 612.3h0M117.4 621.8h0M113.2 616.2h0M106.0 615.0h0M107.6 611.6h0M109.2 602.8h0M109.0 617.5h0M114.6 612.5h0M118.1 610.9h0M108.6 613.3h0M121.0 615.5h0M101.6 609.9h0M107.4 604.8h0M113.3 620.1h0M112.3 611.2h0M114.6 608.1h0M108.7 614.8h0M116.8 614.1h0M105.3 611.6h0M118.6 611.8h0M115.9 610.2h0M114.0 616.3h0M107.9 615.8h0M115.2 610.4h0M113.9 613.9h0M113.5 619.5h0M112.1 610.4h0M110.2 609.7h0M110.8 616.6h0M108.8 613.7h0" stroke="#b8a830" stroke-width="2.8" stroke-linecap="round" fill="none"/>
<path d="M83.2 642.3h0M83.3 642.0h0M86.8 645.2h0M79.6 639.1h0" stroke="#304080" stroke-width="2.8" stroke-linecap="round" fill="none"/>
<path d="M87.8 641.1h0M88.2 641.2h0M85.3 638.5h0M81.5 635.4h0" stroke="#404878" stroke-width="2.8" stroke-linecap="round" fill="none"/>
<path d="M164.5 556.5h0M163.4 561.1h0M172.9 566.1h0M173.6 563.4h0M174.3 567.7h0M172.2 564.0h0M162.1 559.7h0M168.8 565.3h0M165.3 562.6h0M167.2 559.1h0M168.7 566.0h0M170.1 559.9h0M166.0 561.7h0M168.2 562.0h0M165.9 563.2h0M170.9 563.5h0M172.5 563.9h0M168.4 564.7h0M171.3 561.6h0M171.2 562.2h0M176.4 566.2h0M165.6 561.8h0M174.2 566.0h0M170.3 563.0h0" stroke="#a83818" stroke-width="2.8" stroke-linecap="round" fill="none"/>
<path d="M115.9 595.0h0M133.1 611.3h0M134.3 609.1h0" stroke="#a08840" stroke-width="2.8" stroke-linecap="round" fill="none"/>
<path d="M156.1 573.1h0M156.8 574.7h0M149.9 570.0h0M151.1 568.7h0M154.7 573.7h0M159.0 578.9h0M156.3 575.3h0M159.7 576.5h0M156.9 576.5h0" stroke="#b05020" stroke-width="2.8" stroke-linecap="round" fill="none"/>
<path d="M64.6 662.6h0M61.1 663.9h0M62.8 662.6h0M61.8 661.3h0M60.5 659.1h0M64.6 661.0h0M62.1 657.9h0M65.8 662.1h0M60.6 656.2h0M62.4 659.7h0" stroke="#303888" stroke-width="2.8" stroke-linecap="round" fill="none"/>
<path d="M165.5 553.7h0M185.5 572.1h0M175.9 567.3h0" stroke="#883820" stroke-width="2.8" stroke-linecap="round" fill="none"/>
<path d="M140.2 594.7h0M139.8 590.9h0M135.1 587.7h0M142.5 596.2h0M138.5 593.6h0M137.0 592.4h0M139.5 591.1h0M140.0 590.5h0M136.3 588.6h0M137.4 589.7h0M139.0 589.3h0M140.8 592.7h0M133.2 587.2h0M135.9 587.8h0M145.3 596.6h0M134.3 587.7h0M138.0 590.9h0M130.4 586.4h0M134.2 584.9h0" stroke="#b07828" stroke-width="2.8" stroke-linecap="round" fill="none"/>
<path d="M150.3 574.6h0M154.2 576.7h0M153.8 578.0h0M154.7 577.9h0M151.8 573.8h0M159.7 581.2h0M156.4 577.0h0M148.2 573.1h0M154.6 579.7h0M149.1 572.9h0M148.8 571.3h0M153.9 575.1h0M157.2 577.7h0M148.3 572.0h0M153.4 576.4h0" stroke="#b05820" stroke-width="2.8" stroke-linecap="round" fill="none"/>
<path d="M126.0 594.3h0M130.6 595.0h0M128.0 596.3h0M128.3 597.6h0M128.7 596.9h0M130.0 593.6h0M134.9 598.6h0M132.6 596.7h0M134.5 598.6h0M136.7 600.2h0M125.3 590.6h0M125.6 591.8h0M128.7 597.4h0M139.2 602.3h0M127.3 595.7h0M133.0 598.3h0M130.3 598.1h0M131.4 599.5h0M135.3 599.9h0M133.5 601.9h0M127.1 595.4h0M130.4 594.7h0" stroke="#b88828" stroke-width="2.8" stroke-linecap="round" fill="none"/>
<path d="M91.5 633.5h0M91.8 634.3h0" stroke="#888848" stroke-width="2.8" stroke-linecap="round" fill="none"/>
<path d="M86.1 642.0h0" stroke="#384078" stroke-width="2.8" stroke-linecap="round" fill="none"/>
<path d="M155.3 580.9h0M154.2 581.7h0M157.4 584.0h0M148.6 576.8h0M158.3 583.3h0M152.9 578.7h0" stroke="#b05828" stroke-width="2.8" stroke-linecap="round" fill="none"/>
<path d="M167.1 568.3h0M161.5 563.8h0M167.5 566.5h0M163.2 568.1h0M169.1 571.9h0M164.3 562.8h0M163.2 566.4h0M167.2 565.8h0M160.0 559.2h0M157.3 561.6h0M169.3 570.2h0M168.5 568.0h0M163.4 567.1h0M164.4 566.9h0M164.2 564.5h0M163.5 566.9h0" stroke="#a84020" stroke-width="2.8" stroke-linecap="round" fill="none"/>
<path d="M162.4 569.4h0M166.4 572.2h0M164.6 576.7h0M160.1 571.8h0M165.3 574.8h0M163.2 570.2h0M163.4 572.1h0M166.6 575.8h0M162.3 569.1h0M160.1 571.3h0M159.0 565.1h0M161.5 574.2h0M162.8 568.2h0M163.1 569.6h0M156.1 564.9h0M165.7 571.7h0M159.0 567.3h0M164.4 574.9h0M158.7 566.1h0M158.9 565.2h0M160.8 570.0h0M158.8 568.7h0M164.3 575.2h0" stroke="#a84820" stroke-width="2.8" stroke-linecap="round" fill="none"/>
<path d="M145.9 594.0h0M145.4 589.5h0M139.6 585.5h0M140.6 587.1h0M138.6 588.4h0M144.5 587.7h0M137.4 586.3h0M141.7 586.9h0M140.8 587.7h0M142.8 587.1h0M145.6 588.8h0M137.1 587.2h0M142.8 587.4h0M140.2 586.8h0M142.5 590.9h0M142.7 591.1h0M140.8 588.9h0M141.3 589.9h0" stroke="#b07028" stroke-width="2.8" stroke-linecap="round" fill="none"/>
<path d="M112.7 621.8h0" stroke="#b0a830" stroke-width="2.8" stroke-linecap="round" fill="none"/>
<path d="M146.9 578.7h0M150.9 585.8h0M141.9 577.7h0M147.2 580.9h0M147.2 575.8h0M155.7 585.5h0M143.6 576.2h0M146.2 577.9h0M151.8 580.4h0M143.8 575.6h0M146.1 578.8h0M151.2 583.2h0M154.5 585.3h0M150.6 582.2h0M149.1 580.0h0M146.6 575.4h0" stroke="#b06028" stroke-width="2.8" stroke-linecap="round" fill="none"/>
<path d="M124.4 600.4h0M127.4 603.4h0M128.2 602.2h0M124.5 599.2h0M126.6 601.4h0M124.7 599.2h0M125.3 600.6h0M122.9 599.2h0" stroke="#b89030" stroke-width="2.8" stroke-linecap="round" fill="none"/>
<path d="M106.7 639.2h0" stroke="#989848" stroke-width="2.8" stroke-linecap="round" fill="none"/>
<path d="M88.0 634.7h0" stroke="#686858" stroke-width="2.8" stroke-linecap="round" fill="none"/>
<path d="M133.2 580.2h0M134.7 578.8h0" stroke="#986838" stroke-width="2.8" stroke-linecap="round" fill="none"/>
<path d="M99.2 634.7h0M95.3 633.1h0M90.8 628.1h0M94.3 630.9h0M93.1 630.3h0M92.3 627.3h0M91.1 625.2h0M94.8 632.4h0M92.3 629.6h0M97.1 631.6h0M93.5 627.2h0M88.1 623.0h0M94.6 628.6h0M97.9 632.6h0" stroke="#a8a038" stroke-width="2.8" stroke-linecap="round" fill="none"/>
<path d="M178.4 575.1h0M170.7 574.1h0" stroke="#884028" stroke-width="2.8" stroke-linecap="round" fill="none"/>
<path d="M94.1 624.3h0M99.1 629.1h0M93.7 626.0h0M94.0 625.2h0M100.2 631.6h0M95.5 627.0h0M93.3 624.2h0M99.6 631.2h0" stroke="#a8a838" stroke-width="2.8" stroke-linecap="round" fill="none"/>
<path d="M86.0 631.0h0" stroke="#787850" stroke-width="2.8" stroke-linecap="round" fill="none"/>
<path d="M127.1 598.2h0M128.4 599.6h0M126.7 597.3h0M135.9 606.2h0" stroke="#b89028" stroke-width="2.8" stroke-linecap="round" fill="none"/>
<path d="M118.6 588.5h0" stroke="#a08038" stroke-width="2.8" stroke-linecap="round" fill="none"/>
<path d="M90.1 638.4h0M87.8 636.3h0M84.5 633.1h0" stroke="#606060" stroke-width="2.8" stroke-linecap="round" fill="none"/>
<path d="M67.7 644.7h0M70.8 639.8h0M73.0 636.0h0M72.8 639.6h0M78.9 657.2h0" stroke="#303868" stroke-width="2.8" stroke-linecap="round" fill="none"/>
<path d="M153.1 563.5h0M155.0 563.1h0M166.7 578.6h0M152.1 562.3h0M167.1 579.9h0" stroke="#904828" stroke-width="2.8" stroke-linecap="round" fill="none"/>
<path d="M114.1 628.6h0M100.1 610.4h0" stroke="#a09848" stroke-width="2.8" stroke-linecap="round" fill="none"/>
<path d="M119.7 611.6h0M120.6 605.8h0M126.3 614.2h0M120.1 608.0h0M117.9 607.4h0M121.1 608.2h0M121.1 610.9h0M121.7 610.2h0M114.9 601.4h0M114.0 604.3h0M113.9 606.5h0M118.6 608.7h0M117.5 608.6h0M117.3 609.2h0M123.3 608.6h0M115.6 605.3h0M118.8 606.8h0" stroke="#b8a030" stroke-width="2.8" stroke-linecap="round" fill="none"/>
<path d="M86.9 624.9h0" stroke="#989048" stroke-width="2.8" stroke-linecap="round" fill="none"/>
<path d="M143.1 565.1h0M151.3 566.9h0M162.5 582.9h0M144.9 568.2h0" stroke="#905030" stroke-width="2.8" stroke-linecap="round" fill="none"/>
<path d="M111.2 594.8h0M135.7 616.8h0M108.4 597.8h0M112.6 596.1h0" stroke="#a09040" stroke-width="2.8" stroke-linecap="round" fill="none"/>
<path d="M142.2 571.3h0M142.7 567.8h0M160.9 584.6h0" stroke="#905830" stroke-width="2.8" stroke-linecap="round" fill="none"/>
<path d="M168.3 565.8h0" stroke="#a83820" stroke-width="2.8" stroke-linecap="round" fill="none"/>
<path d="M199.7 553.0h0M192.7 533.8h0M189.8 535.0h0M194.8 531.9h0M183.8 541.6h0M180.4 545.0h0M199.4 543.3h0M195.5 530.6h0" stroke="#802820" stroke-width="2.8" stroke-linecap="round" fill="none"/>
<path d="M96.6 642.5h0" stroke="#606058" stroke-width="2.8" stroke-linecap="round" fill="none"/>
<path d="M100.3 644.3h0" stroke="#707050" stroke-width="2.8" stroke-linecap="round" fill="none"/>
<path d="M94.0 634.3h0M97.3 637.2h0" stroke="#989040" stroke-width="2.8" stroke-linecap="round" fill="none"/>
<path d="M86.3 633.0h0M90.6 636.4h0M89.0 635.1h0" stroke="#707058" stroke-width="2.8" stroke-linecap="round" fill="none"/>
<path d="M106.1 601.7h0M93.7 632.9h0" stroke="#a09840" stroke-width="2.8" stroke-linecap="round" fill="none"/>
<path d="M88.8 632.4h0" stroke="#808050" stroke-width="2.8" stroke-linecap="round" fill="none"/>
<path d="M140.8 573.5h0M140.1 572.1h0" stroke="#985830" stroke-width="2.8" stroke-linecap="round" fill="none"/>
<path d="M86.4 633.9h0M87.1 635.0h0" stroke="#686860" stroke-width="2.8" stroke-linecap="round" fill="none"/>
<path d="M86.5 638.5h0M89.0 641.2h0" stroke="#485070" stroke-width="2.8" stroke-linecap="round" fill="none"/>
<path d="M84.0 633.7h0" stroke="#586068" stroke-width="2.8" stroke-linecap="round" fill="none"/>
<path d="M87.6 637.5h0M87.7 637.5h0" stroke="#585868" stroke-width="2.8" stroke-linecap="round" fill="none"/>
<path d="M90.1 631.9h0M92.0 633.6h0" stroke="#908848" stroke-width="2.8" stroke-linecap="round" fill="none"/>
<path d="M126.5 584.7h0M143.7 602.9h0" stroke="#a07838" stroke-width="2.8" stroke-linecap="round" fill="none"/>
<path d="M147.8 600.3h0" stroke="#987038" stroke-width="2.8" stroke-linecap="round" fill="none"/>
<path d="M137.9 593.7h0M136.1 591.7h0" stroke="#b87828" stroke-width="2.8" stroke-linecap="round" fill="none"/>
<path d="M160.4 556.7h0M161.3 556.8h0" stroke="#883828" stroke-width="2.8" stroke-linecap="round" fill="none"/>
<path d="M87.2 627.7h0M96.5 636.2h0M95.5 635.4h0" stroke="#989840" stroke-width="2.8" stroke-linecap="round" fill="none"/>
<path d="M84.7 634.0h0M87.5 636.5h0" stroke="#606068" stroke-width="2.8" stroke-linecap="round" fill="none"/>
<path d="M98.6 647.9h0" stroke="#505060" stroke-width="2.8" stroke-linecap="round" fill="none"/>
<path d="M172.7 561.7h0M170.6 559.8h0" stroke="#a03818" stroke-width="2.8" stroke-linecap="round" fill="none"/>
<path d="M87.2 637.9h0" stroke="#505870" stroke-width="2.8" stroke-linecap="round" fill="none"/>
<path d="M93.2 635.9h0M93.3 635.9h0" stroke="#888048" stroke-width="2.8" stroke-linecap="round" fill="none"/>
<path d="M187.1 567.1h0" stroke="#883020" stroke-width="2.8" stroke-linecap="round" fill="none"/>
<path d="M77.7 633.4h0" stroke="#384068" stroke-width="2.8" stroke-linecap="round" fill="none"/>
<path d="M184.7 559.3h0" stroke="#803020" stroke-width="2.8" stroke-linecap="round" fill="none"/>
<path d="M98.8 639.1h0" stroke="#909040" stroke-width="2.8" stroke-linecap="round" fill="none"/>
<path d="M93.2 638.1h0" stroke="#787858" stroke-width="2.8" stroke-linecap="round" fill="none"/>
<path d="M83.9 636.9h0" stroke="#484878" stroke-width="2.8" stroke-linecap="round" fill="none"/>
<path d="M138.0 578.5h0M152.3 592.5h0" stroke="#986038" stroke-width="2.8" stroke-linecap="round" fill="none"/>
<path d="M157.5 594.5h0" stroke="#986030" stroke-width="2.8" stroke-linecap="round" fill="none"/>
<path d="M97.2 626.3h0M95.9 620.7h0M101.6 624.1h0M100.9 626.5h0M98.9 620.5h0M104.8 625.8h0M94.1 624.3h0M105.2 633.4h0M101.7 628.8h0M99.1 629.1h0M96.3 624.6h0M105.1 630.2h0M99.4 625.9h0M98.7 625.2h0M97.8 620.0h0M101.5 629.7h0M99.2 622.9h0M101.3 626.4h0M98.4 621.4h0M100.1 624.1h0M98.3 627.9h0M97.7 627.2h0" stroke="#d8d040" stroke-width="1.8" stroke-linecap="round" fill="none"/>
<path d="M72.1 657.6h0M77.2 642.8h0M68.0 652.6h0M76.1 643.0h0M68.4 649.8h0M79.0 647.6h0M64.6 662.6h0M71.5 652.0h0M69.5 657.7h0M67.3 659.2h0M69.4 656.7h0M70.9 652.4h0M69.6 648.8h0M74.5 641.8h0M71.7 657.9h0M77.8 648.3h0M61.1 663.9h0M66.1 656.2h0M66.8 656.4h0M77.0 644.7h0M72.4 649.9h0M62.8 662.6h0M76.2 651.9h0M70.7 653.4h0M73.3 652.5h0M78.9 653.2h0M74.5 646.0h0M61.8 661.3h0M60.5 659.1h0M77.2 648.8h0M78.0 644.9h0M71.5 652.6h0M70.6 652.6h0M82.4 643.3h0M76.6 641.3h0M73.8 647.4h0M77.9 650.6h0M72.9 643.0h0M77.2 646.4h0M70.5 658.5h0M80.5 644.1h0M69.0 652.3h0M74.5 644.8h0M71.8 651.4h0M69.8 650.9h0M71.7 657.3h0M72.1 652.3h0M61.7 654.7h0M72.5 654.1h0M79.6 641.8h0M79.0 643.8h0M68.4 652.6h0M63.6 654.9h0M65.9 649.6h0M78.9 639.6h0M64.1 655.4h0M72.1 650.7h0M62.3 656.1h0M64.6 661.0h0M70.0 646.0h0M76.3 650.6h0M74.0 652.5h0M71.2 651.0h0M79.3 643.3h0M65.4 658.4h0M79.5 649.0h0M71.6 642.7h0M66.1 653.9h0M71.4 650.8h0M77.8 648.0h0M73.3 655.2h0M62.1 657.9h0M79.6 646.3h0M65.5 653.1h0M71.8 649.1h0M76.2 645.9h0M65.8 662.1h0M73.7 645.5h0M69.7 654.0h0M62.1 655.1h0M72.6 645.6h0M72.5 656.8h0M74.9 643.8h0M77.4 639.1h0M65.7 658.2h0M66.2 654.3h0M60.6 656.2h0M84.0 646.4h0M71.7 644.7h0M65.9 656.4h0M64.7 650.9h0M75.4 651.1h0M73.7 650.6h0M66.1 652.6h0M70.9 648.1h0M78.0 646.6h0M77.1 646.1h0M71.1 646.0h0M67.5 659.9h0M73.5 651.0h0M62.4 659.7h0" stroke="#3848a8" stroke-width="1.8" stroke-linecap="round" fill="none"/>
<path d="M121.3 605.8h0M119.8 602.9h0M120.6 605.8h0M120.1 603.9h0M124.6 604.9h0M126.5 607.9h0M126.6 608.7h0M125.8 608.6h0M126.8 607.6h0M120.4 601.4h0M126.7 606.0h0" stroke="#e8c038" stroke-width="1.8" stroke-linecap="round" fill="none"/>
<path d="M183.8 543.7h0M181.9 549.0h0M187.0 548.6h0M185.8 547.1h0M189.4 549.0h0M186.3 546.6h0M187.1 549.6h0M188.2 550.7h0M187.7 552.9h0M184.6 552.8h0M186.4 550.2h0M188.5 549.1h0M182.6 545.7h0M184.3 546.9h0M188.5 550.4h0M184.6 545.9h0M186.4 546.4h0M182.2 549.1h0M188.0 548.6h0M187.7 549.5h0M184.3 548.1h0M184.6 548.3h0M184.4 552.3h0M188.6 547.1h0" stroke="#c83020" stroke-width="1.8" stroke-linecap="round" fill="none"/>
<path d="M128.0 588.6h0M142.0 600.4h0M128.5 586.9h0M135.4 593.5h0M137.3 597.9h0M130.3 591.0h0M136.1 597.2h0M139.8 601.3h0M138.5 597.5h0M134.1 592.9h0M136.0 597.7h0M137.2 597.7h0M137.8 595.4h0M135.8 596.9h0M134.6 593.6h0M129.4 591.4h0" stroke="#e0a038" stroke-width="1.8" stroke-linecap="round" fill="none"/>
<path d="M192.7 536.7h0M208.7 526.9h0M203.1 532.3h0M195.0 535.0h0M209.1 528.0h0M199.5 538.7h0M211.2 525.1h0M207.4 528.7h0M205.9 529.4h0M194.2 538.8h0M210.8 525.6h0M202.3 535.9h0M208.2 527.6h0M208.6 529.4h0M203.3 532.9h0M200.2 534.6h0M198.5 540.1h0M199.7 536.7h0M200.2 536.1h0M209.7 527.3h0M206.7 527.7h0M199.4 539.8h0M205.1 532.2h0M200.6 538.3h0M198.6 541.4h0M203.1 531.5h0M205.1 531.1h0M198.1 536.7h0M205.6 530.0h0M204.8 531.3h0M210.4 525.6h0M209.4 527.7h0M210.7 526.2h0M209.8 526.8h0M204.7 529.3h0M199.2 533.6h0M209.4 527.3h0M205.9 531.4h0M208.7 527.7h0M197.0 540.4h0M200.3 534.3h0M201.7 538.6h0M200.4 540.0h0M202.6 535.9h0M200.1 534.6h0M199.1 536.0h0M211.4 526.2h0M203.8 535.3h0M209.6 527.4h0M205.1 531.4h0M204.2 534.1h0M202.9 533.6h0M206.8 530.1h0M211.3 525.0h0M197.8 542.1h0M198.0 539.0h0M201.9 532.2h0M199.5 536.0h0M210.5 525.8h0M196.7 538.8h0M210.8 527.3h0M203.6 535.2h0M198.7 532.8h0M211.7 524.5h0M207.8 529.1h0M193.0 537.9h0M210.2 525.9h0M195.0 540.7h0M207.1 528.6h0M211.7 525.7h0M199.0 535.2h0M209.3 527.6h0M201.1 537.2h0M208.6 527.1h0M210.5 526.2h0M197.4 539.0h0M206.8 529.9h0M202.6 530.9h0M200.7 534.5h0M198.1 537.3h0M207.0 528.9h0M207.3 528.0h0M207.7 529.7h0M203.2 536.1h0M210.7 525.0h0M195.2 536.7h0M209.2 526.9h0M202.7 530.3h0M209.2 528.1h0M200.4 533.5h0M201.5 535.3h0M194.0 533.8h0M210.9 526.0h0" stroke="#c02818" stroke-width="1.8" stroke-linecap="round" fill="none"/>
<path d="M142.2 581.7h0M147.7 584.6h0M145.5 582.3h0M150.9 585.8h0M141.9 577.7h0M150.4 587.4h0M146.5 584.8h0M139.3 579.9h0M146.3 584.4h0M150.0 586.9h0M140.8 580.0h0M142.2 582.0h0" stroke="#e08030" stroke-width="1.8" stroke-linecap="round" fill="none"/>
<path d="M181.7 558.7h0M181.1 552.6h0M186.2 557.3h0M176.1 554.5h0M177.2 556.4h0M177.6 554.7h0M178.7 553.5h0M183.2 558.3h0M183.1 557.1h0M182.0 551.7h0M177.6 553.2h0M181.1 561.4h0M177.9 558.0h0M178.6 552.6h0M182.8 553.1h0M179.9 552.4h0M179.5 559.8h0M177.4 549.7h0M179.2 557.2h0M185.1 557.6h0M174.6 553.5h0M179.1 552.4h0M186.9 556.1h0M183.4 560.1h0M179.8 558.0h0M181.5 555.0h0M176.8 556.2h0M181.4 556.0h0M180.0 553.6h0M180.8 555.3h0" stroke="#c83820" stroke-width="1.8" stroke-linecap="round" fill="none"/>
<path d="M149.8 592.0h0M145.4 589.5h0M139.6 585.5h0M140.6 587.1h0M150.3 592.5h0M144.5 587.7h0M147.4 590.2h0M148.3 589.3h0M141.7 586.9h0M142.8 587.1h0M145.6 588.8h0M142.8 587.4h0M140.2 586.8h0M143.8 585.6h0M141.8 584.6h0M146.5 588.4h0" stroke="#e08830" stroke-width="1.8" stroke-linecap="round" fill="none"/>
<path d="M195.5 543.9h0M192.0 542.5h0M191.1 544.2h0M188.5 542.2h0M194.6 545.2h0M196.5 544.6h0M194.2 541.5h0M194.0 540.8h0M186.9 540.8h0M193.5 545.0h0M194.8 542.9h0M193.8 543.0h0M190.4 543.9h0M191.3 545.5h0M193.4 542.5h0M196.6 542.7h0M192.1 540.2h0M194.9 547.9h0M188.9 545.0h0M191.7 540.7h0" stroke="#c02820" stroke-width="1.8" stroke-linecap="round" fill="none"/>
<path d="M82.7 634.5h0M91.6 642.8h0" stroke="#606888" stroke-width="1.8" stroke-linecap="round" fill="none"/>
<path d="M156.9 571.2h0M160.1 574.0h0M160.0 575.1h0M164.6 576.7h0M160.1 571.8h0M152.8 569.1h0M155.0 569.0h0M154.8 569.1h0M161.2 575.9h0M156.8 570.9h0M155.0 570.9h0M158.4 572.5h0M160.1 571.3h0M161.5 574.2h0M158.7 573.9h0M158.8 572.5h0M164.4 574.9h0M157.0 572.2h0M160.2 574.6h0M164.3 575.2h0" stroke="#d86028" stroke-width="1.8" stroke-linecap="round" fill="none"/>
<path d="M79.4 637.0h0M82.5 640.2h0M78.9 636.6h0" stroke="#4850a0" stroke-width="1.8" stroke-linecap="round" fill="none"/>
<path d="M111.0 612.1h0M113.1 612.5h0M114.7 615.7h0M112.3 611.2h0M116.7 617.1h0M114.0 616.3h0M114.8 615.5h0M113.9 613.9h0M110.2 609.7h0" stroke="#e8d840" stroke-width="1.8" stroke-linecap="round" fill="none"/>
<path d="M111.5 621.3h0M107.7 611.0h0M111.0 613.9h0M112.7 621.8h0M116.0 619.4h0M107.7 613.0h0M117.4 621.8h0M113.2 616.2h0M106.0 615.0h0M107.6 611.6h0M109.0 617.5h0M108.6 613.3h0M101.6 609.9h0M113.3 620.1h0M108.7 614.8h0M105.3 611.6h0M107.1 617.3h0M101.4 612.4h0M107.9 615.8h0M113.5 619.5h0M110.8 616.6h0M108.8 613.7h0" stroke="#e0d840" stroke-width="1.8" stroke-linecap="round" fill="none"/>
<path d="M83.2 642.3h0M79.6 639.1h0" stroke="#4048a0" stroke-width="1.8" stroke-linecap="round" fill="none"/>
<path d="M87.8 641.1h0M81.5 635.4h0" stroke="#505898" stroke-width="1.8" stroke-linecap="round" fill="none"/>
<path d="M164.5 556.5h0M173.6 563.4h0M172.2 564.0h0M175.8 563.8h0M167.2 559.1h0M170.1 559.9h0M169.9 558.4h0M172.5 563.9h0M174.8 562.0h0M171.3 561.6h0M172.7 561.7h0M175.9 563.7h0M171.2 562.2h0M176.4 566.2h0M174.2 566.0h0M170.6 559.8h0" stroke="#d04020" stroke-width="1.8" stroke-linecap="round" fill="none"/>
<path d="M115.9 595.0h0M134.3 609.1h0" stroke="#c8a850" stroke-width="1.8" stroke-linecap="round" fill="none"/>
<path d="M156.1 573.1h0M156.8 574.7h0M149.9 570.0h0M156.4 577.0h0M151.1 568.7h0M154.7 573.7h0M159.0 578.9h0M156.3 575.3h0M153.9 575.1h0M157.2 577.7h0M159.7 576.5h0M156.9 576.5h0" stroke="#d86828" stroke-width="1.8" stroke-linecap="round" fill="none"/>
<path d="M163.4 561.1h0M172.9 566.1h0M174.3 567.7h0M162.1 559.7h0M168.8 565.3h0M165.3 562.6h0M168.7 566.0h0M168.3 565.8h0M166.0 561.7h0M164.3 562.8h0M168.2 562.0h0M165.9 563.2h0M170.9 563.5h0M168.4 564.7h0M165.6 561.8h0M170.3 563.0h0" stroke="#d04820" stroke-width="1.8" stroke-linecap="round" fill="none"/>
<path d="M165.5 553.7h0M185.5 572.1h0M187.1 567.1h0" stroke="#a84028" stroke-width="1.8" stroke-linecap="round" fill="none"/>
<path d="M140.2 594.7h0M138.5 593.6h0M137.0 592.4h0M137.9 593.7h0M134.5 591.6h0M136.1 591.7h0M130.4 586.4h0" stroke="#e09838" stroke-width="1.8" stroke-linecap="round" fill="none"/>
<path d="M150.3 574.6h0M155.3 580.9h0M153.8 578.0h0M154.7 577.9h0M154.2 581.7h0M157.4 584.0h0M147.2 575.8h0M148.6 576.8h0M148.2 573.1h0M154.6 579.7h0M149.1 572.9h0M151.8 580.4h0M158.3 583.3h0M148.3 572.0h0M153.4 576.4h0M146.6 575.4h0M152.9 578.7h0" stroke="#d87030" stroke-width="1.8" stroke-linecap="round" fill="none"/>
<path d="M126.0 594.3h0M128.0 596.3h0M127.1 598.2h0M128.3 597.6h0M128.7 596.9h0M128.4 599.6h0M128.7 597.4h0M126.7 597.3h0M127.3 595.7h0M135.9 606.2h0M130.3 598.1h0M131.4 599.5h0M133.5 601.9h0M127.1 595.4h0" stroke="#e0b038" stroke-width="1.8" stroke-linecap="round" fill="none"/>
<path d="M91.5 633.5h0" stroke="#b0a858" stroke-width="1.8" stroke-linecap="round" fill="none"/>
<path d="M139.8 590.9h0M145.9 594.0h0M138.6 588.4h0M137.4 586.3h0M139.5 591.1h0M140.8 587.7h0M140.0 590.5h0M137.1 587.2h0M139.0 589.3h0M135.9 587.8h0M145.3 596.6h0M142.5 590.9h0M142.7 591.1h0M140.8 588.9h0M141.3 589.9h0M134.2 584.9h0" stroke="#e09030" stroke-width="1.8" stroke-linecap="round" fill="none"/>
<path d="M86.1 642.0h0" stroke="#485098" stroke-width="1.8" stroke-linecap="round" fill="none"/>
<path d="M113.3 609.3h0M112.5 606.0h0M117.4 612.3h0M119.7 611.6h0M109.2 602.8h0M114.6 612.5h0M118.1 610.9h0M121.0 615.5h0M107.4 604.8h0M114.6 608.1h0M116.8 614.1h0M113.9 606.5h0M118.6 611.8h0M115.9 610.2h0M117.3 609.2h0M115.2 610.4h0M112.1 610.4h0" stroke="#e8d040" stroke-width="1.8" stroke-linecap="round" fill="none"/>
<path d="M167.1 568.3h0M161.5 563.8h0M169.1 571.9h0M163.2 566.4h0M157.3 561.6h0M169.3 570.2h0M163.4 567.1h0M164.4 566.9h0M163.5 566.9h0" stroke="#d05028" stroke-width="1.8" stroke-linecap="round" fill="none"/>
<path d="M162.4 569.4h0M166.4 572.2h0M163.2 568.1h0M163.2 570.2h0M162.3 569.1h0M159.0 565.1h0M162.8 568.2h0M163.1 569.6h0M156.1 564.9h0M165.7 571.7h0M159.0 567.3h0M158.7 566.1h0M158.9 565.2h0" stroke="#d05828" stroke-width="1.8" stroke-linecap="round" fill="none"/>
<path d="M177.5 560.3h0M173.4 556.7h0M175.3 558.8h0M175.4 558.7h0M178.4 559.9h0M171.6 556.6h0M175.8 558.6h0M174.4 555.5h0M175.8 560.9h0M172.5 557.4h0M179.6 562.2h0M172.4 558.0h0M178.5 560.0h0" stroke="#c84020" stroke-width="1.8" stroke-linecap="round" fill="none"/>
<path d="M99.3 617.7h0M99.3 618.5h0M104.0 616.0h0M107.3 621.5h0M107.2 619.3h0M100.0 619.2h0M107.8 621.8h0M104.7 621.9h0M104.5 616.8h0M105.8 622.4h0M107.7 620.1h0M100.4 618.5h0M112.4 623.7h0M105.2 621.2h0M102.9 619.5h0M98.9 616.9h0M110.7 627.9h0" stroke="#e0d040" stroke-width="1.8" stroke-linecap="round" fill="none"/>
<path d="M154.2 576.7h0M151.8 573.8h0M159.7 581.2h0M148.8 571.3h0" stroke="#d86830" stroke-width="1.8" stroke-linecap="round" fill="none"/>
<path d="M128.1 591.0h0M130.6 595.0h0M130.0 593.6h0M134.9 598.6h0M131.7 594.5h0M132.6 596.7h0M134.5 598.6h0M136.7 600.2h0M125.3 590.6h0M133.5 596.0h0M125.6 591.8h0M139.2 602.3h0M133.0 598.3h0M135.3 599.9h0M130.4 594.7h0" stroke="#e0a838" stroke-width="1.8" stroke-linecap="round" fill="none"/>
<path d="M135.1 587.7h0M142.5 596.2h0M136.3 588.6h0M137.4 589.7h0M140.8 592.7h0M133.2 587.2h0M134.3 587.7h0M138.0 590.9h0" stroke="#e09830" stroke-width="1.8" stroke-linecap="round" fill="none"/>
<path d="M146.9 578.7h0M155.7 585.5h0M143.6 576.2h0M146.2 577.9h0M143.8 575.6h0M146.1 578.8h0M151.2 583.2h0M154.5 585.3h0M150.6 582.2h0M149.1 580.0h0" stroke="#d87830" stroke-width="1.8" stroke-linecap="round" fill="none"/>
<path d="M124.4 600.4h0M118.1 596.1h0M127.4 603.4h0M120.9 600.0h0M128.2 602.2h0M124.5 599.2h0M126.6 601.4h0M124.7 599.2h0M125.1 603.7h0M125.3 600.6h0M127.3 604.3h0M122.9 599.2h0" stroke="#e8b838" stroke-width="1.8" stroke-linecap="round" fill="none"/>
<path d="M106.7 639.2h0M86.9 624.9h0" stroke="#c0b858" stroke-width="1.8" stroke-linecap="round" fill="none"/>
<path d="M88.0 634.7h0M86.3 633.0h0M89.0 635.1h0" stroke="#888870" stroke-width="1.8" stroke-linecap="round" fill="none"/>
<path d="M83.3 642.0h0M86.8 645.2h0" stroke="#4050a0" stroke-width="1.8" stroke-linecap="round" fill="none"/>
<path d="M133.2 580.2h0M134.7 578.8h0M152.3 592.5h0" stroke="#c08040" stroke-width="1.8" stroke-linecap="round" fill="none"/>
<path d="M99.2 634.7h0M93.7 626.0h0M94.0 625.2h0M100.2 631.6h0M95.5 627.0h0M93.3 624.2h0M92.3 627.3h0M99.6 631.2h0M91.1 625.2h0M97.1 631.6h0M93.5 627.2h0M88.1 623.0h0M94.6 628.6h0M97.9 632.6h0" stroke="#d8d048" stroke-width="1.8" stroke-linecap="round" fill="none"/>
<path d="M178.4 575.1h0M160.4 556.7h0M175.9 567.3h0M161.3 556.8h0" stroke="#a84830" stroke-width="1.8" stroke-linecap="round" fill="none"/>
<path d="M86.0 631.0h0" stroke="#989868" stroke-width="1.8" stroke-linecap="round" fill="none"/>
<path d="M167.5 566.5h0M167.2 565.8h0M160.0 559.2h0M168.5 568.0h0M164.2 564.5h0" stroke="#d05020" stroke-width="1.8" stroke-linecap="round" fill="none"/>
<path d="M88.2 641.2h0M85.3 638.5h0M83.9 636.9h0" stroke="#585890" stroke-width="1.8" stroke-linecap="round" fill="none"/>
<path d="M118.6 588.5h0" stroke="#c8a048" stroke-width="1.8" stroke-linecap="round" fill="none"/>
<path d="M165.3 574.8h0M163.4 572.1h0M166.6 575.8h0M160.8 570.0h0M158.8 568.7h0" stroke="#d85828" stroke-width="1.8" stroke-linecap="round" fill="none"/>
<path d="M90.1 638.4h0M87.8 636.3h0M84.5 633.1h0" stroke="#787878" stroke-width="1.8" stroke-linecap="round" fill="none"/>
<path d="M67.7 644.7h0M70.8 639.8h0M73.0 636.0h0M72.8 639.6h0M78.9 657.2h0" stroke="#384088" stroke-width="1.8" stroke-linecap="round" fill="none"/>
<path d="M153.1 563.5h0M152.1 562.3h0" stroke="#b05838" stroke-width="1.8" stroke-linecap="round" fill="none"/>
<path d="M114.1 628.6h0M100.1 610.4h0" stroke="#c8c058" stroke-width="1.8" stroke-linecap="round" fill="none"/>
<path d="M147.2 580.9h0" stroke="#e07830" stroke-width="1.8" stroke-linecap="round" fill="none"/>
<path d="M143.1 565.1h0M142.7 567.8h0M160.9 584.6h0M162.5 582.9h0M144.9 568.2h0" stroke="#b86838" stroke-width="1.8" stroke-linecap="round" fill="none"/>
<path d="M187.2 544.6h0M189.1 545.9h0" stroke="#c03020" stroke-width="1.8" stroke-linecap="round" fill="none"/>
<path d="M111.2 594.8h0M135.7 616.8h0M112.6 596.1h0M133.1 611.3h0" stroke="#c8b050" stroke-width="1.8" stroke-linecap="round" fill="none"/>
<path d="M142.2 571.3h0M140.8 573.5h0M140.1 572.1h0" stroke="#b87040" stroke-width="1.8" stroke-linecap="round" fill="none"/>
<path d="M199.7 553.0h0M192.7 533.8h0M189.8 535.0h0M194.8 531.9h0M183.8 541.6h0M199.4 543.3h0M195.5 530.6h0" stroke="#a03028" stroke-width="1.8" stroke-linecap="round" fill="none"/>
<path d="M155.0 563.1h0" stroke="#b05830" stroke-width="1.8" stroke-linecap="round" fill="none"/>
<path d="M96.6 642.5h0" stroke="#788068" stroke-width="1.8" stroke-linecap="round" fill="none"/>
<path d="M126.3 614.2h0M120.1 608.0h0M121.1 608.2h0M114.9 601.4h0M123.3 608.6h0M118.8 606.8h0" stroke="#e8c838" stroke-width="1.8" stroke-linecap="round" fill="none"/>
<path d="M100.3 644.3h0" stroke="#888868" stroke-width="1.8" stroke-linecap="round" fill="none"/>
<path d="M94.0 634.3h0M97.3 637.2h0M87.2 627.7h0M96.5 636.2h0M95.5 635.4h0" stroke="#c0b850" stroke-width="1.8" stroke-linecap="round" fill="none"/>
<path d="M95.3 633.1h0M90.8 628.1h0M94.3 630.9h0M93.1 630.3h0M94.8 632.4h0M92.3 629.6h0" stroke="#d0c848" stroke-width="1.8" stroke-linecap="round" fill="none"/>
<path d="M106.1 601.7h0" stroke="#d0c058" stroke-width="1.8" stroke-linecap="round" fill="none"/>
<path d="M88.8 632.4h0" stroke="#a0a060" stroke-width="1.8" stroke-linecap="round" fill="none"/>
<path d="M86.4 633.9h0M87.1 635.0h0" stroke="#808078" stroke-width="1.8" stroke-linecap="round" fill="none"/>
<path d="M86.5 638.5h0" stroke="#606090" stroke-width="1.8" stroke-linecap="round" fill="none"/>
<path d="M117.9 607.4h0M121.1 610.9h0M121.7 610.2h0M114.0 604.3h0M118.6 608.7h0M117.5 608.6h0M115.6 605.3h0" stroke="#e8c840" stroke-width="1.8" stroke-linecap="round" fill="none"/>
<path d="M84.0 633.7h0M84.7 634.0h0" stroke="#707880" stroke-width="1.8" stroke-linecap="round" fill="none"/>
<path d="M170.7 574.1h0" stroke="#b05030" stroke-width="1.8" stroke-linecap="round" fill="none"/>
<path d="M87.6 637.5h0M87.7 637.5h0" stroke="#707080" stroke-width="1.8" stroke-linecap="round" fill="none"/>
<path d="M90.1 631.9h0M92.0 633.6h0" stroke="#b0b058" stroke-width="1.8" stroke-linecap="round" fill="none"/>
<path d="M126.5 584.7h0M147.8 600.3h0" stroke="#c09048" stroke-width="1.8" stroke-linecap="round" fill="none"/>
<path d="M151.3 566.9h0M166.7 578.6h0M167.1 579.9h0" stroke="#b06038" stroke-width="1.8" stroke-linecap="round" fill="none"/>
<path d="M90.6 636.4h0" stroke="#909070" stroke-width="1.8" stroke-linecap="round" fill="none"/>
<path d="M108.4 597.8h0" stroke="#c8b850" stroke-width="1.8" stroke-linecap="round" fill="none"/>
<path d="M93.7 632.9h0" stroke="#c8c050" stroke-width="1.8" stroke-linecap="round" fill="none"/>
<path d="M143.7 602.9h0" stroke="#c09848" stroke-width="1.8" stroke-linecap="round" fill="none"/>
<path d="M98.6 647.9h0" stroke="#606878" stroke-width="1.8" stroke-linecap="round" fill="none"/>
<path d="M87.2 637.9h0" stroke="#686888" stroke-width="1.8" stroke-linecap="round" fill="none"/>
<path d="M93.2 635.9h0" stroke="#a8a060" stroke-width="1.8" stroke-linecap="round" fill="none"/>
<path d="M91.5 642.8h0" stroke="#606890" stroke-width="1.8" stroke-linecap="round" fill="none"/>
<path d="M180.4 545.0h0M184.7 559.3h0" stroke="#a03828" stroke-width="1.8" stroke-linecap="round" fill="none"/>
<path d="M87.5 636.5h0" stroke="#787880" stroke-width="1.8" stroke-linecap="round" fill="none"/>
<path d="M77.7 633.4h0" stroke="#485080" stroke-width="1.8" stroke-linecap="round" fill="none"/>
<path d="M91.8 634.3h0M93.3 635.9h0" stroke="#a8a860" stroke-width="1.8" stroke-linecap="round" fill="none"/>
<path d="M98.8 639.1h0" stroke="#b8b050" stroke-width="1.8" stroke-linecap="round" fill="none"/>
<path d="M93.2 638.1h0" stroke="#909068" stroke-width="1.8" stroke-linecap="round" fill="none"/>
<path d="M89.0 641.2h0" stroke="#586090" stroke-width="1.8" stroke-linecap="round" fill="none"/>
<path d="M138.0 578.5h0M157.5 594.5h0" stroke="#c07840" stroke-width="1.8" stroke-linecap="round" fill="none"/>
<path d="M57.3 654.0 L204.3 518.1 M70.5 665.1 L214.3 532.1" stroke="#2d5038" stroke-width="1.2" fill="none"/>
<rect x="57.3" y="518.1" width="157.0" height="147.0" fill="none" stroke="#111" stroke-width="1.7"/>
<path d="M55.8 656.5 H57.3" stroke="#111" stroke-width="1"/>
<text x="54.099999999999994" y="659.5" class="c8" text-anchor="end">1</text>
<path d="M67.2 665.1 V666.6" stroke="#111" stroke-width="1"/>
<text x="67.2" y="675.1" class="c8" text-anchor="middle">1</text>
<path d="M55.8 617.9 H57.3" stroke="#111" stroke-width="1"/>
<text x="54.099999999999994" y="620.9" class="c8" text-anchor="end">2</text>
<path d="M109.0 665.1 V666.6" stroke="#111" stroke-width="1"/>
<text x="109.0" y="675.1" class="c8" text-anchor="middle">2</text>
<path d="M55.8 579.2 H57.3" stroke="#111" stroke-width="1"/>
<text x="54.099999999999994" y="582.2" class="c8" text-anchor="end">3</text>
<path d="M150.7 665.1 V666.6" stroke="#111" stroke-width="1"/>
<text x="150.7" y="675.1" class="c8" text-anchor="middle">3</text>
<path d="M55.8 540.6 H57.3" stroke="#111" stroke-width="1"/>
<text x="54.099999999999994" y="543.6" class="c8" text-anchor="end">4</text>
<path d="M192.5 665.1 V666.6" stroke="#111" stroke-width="1"/>
<text x="192.5" y="675.1" class="c8" text-anchor="middle">4</text>
<text x="62" y="532.6" class="wt">WT</text>
<text x="75.6" y="686.8" class="c10" textLength="124.5" lengthAdjust="spacingAndGlyphs">Log<tspan font-size="6" dy="2.3">10</tspan><tspan dy="-2.3"> raw intensity value (LPS)</tspan></text>
<text transform="translate(38.3 667.2) rotate(-90)" class="c10" textLength="149.5" lengthAdjust="spacingAndGlyphs">Log<tspan font-size="6" dy="2.3">10</tspan><tspan dy="-2.3"> raw intensity value (LPS+IL-10)</tspan></text>
<text x="240.8" y="472.2" class="pl">D</text>
<rect x="293.7" y="515.6" width="57.0" height="1.70" fill="#b0a840"/>
<rect x="293.7" y="517" width="57.0" height="2.80" fill="#e0d830"/>
<rect x="293.7" y="519.5" width="57.0" height="1.30" fill="#d0c830"/>
<rect x="293.7" y="520.5" width="57.0" height="3.80" fill="#d8cc28"/>
<rect x="293.7" y="524" width="57.0" height="1.30" fill="#c8c020"/>
<rect x="293.7" y="525" width="57.0" height="4.30" fill="#e8e020"/>
<rect x="293.7" y="529" width="57.0" height="1.30" fill="#c0b830"/>
<rect x="293.7" y="530" width="57.0" height="1.80" fill="#b0a840"/>
<rect x="293.7" y="531.5" width="57.0" height="1.80" fill="#c8c040"/>
<rect x="293.7" y="533" width="57.0" height="1.30" fill="#d0d060"/>
<rect x="293.7" y="534" width="57.0" height="3.30" fill="#b0a850"/>
<rect x="293.7" y="537" width="57.0" height="1.30" fill="#a09850"/>
<rect x="293.7" y="538" width="57.0" height="2.30" fill="#c8c050"/>
<rect x="293.7" y="540" width="57.0" height="1.80" fill="#a8a050"/>
<rect x="293.7" y="541.5" width="57.0" height="1.30" fill="#c0b860"/>
<rect x="293.7" y="542.5" width="57.0" height="1.80" fill="#c8c040"/>
<rect x="293.7" y="544" width="57.0" height="4.30" fill="#e8e030"/>
<rect x="293.7" y="548" width="57.0" height="1.30" fill="#a0a060"/>
<rect x="293.7" y="549" width="57.0" height="3.30" fill="#989080"/>
<rect x="293.7" y="552" width="57.0" height="2.30" fill="#505888"/>
<rect x="293.7" y="554" width="57.0" height="1.80" fill="#a0a080"/>
<rect x="293.7" y="555.5" width="57.0" height="1.80" fill="#c8c060"/>
<rect x="293.7" y="557" width="57.0" height="1.30" fill="#808040"/>
<rect x="293.7" y="558" width="57.0" height="2.80" fill="#b8b050"/>
<rect x="293.7" y="560.5" width="57.0" height="1.80" fill="#a0a070"/>
<rect x="293.7" y="562" width="57.0" height="2.30" fill="#808098"/>
<rect x="293.7" y="564" width="57.0" height="1.30" fill="#c0b060"/>
<rect x="293.7" y="565" width="57.0" height="3.30" fill="#c8c040"/>
<rect x="293.7" y="568" width="57.0" height="1.80" fill="#b0c050"/>
<rect x="293.7" y="569.5" width="57.0" height="1.80" fill="#d8e070"/>
<rect x="293.7" y="571" width="57.0" height="1.30" fill="#706020"/>
<rect x="293.7" y="572" width="57.0" height="1.80" fill="#d09040"/>
<rect x="293.7" y="573.5" width="57.0" height="2.80" fill="#e8a020"/>
<rect x="293.7" y="576" width="57.0" height="1.80" fill="#d86018"/>
<rect x="293.7" y="577.5" width="57.0" height="3.80" fill="#e89a28"/>
<rect x="293.7" y="581" width="57.0" height="2.30" fill="#d07020"/>
<rect x="293.7" y="583" width="57.0" height="4.30" fill="#e8a030"/>
<rect x="293.7" y="587" width="57.0" height="2.30" fill="#d86020"/>
<rect x="293.7" y="589" width="57.0" height="2.30" fill="#e8a030"/>
<rect x="293.7" y="591" width="57.0" height="3.30" fill="#e09028"/>
<rect x="293.7" y="594" width="57.0" height="11.30" fill="#e8a028"/>
<rect x="293.7" y="605" width="57.0" height="4.30" fill="#e09828"/>
<rect x="293.7" y="609" width="57.0" height="5.30" fill="#e8a428"/>
<rect x="293.7" y="614" width="57.0" height="4.80" fill="#e09a28"/>
<rect x="293.7" y="618.5" width="57.0" height="1.30" fill="#d08820"/>
<rect x="293.7" y="619.5" width="57.0" height="4.80" fill="#f0b820"/>
<rect x="293.7" y="624" width="57.0" height="8.30" fill="#f0c818"/>
<rect x="293.7" y="632" width="57.0" height="13.30" fill="#f0c020"/>
<rect x="293.7" y="645" width="57.0" height="5.30" fill="#f0d818"/>
<rect x="293.7" y="650" width="57.0" height="2.80" fill="#e8a828"/>
<rect x="293.7" y="652.5" width="57.0" height="3.80" fill="#e08828"/>
<rect x="293.7" y="656" width="57.0" height="4.30" fill="#dc8024"/>
<rect x="293.7" y="660" width="57.0" height="5.30" fill="#e8a030"/>
<rect x="293.7" y="665" width="57.0" height="2.80" fill="#d07020"/>
<rect x="293.7" y="667.5" width="57.0" height="1.80" fill="#e89030"/>
<rect x="293.7" y="669" width="57.0" height="4.30" fill="#d85818"/>
<rect x="293.7" y="673" width="57.0" height="2.30" fill="#e08020"/>
<rect x="293.7" y="675" width="57.0" height="10.30" fill="#e8a028"/>
<rect x="293.7" y="685" width="57.0" height="6.30" fill="#e8a830"/>
<rect x="293.7" y="691" width="57.0" height="1.30" fill="#c86018"/>
<rect x="293.7" y="692" width="57.0" height="5.30" fill="#e8a030"/>
<rect x="293.7" y="697" width="57.0" height="3.30" fill="#e09828"/>
<rect x="293.7" y="700" width="57.0" height="3.30" fill="#f8d010"/>
<rect x="293.7" y="703" width="57.0" height="3.30" fill="#d86020"/>
<rect x="293.7" y="706" width="57.0" height="6.30" fill="#dc6c20"/>
<rect x="293.7" y="712" width="57.0" height="4.30" fill="#d05818"/>
<rect x="293.7" y="716" width="57.0" height="4.30" fill="#e07028"/>
<rect x="293.7" y="720" width="57.0" height="5.30" fill="#e8a030"/>
<rect x="293.7" y="725" width="57.0" height="4.30" fill="#eca838"/>
<rect x="293.7" y="729" width="57.0" height="2.30" fill="#c85018"/>
<rect x="293.7" y="731" width="57.0" height="5.30" fill="#e07028"/>
<rect x="293.7" y="736" width="57.0" height="4.30" fill="#f0b028"/>
<rect x="350.4" y="515.6" width="56.8" height="1.70" fill="#605888"/>
<rect x="350.4" y="517" width="56.8" height="1.80" fill="#8a8878"/>
<rect x="350.4" y="518.5" width="56.8" height="1.80" fill="#b0b060"/>
<rect x="350.4" y="520" width="56.8" height="2.30" fill="#c0c050"/>
<rect x="350.4" y="522" width="56.8" height="1.80" fill="#a8a858"/>
<rect x="350.4" y="523.5" width="56.8" height="1.80" fill="#686040"/>
<rect x="350.4" y="525" width="56.8" height="1.30" fill="#c8c878"/>
<rect x="350.4" y="526" width="56.8" height="3.30" fill="#c0c050"/>
<rect x="350.4" y="529" width="56.8" height="1.30" fill="#807060"/>
<rect x="350.4" y="530" width="56.8" height="2.80" fill="#707888"/>
<rect x="350.4" y="532.5" width="56.8" height="1.80" fill="#a0a070"/>
<rect x="350.4" y="534" width="56.8" height="5.30" fill="#e0d830"/>
<rect x="350.4" y="539" width="56.8" height="1.30" fill="#908840"/>
<rect x="350.4" y="540" width="56.8" height="1.80" fill="#b0b070"/>
<rect x="350.4" y="541.5" width="56.8" height="1.80" fill="#807840"/>
<rect x="350.4" y="543" width="56.8" height="0.80" fill="#c8c050"/>
<rect x="350.4" y="543.5" width="56.8" height="4.80" fill="#d8d040"/>
<rect x="350.4" y="548" width="56.8" height="1.30" fill="#605868"/>
<rect x="350.4" y="549" width="56.8" height="6.30" fill="#4040a0"/>
<rect x="350.4" y="555" width="56.8" height="1.80" fill="#7070b8"/>
<rect x="350.4" y="556.5" width="56.8" height="1.80" fill="#404090"/>
<rect x="350.4" y="558" width="56.8" height="3.30" fill="#b8b870"/>
<rect x="350.4" y="561" width="56.8" height="2.80" fill="#909860"/>
<rect x="350.4" y="563.5" width="56.8" height="1.80" fill="#c8c090"/>
<rect x="350.4" y="565" width="56.8" height="1.30" fill="#a08050"/>
<rect x="350.4" y="566" width="56.8" height="2.30" fill="#d87830"/>
<rect x="350.4" y="568" width="56.8" height="1.80" fill="#c05010"/>
<rect x="350.4" y="569.5" width="56.8" height="2.30" fill="#e07828"/>
<rect x="350.4" y="571.5" width="56.8" height="5.80" fill="#f0b020"/>
<rect x="350.4" y="577" width="56.8" height="1.30" fill="#d09020"/>
<rect x="350.4" y="578" width="56.8" height="4.30" fill="#f0b020"/>
<rect x="350.4" y="582" width="56.8" height="5.30" fill="#e8a020"/>
<rect x="350.4" y="587" width="56.8" height="3.30" fill="#d86020"/>
<rect x="350.4" y="590" width="56.8" height="2.30" fill="#e8a030"/>
<rect x="350.4" y="592" width="56.8" height="9.30" fill="#f0b020"/>
<rect x="350.4" y="601" width="56.8" height="6.30" fill="#e09a20"/>
<rect x="350.4" y="607" width="56.8" height="5.30" fill="#f0cc18"/>
<rect x="350.4" y="612" width="56.8" height="2.30" fill="#e8b020"/>
<rect x="350.4" y="614" width="56.8" height="6.30" fill="#f4d818"/>
<rect x="350.4" y="620" width="56.8" height="7.30" fill="#f6dc14"/>
<rect x="350.4" y="627" width="56.8" height="5.30" fill="#f0c818"/>
<rect x="350.4" y="632" width="56.8" height="4.30" fill="#e4a418"/>
<rect x="350.4" y="636" width="56.8" height="2.30" fill="#eab420"/>
<rect x="350.4" y="638" width="56.8" height="5.30" fill="#e0a418"/>
<rect x="350.4" y="643" width="56.8" height="7.30" fill="#ecbc1c"/>
<rect x="350.4" y="650" width="56.8" height="5.30" fill="#f8d818"/>
<rect x="350.4" y="655" width="56.8" height="5.30" fill="#f0c020"/>
<rect x="350.4" y="660" width="56.8" height="5.30" fill="#f0d020"/>
<rect x="350.4" y="665" width="56.8" height="4.30" fill="#f0c820"/>
<rect x="350.4" y="669" width="56.8" height="3.30" fill="#e09818"/>
<rect x="350.4" y="672" width="56.8" height="18.30" fill="#f0c620"/>
<rect x="350.4" y="690" width="56.8" height="6.30" fill="#e8a020"/>
<rect x="350.4" y="696" width="56.8" height="5.30" fill="#f8d030"/>
<rect x="350.4" y="701" width="56.8" height="4.30" fill="#e8a020"/>
<rect x="350.4" y="705" width="56.8" height="8.30" fill="#f0c020"/>
<rect x="350.4" y="713" width="56.8" height="2.30" fill="#e89020"/>
<rect x="350.4" y="715" width="56.8" height="4.30" fill="#d85020"/>
<rect x="350.4" y="719" width="56.8" height="2.30" fill="#e06020"/>
<rect x="350.4" y="721" width="56.8" height="4.30" fill="#e8a030"/>
<rect x="350.4" y="725" width="56.8" height="3.30" fill="#e08020"/>
<rect x="350.4" y="728" width="56.8" height="4.30" fill="#f0d820"/>
<rect x="350.4" y="732" width="56.8" height="8.30" fill="#e8d820"/>
<rect x="406.9" y="515.6" width="56.2" height="1.70" fill="#b83018"/>
<rect x="406.9" y="517" width="56.2" height="2.30" fill="#d04820"/>
<rect x="406.9" y="519" width="56.2" height="2.30" fill="#d86020"/>
<rect x="406.9" y="521" width="56.2" height="1.80" fill="#d05020"/>
<rect x="406.9" y="522.5" width="56.2" height="2.80" fill="#c82010"/>
<rect x="406.9" y="525" width="56.2" height="2.30" fill="#c82818"/>
<rect x="406.9" y="527" width="56.2" height="2.30" fill="#d03020"/>
<rect x="406.9" y="529" width="56.2" height="2.30" fill="#c01808"/>
<rect x="406.9" y="531" width="56.2" height="2.30" fill="#d03020"/>
<rect x="406.9" y="533" width="56.2" height="2.30" fill="#c83018"/>
<rect x="406.9" y="535" width="56.2" height="2.30" fill="#d84820"/>
<rect x="406.9" y="537" width="56.2" height="2.30" fill="#d05020"/>
<rect x="406.9" y="539" width="56.2" height="2.30" fill="#e06828"/>
<rect x="406.9" y="541" width="56.2" height="2.30" fill="#d84820"/>
<rect x="406.9" y="543" width="56.2" height="2.30" fill="#e06030"/>
<rect x="406.9" y="545" width="56.2" height="2.80" fill="#c84018"/>
<rect x="406.9" y="547.5" width="56.2" height="2.80" fill="#d89020"/>
<rect x="406.9" y="550" width="56.2" height="2.30" fill="#d87820"/>
<rect x="406.9" y="552" width="56.2" height="2.30" fill="#c84810"/>
<rect x="406.9" y="554" width="56.2" height="1.80" fill="#e07030"/>
<rect x="406.9" y="555.5" width="56.2" height="2.80" fill="#c02808"/>
<rect x="406.9" y="558" width="56.2" height="1.80" fill="#d86020"/>
<rect x="406.9" y="559.5" width="56.2" height="2.80" fill="#e8a020"/>
<rect x="406.9" y="562" width="56.2" height="2.30" fill="#e8a820"/>
<rect x="406.9" y="564" width="56.2" height="2.30" fill="#c88010"/>
<rect x="406.9" y="566" width="56.2" height="1.80" fill="#e8b030"/>
<rect x="406.9" y="567.5" width="56.2" height="4.30" fill="#e8e040"/>
<rect x="406.9" y="571.5" width="56.2" height="1.30" fill="#504860"/>
<rect x="406.9" y="572.5" width="56.2" height="3.30" fill="#6868a8"/>
<rect x="406.9" y="575.5" width="56.2" height="1.80" fill="#6060a0"/>
<rect x="406.9" y="577" width="56.2" height="1.30" fill="#505070"/>
<rect x="406.9" y="578" width="56.2" height="3.30" fill="#b8c078"/>
<rect x="406.9" y="581" width="56.2" height="1.30" fill="#686870"/>
<rect x="406.9" y="582" width="56.2" height="2.30" fill="#7878a0"/>
<rect x="406.9" y="584" width="56.2" height="2.30" fill="#9090b8"/>
<rect x="406.9" y="586" width="56.2" height="1.80" fill="#7878a8"/>
<rect x="406.9" y="587.5" width="56.2" height="2.30" fill="#404878"/>
<rect x="406.9" y="589.5" width="56.2" height="1.80" fill="#8a8a80"/>
<rect x="406.9" y="591" width="56.2" height="2.30" fill="#a8a868"/>
<rect x="406.9" y="593" width="56.2" height="2.30" fill="#d8d040"/>
<rect x="406.9" y="595" width="56.2" height="2.30" fill="#b0a860"/>
<rect x="406.9" y="597" width="56.2" height="2.80" fill="#a8a070"/>
<rect x="406.9" y="599.5" width="56.2" height="1.80" fill="#909078"/>
<rect x="406.9" y="601" width="56.2" height="2.80" fill="#a0a088"/>
<rect x="406.9" y="603.5" width="56.2" height="0.80" fill="#6060a0"/>
<rect x="406.9" y="604" width="56.2" height="2.30" fill="#404090"/>
<rect x="406.9" y="606" width="56.2" height="2.30" fill="#a0a898"/>
<rect x="406.9" y="608" width="56.2" height="1.30" fill="#787880"/>
<rect x="406.9" y="609" width="56.2" height="2.30" fill="#9090a8"/>
<rect x="406.9" y="611" width="56.2" height="1.80" fill="#8080a0"/>
<rect x="406.9" y="612.5" width="56.2" height="1.80" fill="#505090"/>
<rect x="406.9" y="614" width="56.2" height="1.80" fill="#a8a898"/>
<rect x="406.9" y="615.5" width="56.2" height="1.30" fill="#808090"/>
<rect x="406.9" y="616.5" width="56.2" height="3.30" fill="#5050a0"/>
<rect x="406.9" y="619.5" width="56.2" height="1.30" fill="#9090b0"/>
<rect x="406.9" y="620.5" width="56.2" height="1.30" fill="#808088"/>
<rect x="406.9" y="621.5" width="56.2" height="2.30" fill="#a0a098"/>
<rect x="406.9" y="623.5" width="56.2" height="1.80" fill="#505090"/>
<rect x="406.9" y="625" width="56.2" height="3.30" fill="#7070a0"/>
<rect x="406.9" y="628" width="56.2" height="1.30" fill="#5858a0"/>
<rect x="406.9" y="629" width="56.2" height="8.30" fill="#4848a4"/>
<rect x="406.9" y="637" width="56.2" height="1.30" fill="#7070a8"/>
<rect x="406.9" y="638" width="56.2" height="3.30" fill="#9098b0"/>
<rect x="406.9" y="641" width="56.2" height="2.30" fill="#5050a0"/>
<rect x="406.9" y="643" width="56.2" height="2.30" fill="#4040a0"/>
<rect x="406.9" y="645" width="56.2" height="3.30" fill="#6868a8"/>
<rect x="406.9" y="648" width="56.2" height="3.30" fill="#404898"/>
<rect x="406.9" y="651" width="56.2" height="1.80" fill="#505878"/>
<rect x="406.9" y="652.5" width="56.2" height="1.80" fill="#c8c890"/>
<rect x="406.9" y="654" width="56.2" height="1.30" fill="#686840"/>
<rect x="406.9" y="655" width="56.2" height="3.30" fill="#b0b068"/>
<rect x="406.9" y="658" width="56.2" height="2.30" fill="#a09850"/>
<rect x="406.9" y="660" width="56.2" height="1.30" fill="#b8a840"/>
<rect x="406.9" y="661" width="56.2" height="2.30" fill="#d8d040"/>
<rect x="406.9" y="663" width="56.2" height="3.30" fill="#c0c048"/>
<rect x="406.9" y="666" width="56.2" height="1.30" fill="#a8a878"/>
<rect x="406.9" y="667" width="56.2" height="2.30" fill="#585838"/>
<rect x="406.9" y="669" width="56.2" height="2.30" fill="#b0b068"/>
<rect x="406.9" y="671" width="56.2" height="1.30" fill="#c0b850"/>
<rect x="406.9" y="672" width="56.2" height="4.30" fill="#e0e030"/>
<rect x="406.9" y="676" width="56.2" height="2.30" fill="#c0c048"/>
<rect x="406.9" y="678" width="56.2" height="2.30" fill="#909070"/>
<rect x="406.9" y="680" width="56.2" height="2.30" fill="#a09888"/>
<rect x="406.9" y="682" width="56.2" height="2.80" fill="#a0a078"/>
<rect x="406.9" y="684.5" width="56.2" height="1.30" fill="#8888a0"/>
<rect x="406.9" y="685.5" width="56.2" height="3.30" fill="#484898"/>
<rect x="406.9" y="688.5" width="56.2" height="1.80" fill="#9098a8"/>
<rect x="406.9" y="690" width="56.2" height="1.80" fill="#a0a098"/>
<rect x="406.9" y="691.5" width="56.2" height="1.30" fill="#505040"/>
<rect x="406.9" y="692.5" width="56.2" height="1.80" fill="#b0b070"/>
<rect x="406.9" y="694" width="56.2" height="3.30" fill="#b8b848"/>
<rect x="406.9" y="697" width="56.2" height="1.30" fill="#a8a870"/>
<rect x="406.9" y="698" width="56.2" height="1.80" fill="#404038"/>
<rect x="406.9" y="699.5" width="56.2" height="2.30" fill="#a0a0b8"/>
<rect x="406.9" y="701.5" width="56.2" height="1.80" fill="#404040"/>
<rect x="406.9" y="703" width="56.2" height="1.80" fill="#a0a068"/>
<rect x="406.9" y="704.5" width="56.2" height="2.30" fill="#b0b070"/>
<rect x="406.9" y="706.5" width="56.2" height="2.30" fill="#989860"/>
<rect x="406.9" y="708.5" width="56.2" height="1.30" fill="#c0b088"/>
<rect x="406.9" y="709.5" width="56.2" height="1.30" fill="#807830"/>
<rect x="406.9" y="710.5" width="56.2" height="0.80" fill="#b8b040"/>
<rect x="406.9" y="711" width="56.2" height="3.80" fill="#e8e030"/>
<rect x="406.9" y="714.5" width="56.2" height="1.30" fill="#706828"/>
<rect x="406.9" y="715.5" width="56.2" height="3.80" fill="#b8b068"/>
<rect x="406.9" y="719" width="56.2" height="1.30" fill="#606040"/>
<rect x="406.9" y="720" width="56.2" height="2.30" fill="#808870"/>
<rect x="406.9" y="722" width="56.2" height="2.30" fill="#c0c068"/>
<rect x="406.9" y="724" width="56.2" height="2.80" fill="#687070"/>
<rect x="406.9" y="726.5" width="56.2" height="1.80" fill="#b0a868"/>
<rect x="406.9" y="728" width="56.2" height="2.30" fill="#d0c858"/>
<rect x="406.9" y="730" width="56.2" height="1.30" fill="#606020"/>
<rect x="406.9" y="731" width="56.2" height="2.30" fill="#c0c040"/>
<rect x="406.9" y="733" width="56.2" height="4.30" fill="#e8e030"/>
<rect x="406.9" y="737" width="56.2" height="3.30" fill="#d8d840"/>
<rect x="462.8" y="515.6" width="57.5" height="1.70" fill="#d89020"/>
<rect x="462.8" y="517" width="57.5" height="2.80" fill="#e8a820"/>
<rect x="462.8" y="519.5" width="57.5" height="2.30" fill="#e0a020"/>
<rect x="462.8" y="521.5" width="57.5" height="1.80" fill="#d88818"/>
<rect x="462.8" y="523" width="57.5" height="2.30" fill="#b87010"/>
<rect x="462.8" y="525" width="57.5" height="1.30" fill="#e8a030"/>
<rect x="462.8" y="526" width="57.5" height="1.80" fill="#c86818"/>
<rect x="462.8" y="527.5" width="57.5" height="1.80" fill="#f0b020"/>
<rect x="462.8" y="529" width="57.5" height="2.30" fill="#e0a818"/>
<rect x="462.8" y="531" width="57.5" height="2.30" fill="#f0b828"/>
<rect x="462.8" y="533" width="57.5" height="1.30" fill="#d89020"/>
<rect x="462.8" y="534" width="57.5" height="2.30" fill="#b86810"/>
<rect x="462.8" y="536" width="57.5" height="2.30" fill="#e88830"/>
<rect x="462.8" y="538" width="57.5" height="1.80" fill="#e8a020"/>
<rect x="462.8" y="539.5" width="57.5" height="1.80" fill="#f0c020"/>
<rect x="462.8" y="541" width="57.5" height="20.30" fill="#ecd820"/>
<rect x="462.8" y="561" width="57.5" height="2.30" fill="#e0a020"/>
<rect x="462.8" y="563" width="57.5" height="2.30" fill="#c86818"/>
<rect x="462.8" y="565" width="57.5" height="3.30" fill="#e8b030"/>
<rect x="462.8" y="568" width="57.5" height="3.30" fill="#d04818"/>
<rect x="462.8" y="571" width="57.5" height="2.30" fill="#a09070"/>
<rect x="462.8" y="573" width="57.5" height="4.30" fill="#c0b860"/>
<rect x="462.8" y="577" width="57.5" height="1.30" fill="#a09850"/>
<rect x="462.8" y="578" width="57.5" height="4.30" fill="#e8e030"/>
<rect x="462.8" y="582" width="57.5" height="2.30" fill="#a8a050"/>
<rect x="462.8" y="584" width="57.5" height="3.30" fill="#d8d040"/>
<rect x="462.8" y="587" width="57.5" height="2.30" fill="#706850"/>
<rect x="462.8" y="589" width="57.5" height="3.30" fill="#b0a870"/>
<rect x="462.8" y="592" width="57.5" height="13.30" fill="#f0e020"/>
<rect x="462.8" y="605" width="57.5" height="1.30" fill="#e0d030"/>
<rect x="462.8" y="606" width="57.5" height="4.30" fill="#f0e020"/>
<rect x="462.8" y="610" width="57.5" height="1.30" fill="#e0d030"/>
<rect x="462.8" y="611" width="57.5" height="4.30" fill="#f0e020"/>
<rect x="462.8" y="615" width="57.5" height="1.30" fill="#c0b040"/>
<rect x="462.8" y="616" width="57.5" height="4.30" fill="#b0a870"/>
<rect x="462.8" y="620" width="57.5" height="3.30" fill="#e8e030"/>
<rect x="462.8" y="623" width="57.5" height="1.80" fill="#806830"/>
<rect x="462.8" y="624.5" width="57.5" height="3.80" fill="#c8c060"/>
<rect x="462.8" y="628" width="57.5" height="2.30" fill="#a09858"/>
<rect x="462.8" y="630" width="57.5" height="2.80" fill="#706068"/>
<rect x="462.8" y="632.5" width="57.5" height="1.80" fill="#a8a058"/>
<rect x="462.8" y="634" width="57.5" height="4.30" fill="#e0e038"/>
<rect x="462.8" y="638" width="57.5" height="1.30" fill="#c8c030"/>
<rect x="462.8" y="639" width="57.5" height="2.30" fill="#d8d048"/>
<rect x="462.8" y="641" width="57.5" height="1.80" fill="#909040"/>
<rect x="462.8" y="642.5" width="57.5" height="2.80" fill="#d0c840"/>
<rect x="462.8" y="645" width="57.5" height="5.30" fill="#e8e028"/>
<rect x="462.8" y="650" width="57.5" height="1.80" fill="#908020"/>
<rect x="462.8" y="651.5" width="57.5" height="2.80" fill="#d8d040"/>
<rect x="462.8" y="654" width="57.5" height="3.30" fill="#e0d830"/>
<rect x="462.8" y="657" width="57.5" height="1.30" fill="#b8b040"/>
<rect x="462.8" y="658" width="57.5" height="2.80" fill="#c0b860"/>
<rect x="462.8" y="660.5" width="57.5" height="1.80" fill="#a09848"/>
<rect x="462.8" y="662" width="57.5" height="4.30" fill="#e8e030"/>
<rect x="462.8" y="666" width="57.5" height="1.30" fill="#d0b850"/>
<rect x="462.8" y="667" width="57.5" height="1.30" fill="#806818"/>
<rect x="462.8" y="668" width="57.5" height="2.80" fill="#c8c858"/>
<rect x="462.8" y="670.5" width="57.5" height="1.80" fill="#a0a070"/>
<rect x="462.8" y="672" width="57.5" height="2.30" fill="#787078"/>
<rect x="462.8" y="674" width="57.5" height="2.30" fill="#a0a070"/>
<rect x="462.8" y="676" width="57.5" height="2.30" fill="#908860"/>
<rect x="462.8" y="678" width="57.5" height="3.30" fill="#a8a080"/>
<rect x="462.8" y="681" width="57.5" height="2.30" fill="#989060"/>
<rect x="462.8" y="683" width="57.5" height="3.30" fill="#b8b870"/>
<rect x="462.8" y="686" width="57.5" height="1.30" fill="#605870"/>
<rect x="462.8" y="687" width="57.5" height="4.30" fill="#6860a8"/>
<rect x="462.8" y="691" width="57.5" height="1.30" fill="#807888"/>
<rect x="462.8" y="692" width="57.5" height="5.30" fill="#a8a880"/>
<rect x="462.8" y="697" width="57.5" height="2.80" fill="#504880"/>
<rect x="462.8" y="699.5" width="57.5" height="1.80" fill="#c0b850"/>
<rect x="462.8" y="701" width="57.5" height="18.80" fill="#eae020"/>
<rect x="462.8" y="719.5" width="57.5" height="2.30" fill="#c0b030"/>
<rect x="462.8" y="721.5" width="57.5" height="3.80" fill="#f0c820"/>
<rect x="462.8" y="725" width="57.5" height="3.30" fill="#f0d818"/>
<rect x="462.8" y="728" width="57.5" height="1.80" fill="#d0c040"/>
<rect x="462.8" y="729.5" width="57.5" height="2.80" fill="#585060"/>
<rect x="462.8" y="732" width="57.5" height="1.80" fill="#b0a850"/>
<rect x="462.8" y="733.5" width="57.5" height="2.80" fill="#d8d040"/>
<rect x="462.8" y="736" width="57.5" height="4.30" fill="#e0e030"/>
<path d="M321.5 513.5 V517" stroke="#555" stroke-width="0.7"/>
<path d="M378 513.5 V517" stroke="#555" stroke-width="0.7"/>
<path d="M435 513.5 V517" stroke="#555" stroke-width="0.7"/>
<path d="M490.5 513.5 V517" stroke="#555" stroke-width="0.7"/>
<text x="352.2" y="475.3" class="t125" text-anchor="middle">LPS</text>
<text x="461.7" y="475.3" class="t125" text-anchor="middle">LPS + IL-10</text>
<path d="M312.3 483.2 H392 M421.9 483.2 H501.5" stroke="#000" stroke-width="1.6"/>
<text x="322.1" y="503.6" class="sh" text-anchor="middle">WT</text>
<text x="434.4" y="503.6" class="sh" text-anchor="middle">WT</text>
<text x="377.4" y="496.6" class="sh" text-anchor="middle">mut-</text>
<text x="378.3" y="510.9" class="sh it" text-anchor="middle">Stat3</text>
<text x="489.6" y="496.6" class="sh" text-anchor="middle">mut-</text>
<text x="490.8" y="510.9" class="sh it" text-anchor="middle">Stat3</text>
</svg>
</body></html>
